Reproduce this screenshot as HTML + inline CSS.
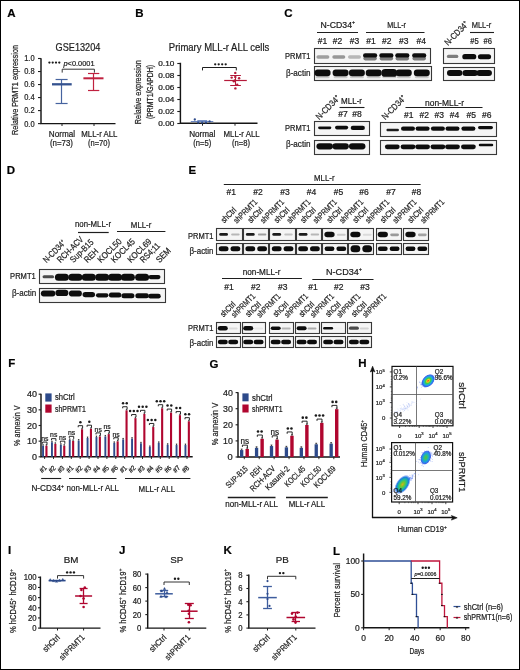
<!DOCTYPE html>
<html><head><meta charset="utf-8"><style>
html,body{margin:0;padding:0;background:#fff;width:520px;height:670px;overflow:hidden}
svg{display:block;will-change:transform}
text{font-family:"Liberation Sans", sans-serif;stroke:#1e1e1e;stroke-width:0.22px}
</style></head><body>
<svg width="520" height="670" viewBox="0 0 520 670" font-family='"Liberation Sans", sans-serif' fill="#1e1e1e">
<defs>
<filter id="b1" x="-50%" y="-80%" width="200%" height="260%"><feGaussianBlur stdDeviation="0.75"/></filter>
<filter id="b2" x="-50%" y="-80%" width="200%" height="260%"><feGaussianBlur stdDeviation="0.6"/></filter>
<filter id="b3" x="-50%" y="-50%" width="200%" height="200%"><feGaussianBlur stdDeviation="1.4"/></filter>
<radialGradient id="gq2a"><stop offset="0" stop-color="#e8201a"/><stop offset="0.18" stop-color="#f0d020"/><stop offset="0.38" stop-color="#40d040"/><stop offset="0.6" stop-color="#18b0e0"/><stop offset="0.85" stop-color="#2050e8" stop-opacity="0.85"/><stop offset="1" stop-color="#4060f0" stop-opacity="0"/></radialGradient>
<radialGradient id="gq2b"><stop offset="0" stop-color="#60c030"/><stop offset="0.3" stop-color="#30c080"/><stop offset="0.6" stop-color="#18a0e0"/><stop offset="0.85" stop-color="#2050e8" stop-opacity="0.8"/><stop offset="1" stop-color="#4060f0" stop-opacity="0"/></radialGradient>
<radialGradient id="gq4b"><stop offset="0" stop-color="#d0b020"/><stop offset="0.25" stop-color="#70c830"/><stop offset="0.5" stop-color="#20c090"/><stop offset="0.75" stop-color="#1880e0"/><stop offset="1" stop-color="#4060f0" stop-opacity="0"/></radialGradient>
</defs>
<rect x="0" y="0" width="520" height="670" fill="#fff"/>
<text x="7.30" y="16.90" font-size="11.5" fill="#000" font-weight="bold">A</text>
<text x="78.00" y="51.20" font-size="10.3" text-anchor="middle" textLength="44.80" lengthAdjust="spacingAndGlyphs">GSE13204</text>
<path d="M41.0,58.2 V123.6 H115.5" stroke="#151515" stroke-width="1.45" fill="none" />
<line x1="38.00" y1="123.60" x2="41.00" y2="123.60" stroke="#1e1e1e" stroke-width="1.1" />
<text x="34.60" y="126.50" font-size="8.2" text-anchor="end" textLength="10.40" lengthAdjust="spacingAndGlyphs">0.0</text>
<line x1="38.00" y1="110.58" x2="41.00" y2="110.58" stroke="#1e1e1e" stroke-width="1.1" />
<text x="34.60" y="113.48" font-size="8.2" text-anchor="end" textLength="10.40" lengthAdjust="spacingAndGlyphs">0.2</text>
<line x1="38.00" y1="97.56" x2="41.00" y2="97.56" stroke="#1e1e1e" stroke-width="1.1" />
<text x="34.60" y="100.46" font-size="8.2" text-anchor="end" textLength="10.40" lengthAdjust="spacingAndGlyphs">0.4</text>
<line x1="38.00" y1="84.54" x2="41.00" y2="84.54" stroke="#1e1e1e" stroke-width="1.1" />
<text x="34.60" y="87.44" font-size="8.2" text-anchor="end" textLength="10.40" lengthAdjust="spacingAndGlyphs">0.6</text>
<line x1="38.00" y1="71.52" x2="41.00" y2="71.52" stroke="#1e1e1e" stroke-width="1.1" />
<text x="34.60" y="74.42" font-size="8.2" text-anchor="end" textLength="10.40" lengthAdjust="spacingAndGlyphs">0.8</text>
<line x1="38.00" y1="58.50" x2="41.00" y2="58.50" stroke="#1e1e1e" stroke-width="1.1" />
<text x="34.60" y="61.40" font-size="8.2" text-anchor="end" textLength="10.40" lengthAdjust="spacingAndGlyphs">1.0</text>
<line x1="62.00" y1="123.60" x2="62.00" y2="126.00" stroke="#1e1e1e" stroke-width="1.0" />
<line x1="94.00" y1="123.60" x2="94.00" y2="126.00" stroke="#1e1e1e" stroke-width="1.0" />
<text x="17.80" y="90.00" font-size="8.8" text-anchor="middle" textLength="90.00" lengthAdjust="spacingAndGlyphs" transform="rotate(-90 17.80 90.00)">Relative PRMT1 expression</text>
<line x1="61.50" y1="79.30" x2="61.50" y2="103.60" stroke="#46639f" stroke-width="1.2" />
<line x1="55.60" y1="79.50" x2="67.60" y2="79.50" stroke="#46639f" stroke-width="1.2" />
<line x1="55.60" y1="103.50" x2="67.60" y2="103.50" stroke="#46639f" stroke-width="1.2" />
<line x1="52.00" y1="84.30" x2="71.70" y2="84.30" stroke="#34528f" stroke-width="2.3" />
<line x1="93.50" y1="73.30" x2="93.50" y2="90.50" stroke="#c0213f" stroke-width="1.2" />
<line x1="88.00" y1="73.50" x2="99.30" y2="73.50" stroke="#c0213f" stroke-width="1.2" />
<line x1="88.00" y1="90.50" x2="99.30" y2="90.50" stroke="#c0213f" stroke-width="1.2" />
<line x1="83.40" y1="78.30" x2="103.50" y2="78.30" stroke="#c0213f" stroke-width="2.0" />
<path d="M62.2,72.6 V69.2 H94.4 V72.6" stroke="#1e1e1e" stroke-width="0.9" fill="none" />
<circle cx="49.40" cy="62.60" r="1.15" fill="#1a1a1a" />
<circle cx="52.70" cy="62.60" r="1.15" fill="#1a1a1a" />
<circle cx="56.00" cy="62.60" r="1.15" fill="#1a1a1a" />
<circle cx="59.30" cy="62.60" r="1.15" fill="#1a1a1a" />
<text x="63.50" y="65.60" font-size="7.6" textLength="31.00" lengthAdjust="spacingAndGlyphs"><tspan font-style="italic">p</tspan>&lt;0.0001</text>
<text x="61.90" y="136.90" font-size="8.6" text-anchor="middle" textLength="26.30" lengthAdjust="spacingAndGlyphs">Normal</text>
<text x="61.50" y="145.60" font-size="8.6" text-anchor="middle" textLength="23.00" lengthAdjust="spacingAndGlyphs">(n=73)</text>
<text x="99.40" y="136.90" font-size="8.6" text-anchor="middle" textLength="36.20" lengthAdjust="spacingAndGlyphs">MLL-r ALL</text>
<text x="99.00" y="145.60" font-size="8.6" text-anchor="middle" textLength="22.00" lengthAdjust="spacingAndGlyphs">(n=70)</text>
<text x="135.30" y="16.90" font-size="11.5" fill="#000" font-weight="bold">B</text>
<text x="168.80" y="50.80" font-size="10.3" textLength="100.50" lengthAdjust="spacingAndGlyphs">Primary MLL-r ALL cells</text>
<path d="M180.4,62.8 V123.3 H257.5" stroke="#151515" stroke-width="1.45" fill="none" />
<line x1="177.30" y1="123.50" x2="180.40" y2="123.50" stroke="#1e1e1e" stroke-width="1.1" />
<text x="174.30" y="125.70" font-size="6.8" text-anchor="end" textLength="16.00" lengthAdjust="spacingAndGlyphs">0.00</text>
<line x1="177.30" y1="111.50" x2="180.40" y2="111.50" stroke="#1e1e1e" stroke-width="1.1" />
<text x="174.30" y="113.70" font-size="6.8" text-anchor="end" textLength="16.00" lengthAdjust="spacingAndGlyphs">0.02</text>
<line x1="177.30" y1="99.50" x2="180.40" y2="99.50" stroke="#1e1e1e" stroke-width="1.1" />
<text x="174.30" y="101.70" font-size="6.8" text-anchor="end" textLength="16.00" lengthAdjust="spacingAndGlyphs">0.04</text>
<line x1="177.30" y1="87.50" x2="180.40" y2="87.50" stroke="#1e1e1e" stroke-width="1.1" />
<text x="174.30" y="89.70" font-size="6.8" text-anchor="end" textLength="16.00" lengthAdjust="spacingAndGlyphs">0.06</text>
<line x1="177.30" y1="75.50" x2="180.40" y2="75.50" stroke="#1e1e1e" stroke-width="1.1" />
<text x="174.30" y="77.70" font-size="6.8" text-anchor="end" textLength="16.00" lengthAdjust="spacingAndGlyphs">0.08</text>
<line x1="177.30" y1="63.50" x2="180.40" y2="63.50" stroke="#1e1e1e" stroke-width="1.1" />
<text x="174.30" y="65.70" font-size="6.8" text-anchor="end" textLength="16.00" lengthAdjust="spacingAndGlyphs">0.10</text>
<line x1="202.50" y1="123.30" x2="202.50" y2="125.70" stroke="#1e1e1e" stroke-width="1.0" />
<line x1="235.00" y1="123.30" x2="235.00" y2="125.70" stroke="#1e1e1e" stroke-width="1.0" />
<text x="141.00" y="92.20" font-size="8.8" text-anchor="middle" textLength="64.00" lengthAdjust="spacingAndGlyphs" transform="rotate(-90 141.00 92.20)">Relative expression</text>
<text x="153.40" y="92.00" font-size="8.8" text-anchor="middle" textLength="54.00" lengthAdjust="spacingAndGlyphs" transform="rotate(-90 153.40 92.00)">(PRMT1/GAPDH)</text>
<line x1="190.80" y1="121.50" x2="213.30" y2="121.50" stroke="#6a86c0" stroke-width="1.0" />
<line x1="197.30" y1="120.50" x2="207.20" y2="120.50" stroke="#6a86c0" stroke-width="0.9" />
<circle cx="194.80" cy="119.50" r="1.15" fill="#2d4a8a" />
<circle cx="198.20" cy="122.60" r="1.15" fill="#2d4a8a" />
<circle cx="202.20" cy="122.60" r="1.15" fill="#2d4a8a" />
<circle cx="205.90" cy="122.60" r="1.15" fill="#2d4a8a" />
<circle cx="209.60" cy="121.40" r="1.15" fill="#2d4a8a" />
<line x1="224.20" y1="80.50" x2="246.80" y2="80.50" stroke="#b51a3a" stroke-width="1.2" />
<line x1="235.50" y1="75.30" x2="235.50" y2="85.00" stroke="#b51a3a" stroke-width="1.1" />
<line x1="230.20" y1="75.50" x2="240.90" y2="75.50" stroke="#b51a3a" stroke-width="1.0" />
<line x1="230.20" y1="85.50" x2="240.90" y2="85.50" stroke="#b51a3a" stroke-width="1.0" />
<circle cx="235.30" cy="72.90" r="1.2" fill="#b51a3a" />
<circle cx="231.70" cy="77.60" r="1.2" fill="#b51a3a" />
<circle cx="235.30" cy="76.90" r="1.2" fill="#b51a3a" />
<circle cx="239.10" cy="78.20" r="1.2" fill="#b51a3a" />
<circle cx="233.80" cy="81.30" r="1.2" fill="#b51a3a" />
<circle cx="237.20" cy="84.70" r="1.2" fill="#b51a3a" />
<circle cx="235.40" cy="88.40" r="1.2" fill="#b51a3a" />
<circle cx="234.80" cy="80.40" r="1.2" fill="#b51a3a" />
<path d="M202.5,70.4 V67.5 H236.3 V70.4" stroke="#1e1e1e" stroke-width="1.0" fill="none" />
<circle cx="215.20" cy="64.30" r="1.15" fill="#1a1a1a" />
<circle cx="218.70" cy="64.30" r="1.15" fill="#1a1a1a" />
<circle cx="222.20" cy="64.30" r="1.15" fill="#1a1a1a" />
<circle cx="225.70" cy="64.30" r="1.15" fill="#1a1a1a" />
<text x="202.30" y="136.70" font-size="8.6" text-anchor="middle" textLength="26.30" lengthAdjust="spacingAndGlyphs">Normal</text>
<text x="202.30" y="145.90" font-size="8.6" text-anchor="middle" textLength="18.00" lengthAdjust="spacingAndGlyphs">(n=5)</text>
<text x="241.60" y="136.70" font-size="8.6" text-anchor="middle" textLength="36.20" lengthAdjust="spacingAndGlyphs">MLL-r ALL</text>
<text x="241.00" y="145.90" font-size="8.6" text-anchor="middle" textLength="18.00" lengthAdjust="spacingAndGlyphs">(n=8)</text>
<text x="284.30" y="17.00" font-size="11.5" fill="#000" font-weight="bold">C</text>
<text x="337.80" y="27.90" font-size="8.6" text-anchor="middle" textLength="34.5" lengthAdjust="spacingAndGlyphs">N-CD34<tspan font-size="5.16" dy="-3.44">+</tspan></text>
<line x1="317.00" y1="32.50" x2="358.00" y2="32.50" stroke="#1e1e1e" stroke-width="1.1" />
<text x="396.60" y="27.90" font-size="8.6" text-anchor="middle" textLength="18.80" lengthAdjust="spacingAndGlyphs">MLL-r</text>
<line x1="366.00" y1="32.50" x2="424.50" y2="32.50" stroke="#1e1e1e" stroke-width="1.1" />
<text x="322.50" y="44.00" font-size="8.4" text-anchor="middle" textLength="9.50" lengthAdjust="spacingAndGlyphs">#1</text>
<text x="337.50" y="44.00" font-size="8.4" text-anchor="middle" textLength="9.50" lengthAdjust="spacingAndGlyphs">#2</text>
<text x="354.50" y="44.00" font-size="8.4" text-anchor="middle" textLength="9.50" lengthAdjust="spacingAndGlyphs">#3</text>
<text x="371.00" y="44.00" font-size="8.4" text-anchor="middle" textLength="9.50" lengthAdjust="spacingAndGlyphs">#1</text>
<text x="386.75" y="44.00" font-size="8.4" text-anchor="middle" textLength="9.50" lengthAdjust="spacingAndGlyphs">#2</text>
<text x="403.75" y="44.00" font-size="8.4" text-anchor="middle" textLength="9.50" lengthAdjust="spacingAndGlyphs">#3</text>
<text x="421.25" y="44.00" font-size="8.4" text-anchor="middle" textLength="9.50" lengthAdjust="spacingAndGlyphs">#4</text>
<text x="310.50" y="59.30" font-size="8.6" text-anchor="end" textLength="25.50" lengthAdjust="spacingAndGlyphs">PRMT1</text>
<text x="310.50" y="76.00" font-size="8.6" text-anchor="end" textLength="24.50" lengthAdjust="spacingAndGlyphs">β-actin</text>
<rect x="314.50" y="48.50" width="116.00" height="15.00" fill="#f5f5f5" stroke="#383838" stroke-width="1.1" />
<rect x="314.50" y="66.50" width="117.00" height="14.00" fill="#f5f5f5" stroke="#383838" stroke-width="1.1" />
<rect x="316.40" y="55.30" width="13.00" height="3.40" rx="1.70" fill="rgb(159,159,159)" filter="url(#b1)"/>
<rect x="332.30" y="55.30" width="13.00" height="3.40" rx="1.70" fill="rgb(151,151,151)" filter="url(#b1)"/>
<rect x="348.00" y="55.30" width="13.00" height="3.40" rx="1.70" fill="rgb(183,183,183)" filter="url(#b1)"/>
<rect x="363.35" y="56.80" width="13.50" height="3.60" rx="1.80" fill="rgb(123,123,123)" filter="url(#b1)"/>
<rect x="363.00" y="53.20" width="14.20" height="4.40" rx="2.20" fill="rgb(15,15,15)" filter="url(#b1)"/>
<rect x="379.65" y="56.80" width="13.50" height="3.60" rx="1.80" fill="rgb(123,123,123)" filter="url(#b1)"/>
<rect x="379.30" y="53.20" width="14.20" height="4.40" rx="2.20" fill="rgb(15,15,15)" filter="url(#b1)"/>
<rect x="395.55" y="56.80" width="13.50" height="3.60" rx="1.80" fill="rgb(123,123,123)" filter="url(#b1)"/>
<rect x="395.20" y="53.20" width="14.20" height="4.40" rx="2.20" fill="rgb(15,15,15)" filter="url(#b1)"/>
<rect x="412.45" y="56.80" width="13.50" height="3.60" rx="1.80" fill="rgb(123,123,123)" filter="url(#b1)"/>
<rect x="412.10" y="53.20" width="14.20" height="4.40" rx="2.20" fill="rgb(15,15,15)" filter="url(#b1)"/>
<rect x="315.60" y="75.70" width="14.00" height="2.60" rx="1.30" fill="rgb(202,202,202)" filter="url(#b2)"/>
<rect x="314.60" y="69.60" width="16.00" height="6.60" rx="3.30" fill="rgb(15,15,15)" filter="url(#b1)"/>
<rect x="333.60" y="75.70" width="14.00" height="2.60" rx="1.30" fill="rgb(202,202,202)" filter="url(#b2)"/>
<rect x="332.60" y="69.60" width="16.00" height="6.60" rx="3.30" fill="rgb(15,15,15)" filter="url(#b1)"/>
<rect x="349.90" y="75.70" width="14.00" height="2.60" rx="1.30" fill="rgb(202,202,202)" filter="url(#b2)"/>
<rect x="348.90" y="69.60" width="16.00" height="6.60" rx="3.30" fill="rgb(15,15,15)" filter="url(#b1)"/>
<rect x="366.70" y="75.70" width="14.00" height="2.60" rx="1.30" fill="rgb(202,202,202)" filter="url(#b2)"/>
<rect x="365.70" y="69.60" width="16.00" height="6.60" rx="3.30" fill="rgb(15,15,15)" filter="url(#b1)"/>
<rect x="382.30" y="75.70" width="14.00" height="2.60" rx="1.30" fill="rgb(202,202,202)" filter="url(#b2)"/>
<rect x="381.30" y="69.00" width="16.00" height="7.80" rx="3.90" fill="rgb(15,15,15)" filter="url(#b1)"/>
<rect x="396.80" y="75.70" width="14.00" height="2.60" rx="1.30" fill="rgb(202,202,202)" filter="url(#b2)"/>
<rect x="395.80" y="69.60" width="16.00" height="6.60" rx="3.30" fill="rgb(15,15,15)" filter="url(#b1)"/>
<rect x="414.80" y="75.70" width="14.00" height="2.60" rx="1.30" fill="rgb(202,202,202)" filter="url(#b2)"/>
<rect x="413.80" y="69.60" width="16.00" height="6.60" rx="3.30" fill="rgb(15,15,15)" filter="url(#b1)"/>
<text x="448.00" y="46.00" font-size="8.8" transform="rotate(-45 448.00 46.00)" textLength="30" lengthAdjust="spacingAndGlyphs">N-CD34<tspan font-size="5.28" dy="-3.52">+</tspan></text>
<text x="481.50" y="27.90" font-size="8.6" text-anchor="middle" textLength="19.60" lengthAdjust="spacingAndGlyphs">MLL-r</text>
<line x1="470.00" y1="32.50" x2="494.00" y2="32.50" stroke="#1e1e1e" stroke-width="1.1" />
<text x="474.40" y="44.00" font-size="8.4" text-anchor="middle" textLength="8.50" lengthAdjust="spacingAndGlyphs">#5</text>
<text x="487.80" y="44.00" font-size="8.4" text-anchor="middle" textLength="8.50" lengthAdjust="spacingAndGlyphs">#6</text>
<rect x="443.50" y="48.50" width="51.00" height="15.00" fill="#f5f5f5" stroke="#383838" stroke-width="1.1" />
<rect x="443.50" y="67.50" width="51.00" height="13.00" fill="#f5f5f5" stroke="#383838" stroke-width="1.1" />
<rect x="446.85" y="54.80" width="11.50" height="3.20" rx="1.60" fill="rgb(123,123,123)" filter="url(#b2)"/>
<rect x="462.30" y="54.10" width="14.00" height="5.20" rx="2.60" fill="rgb(15,15,15)" filter="url(#b1)"/>
<rect x="477.90" y="54.20" width="13.20" height="5.00" rx="2.50" fill="rgb(15,15,15)" filter="url(#b1)"/>
<rect x="446.95" y="70.10" width="15.50" height="6.00" rx="3.00" fill="rgb(15,15,15)" filter="url(#b1)"/>
<rect x="462.45" y="70.10" width="15.50" height="6.00" rx="3.00" fill="rgb(15,15,15)" filter="url(#b1)"/>
<rect x="476.45" y="70.10" width="15.50" height="6.00" rx="3.00" fill="rgb(15,15,15)" filter="url(#b1)"/>
<text x="319.30" y="120.20" font-size="8.8" transform="rotate(-45 319.30 120.20)" textLength="30" lengthAdjust="spacingAndGlyphs">N-CD34<tspan font-size="5.28" dy="-3.52">+</tspan></text>
<text x="351.50" y="103.50" font-size="8.6" text-anchor="middle" textLength="21.00" lengthAdjust="spacingAndGlyphs">MLL-r</text>
<line x1="339.50" y1="107.50" x2="364.50" y2="107.50" stroke="#1e1e1e" stroke-width="1.1" />
<text x="343.00" y="117.30" font-size="8.4" text-anchor="middle" textLength="9.50" lengthAdjust="spacingAndGlyphs">#7</text>
<text x="357.00" y="117.30" font-size="8.4" text-anchor="middle" textLength="9.50" lengthAdjust="spacingAndGlyphs">#8</text>
<text x="310.50" y="131.00" font-size="8.6" text-anchor="end" textLength="25.50" lengthAdjust="spacingAndGlyphs">PRMT1</text>
<text x="310.50" y="147.30" font-size="8.6" text-anchor="end" textLength="24.50" lengthAdjust="spacingAndGlyphs">β-actin</text>
<rect x="314.50" y="121.50" width="55.00" height="14.00" fill="#f5f5f5" stroke="#383838" stroke-width="1.1" />
<rect x="314.50" y="140.50" width="55.00" height="14.00" fill="#f5f5f5" stroke="#383838" stroke-width="1.1" />
<rect x="318.10" y="126.40" width="13.20" height="2.80" rx="1.40" fill="rgb(15,15,15)" filter="url(#b2)"/>
<rect x="335.00" y="125.80" width="13.20" height="3.60" rx="1.80" fill="rgb(15,15,15)" filter="url(#b1)"/>
<rect x="350.70" y="125.80" width="14.20" height="4.20" rx="2.10" fill="rgb(15,15,15)" filter="url(#b1)"/>
<rect x="316.45" y="143.15" width="16.50" height="6.30" rx="3.15" fill="rgb(15,15,15)" filter="url(#b1)"/>
<rect x="332.35" y="143.15" width="16.50" height="6.30" rx="3.15" fill="rgb(15,15,15)" filter="url(#b1)"/>
<rect x="348.95" y="143.15" width="16.50" height="6.30" rx="3.15" fill="rgb(15,15,15)" filter="url(#b1)"/>
<text x="385.30" y="120.20" font-size="8.8" transform="rotate(-45 385.30 120.20)" textLength="30" lengthAdjust="spacingAndGlyphs">N-CD34<tspan font-size="5.28" dy="-3.52">+</tspan></text>
<text x="444.50" y="105.50" font-size="8.6" text-anchor="middle" textLength="39.00" lengthAdjust="spacingAndGlyphs">non-MLL-r</text>
<line x1="405.50" y1="107.50" x2="482.50" y2="107.50" stroke="#1e1e1e" stroke-width="1.1" />
<text x="408.75" y="118.00" font-size="8.4" text-anchor="middle" textLength="9.50" lengthAdjust="spacingAndGlyphs">#1</text>
<text x="424.25" y="118.00" font-size="8.4" text-anchor="middle" textLength="9.50" lengthAdjust="spacingAndGlyphs">#2</text>
<text x="439.25" y="118.00" font-size="8.4" text-anchor="middle" textLength="9.50" lengthAdjust="spacingAndGlyphs">#3</text>
<text x="454.50" y="118.00" font-size="8.4" text-anchor="middle" textLength="9.50" lengthAdjust="spacingAndGlyphs">#4</text>
<text x="471.25" y="118.00" font-size="8.4" text-anchor="middle" textLength="9.50" lengthAdjust="spacingAndGlyphs">#5</text>
<text x="486.75" y="118.00" font-size="8.4" text-anchor="middle" textLength="9.50" lengthAdjust="spacingAndGlyphs">#6</text>
<rect x="380.50" y="122.50" width="116.00" height="14.00" fill="#f5f5f5" stroke="#383838" stroke-width="1.1" />
<rect x="380.50" y="140.50" width="116.00" height="14.00" fill="#f5f5f5" stroke="#383838" stroke-width="1.1" />
<rect x="386.45" y="128.80" width="12.50" height="2.40" rx="1.20" fill="rgb(27,27,27)" filter="url(#b2)"/>
<rect x="401.00" y="126.40" width="14.00" height="4.40" rx="2.20" fill="rgb(15,15,15)" filter="url(#b1)"/>
<rect x="415.60" y="126.40" width="14.00" height="4.40" rx="2.20" fill="rgb(15,15,15)" filter="url(#b1)"/>
<rect x="430.90" y="126.40" width="14.00" height="4.40" rx="2.20" fill="rgb(15,15,15)" filter="url(#b1)"/>
<rect x="445.50" y="126.40" width="14.00" height="4.40" rx="2.20" fill="rgb(15,15,15)" filter="url(#b1)"/>
<rect x="461.40" y="126.40" width="14.00" height="4.40" rx="2.20" fill="rgb(15,15,15)" filter="url(#b1)"/>
<rect x="478.00" y="125.90" width="15.00" height="3.40" rx="1.70" fill="rgb(15,15,15)" filter="url(#b2)"/>
<rect x="384.90" y="144.40" width="14.80" height="4.80" rx="2.40" fill="rgb(15,15,15)" filter="url(#b1)"/>
<rect x="400.60" y="144.40" width="14.80" height="4.80" rx="2.40" fill="rgb(15,15,15)" filter="url(#b1)"/>
<rect x="415.20" y="144.40" width="14.80" height="4.80" rx="2.40" fill="rgb(15,15,15)" filter="url(#b1)"/>
<rect x="430.50" y="144.40" width="14.80" height="4.80" rx="2.40" fill="rgb(15,15,15)" filter="url(#b1)"/>
<rect x="445.10" y="144.40" width="14.80" height="4.80" rx="2.40" fill="rgb(15,15,15)" filter="url(#b1)"/>
<rect x="461.00" y="144.40" width="14.80" height="4.80" rx="2.40" fill="rgb(15,15,15)" filter="url(#b1)"/>
<rect x="478.75" y="143.70" width="14.50" height="2.60" rx="1.30" fill="rgb(15,15,15)" filter="url(#b2)"/>
<text x="6.80" y="174.30" font-size="11.5" fill="#000" font-weight="bold">D</text>
<text x="93.00" y="227.40" font-size="8.6" text-anchor="middle" textLength="36.00" lengthAdjust="spacingAndGlyphs">non-MLL-r</text>
<line x1="78.00" y1="232.50" x2="108.70" y2="232.50" stroke="#1e1e1e" stroke-width="1.2" />
<text x="141.10" y="227.70" font-size="8.6" text-anchor="middle" textLength="20.50" lengthAdjust="spacingAndGlyphs">MLL-r</text>
<line x1="117.00" y1="231.50" x2="165.40" y2="231.50" stroke="#1e1e1e" stroke-width="1.1" />
<text x="46.60" y="263.30" font-size="8.8" transform="rotate(-45 46.60 263.30)" textLength="28" lengthAdjust="spacingAndGlyphs">N-CD34<tspan font-size="5.28" dy="-3.52">+</tspan></text>
<text x="60.60" y="263.30" font-size="8.8" textLength="33.00" lengthAdjust="spacingAndGlyphs" transform="rotate(-45 60.60 263.30)">RCH-ACV</text>
<text x="73.60" y="263.30" font-size="8.8" textLength="29.00" lengthAdjust="spacingAndGlyphs" transform="rotate(-45 73.60 263.30)">Sup-B15</text>
<text x="87.60" y="263.30" font-size="8.8" textLength="16.00" lengthAdjust="spacingAndGlyphs" transform="rotate(-45 87.60 263.30)">REH</text>
<text x="101.00" y="263.30" font-size="8.8" textLength="30.00" lengthAdjust="spacingAndGlyphs" transform="rotate(-45 101.00 263.30)">KOCL50</text>
<text x="114.40" y="263.30" font-size="8.8" textLength="30.00" lengthAdjust="spacingAndGlyphs" transform="rotate(-45 114.40 263.30)">KOCL45</text>
<text x="130.90" y="263.30" font-size="8.8" textLength="30.00" lengthAdjust="spacingAndGlyphs" transform="rotate(-45 130.90 263.30)">KOCL69</text>
<text x="143.60" y="263.30" font-size="8.8" textLength="24.00" lengthAdjust="spacingAndGlyphs" transform="rotate(-45 143.60 263.30)">RS4;11</text>
<text x="159.40" y="263.30" font-size="8.8" textLength="17.00" lengthAdjust="spacingAndGlyphs" transform="rotate(-45 159.40 263.30)">SEM</text>
<text x="35.80" y="278.90" font-size="8.6" text-anchor="end" textLength="25.70" lengthAdjust="spacingAndGlyphs">PRMT1</text>
<text x="36.20" y="296.30" font-size="8.6" text-anchor="end" textLength="24.20" lengthAdjust="spacingAndGlyphs">β-actin</text>
<rect x="39.50" y="269.50" width="125.00" height="14.00" fill="#f5f5f5" stroke="#383838" stroke-width="1.1" />
<rect x="39.50" y="288.50" width="126.00" height="14.00" fill="#f5f5f5" stroke="#383838" stroke-width="1.1" />
<rect x="42.55" y="275.30" width="11.50" height="3.00" rx="1.50" fill="rgb(75,75,75)" filter="url(#b2)"/>
<rect x="54.90" y="273.70" width="14.00" height="7.00" rx="3.50" fill="rgb(15,15,15)" filter="url(#b1)"/>
<rect x="68.40" y="273.70" width="14.00" height="7.00" rx="3.50" fill="rgb(15,15,15)" filter="url(#b1)"/>
<rect x="81.80" y="273.70" width="14.00" height="7.00" rx="3.50" fill="rgb(15,15,15)" filter="url(#b1)"/>
<rect x="95.20" y="273.70" width="14.00" height="7.00" rx="3.50" fill="rgb(15,15,15)" filter="url(#b1)"/>
<rect x="108.10" y="273.70" width="14.00" height="7.00" rx="3.50" fill="rgb(15,15,15)" filter="url(#b1)"/>
<rect x="120.90" y="273.70" width="14.00" height="7.00" rx="3.50" fill="rgb(15,15,15)" filter="url(#b1)"/>
<rect x="135.10" y="273.70" width="14.00" height="7.00" rx="3.50" fill="rgb(15,15,15)" filter="url(#b1)"/>
<rect x="148.50" y="275.00" width="12.00" height="4.20" rx="2.10" fill="rgb(15,15,15)" filter="url(#b1)"/>
<rect x="40.85" y="290.60" width="14.50" height="6.00" rx="3.00" fill="rgb(15,15,15)" filter="url(#b1)"/>
<rect x="55.40" y="289.80" width="13.00" height="6.20" rx="3.10" fill="rgb(15,15,15)" filter="url(#b1)"/>
<rect x="68.90" y="290.60" width="13.00" height="5.80" rx="2.90" fill="rgb(15,15,15)" filter="url(#b1)"/>
<rect x="82.55" y="291.90" width="12.50" height="5.40" rx="2.70" fill="rgb(15,15,15)" filter="url(#b1)"/>
<rect x="95.95" y="293.20" width="12.50" height="4.20" rx="2.10" fill="rgb(15,15,15)" filter="url(#b1)"/>
<rect x="108.85" y="292.50" width="12.50" height="5.00" rx="2.50" fill="rgb(15,15,15)" filter="url(#b1)"/>
<rect x="121.40" y="293.20" width="13.00" height="5.00" rx="2.50" fill="rgb(15,15,15)" filter="url(#b1)"/>
<rect x="135.35" y="293.20" width="13.50" height="5.00" rx="2.50" fill="rgb(15,15,15)" filter="url(#b1)"/>
<rect x="148.25" y="293.80" width="12.50" height="4.80" rx="2.40" fill="rgb(15,15,15)" filter="url(#b1)"/>
<text x="188.50" y="173.60" font-size="11.5" fill="#000" font-weight="bold">E</text>
<text x="324.30" y="181.00" font-size="8.6" text-anchor="middle" textLength="20.50" lengthAdjust="spacingAndGlyphs">MLL-r</text>
<line x1="223.80" y1="184.50" x2="420.60" y2="184.50" stroke="#1e1e1e" stroke-width="1.1" />
<text x="231.20" y="195.00" font-size="8.4" text-anchor="middle" textLength="9.50" lengthAdjust="spacingAndGlyphs">#1</text>
<text x="258.00" y="195.00" font-size="8.4" text-anchor="middle" textLength="9.50" lengthAdjust="spacingAndGlyphs">#2</text>
<text x="285.00" y="195.00" font-size="8.4" text-anchor="middle" textLength="9.50" lengthAdjust="spacingAndGlyphs">#3</text>
<text x="311.50" y="195.00" font-size="8.4" text-anchor="middle" textLength="9.50" lengthAdjust="spacingAndGlyphs">#4</text>
<text x="338.50" y="195.00" font-size="8.4" text-anchor="middle" textLength="9.50" lengthAdjust="spacingAndGlyphs">#5</text>
<text x="364.00" y="195.00" font-size="8.4" text-anchor="middle" textLength="9.50" lengthAdjust="spacingAndGlyphs">#6</text>
<text x="391.00" y="195.00" font-size="8.4" text-anchor="middle" textLength="9.50" lengthAdjust="spacingAndGlyphs">#7</text>
<text x="416.50" y="195.00" font-size="8.4" text-anchor="middle" textLength="9.50" lengthAdjust="spacingAndGlyphs">#8</text>
<text x="213.50" y="238.80" font-size="8.6" text-anchor="end" textLength="25.50" lengthAdjust="spacingAndGlyphs">PRMT1</text>
<text x="213.50" y="253.80" font-size="8.6" text-anchor="end" textLength="24.00" lengthAdjust="spacingAndGlyphs">β-actin</text>
<rect x="216.50" y="228.50" width="26.00" height="12.00" fill="#f5f5f5" stroke="#383838" stroke-width="1.1" />
<rect x="216.50" y="243.50" width="26.00" height="11.00" fill="#f5f5f5" stroke="#383838" stroke-width="1.1" />
<rect x="219.20" y="233.00" width="8.80" height="2.80" rx="1.40" fill="rgb(27,27,27)" filter="url(#b2)"/>
<rect x="231.15" y="233.60" width="8.50" height="2.00" rx="1.00" fill="rgb(183,183,183)" filter="url(#b2)"/>
<rect x="218.70" y="246.30" width="9.80" height="5.00" rx="2.50" fill="rgb(15,15,15)" filter="url(#b1)"/>
<rect x="230.50" y="246.30" width="9.80" height="5.00" rx="2.50" fill="rgb(15,15,15)" filter="url(#b1)"/>
<text x="224.20" y="223.40" font-size="8.4" textLength="18.00" lengthAdjust="spacingAndGlyphs" transform="rotate(-45 224.20 223.40)">shCtrl</text>
<text x="236.80" y="223.80" font-size="8.4" textLength="30.00" lengthAdjust="spacingAndGlyphs" transform="rotate(-45 236.80 223.80)">shPRMT1</text>
<rect x="243.50" y="228.50" width="25.00" height="12.00" fill="#f5f5f5" stroke="#383838" stroke-width="1.1" />
<rect x="243.50" y="243.50" width="25.00" height="11.00" fill="#f5f5f5" stroke="#383838" stroke-width="1.1" />
<rect x="245.90" y="233.00" width="8.80" height="2.80" rx="1.40" fill="rgb(27,27,27)" filter="url(#b2)"/>
<rect x="257.85" y="233.60" width="8.50" height="2.00" rx="1.00" fill="rgb(159,159,159)" filter="url(#b2)"/>
<rect x="245.40" y="246.30" width="9.80" height="5.00" rx="2.50" fill="rgb(15,15,15)" filter="url(#b1)"/>
<rect x="257.20" y="246.30" width="9.80" height="5.00" rx="2.50" fill="rgb(15,15,15)" filter="url(#b1)"/>
<text x="250.90" y="223.40" font-size="8.4" textLength="18.00" lengthAdjust="spacingAndGlyphs" transform="rotate(-45 250.90 223.40)">shCtrl</text>
<text x="263.50" y="223.80" font-size="8.4" textLength="30.00" lengthAdjust="spacingAndGlyphs" transform="rotate(-45 263.50 223.80)">shPRMT1</text>
<rect x="269.50" y="228.50" width="26.00" height="12.00" fill="#f5f5f5" stroke="#383838" stroke-width="1.1" />
<rect x="269.50" y="243.50" width="26.00" height="11.00" fill="#f5f5f5" stroke="#383838" stroke-width="1.1" />
<rect x="272.30" y="233.00" width="8.80" height="2.80" rx="1.40" fill="rgb(27,27,27)" filter="url(#b2)"/>
<rect x="284.25" y="233.60" width="8.50" height="2.00" rx="1.00" fill="rgb(195,195,195)" filter="url(#b2)"/>
<rect x="271.80" y="246.30" width="9.80" height="5.00" rx="2.50" fill="rgb(15,15,15)" filter="url(#b1)"/>
<rect x="283.60" y="246.30" width="9.80" height="5.00" rx="2.50" fill="rgb(15,15,15)" filter="url(#b1)"/>
<text x="277.30" y="223.40" font-size="8.4" textLength="18.00" lengthAdjust="spacingAndGlyphs" transform="rotate(-45 277.30 223.40)">shCtrl</text>
<text x="289.90" y="223.80" font-size="8.4" textLength="30.00" lengthAdjust="spacingAndGlyphs" transform="rotate(-45 289.90 223.80)">shPRMT1</text>
<rect x="296.50" y="228.50" width="25.00" height="12.00" fill="#f5f5f5" stroke="#383838" stroke-width="1.1" />
<rect x="296.50" y="243.50" width="25.00" height="11.00" fill="#f5f5f5" stroke="#383838" stroke-width="1.1" />
<rect x="298.70" y="233.00" width="8.80" height="2.80" rx="1.40" fill="rgb(27,27,27)" filter="url(#b2)"/>
<rect x="310.65" y="233.60" width="8.50" height="2.00" rx="1.00" fill="rgb(183,183,183)" filter="url(#b2)"/>
<rect x="298.20" y="246.30" width="9.80" height="5.00" rx="2.50" fill="rgb(15,15,15)" filter="url(#b1)"/>
<rect x="310.00" y="246.30" width="9.80" height="5.00" rx="2.50" fill="rgb(15,15,15)" filter="url(#b1)"/>
<text x="303.70" y="223.40" font-size="8.4" textLength="18.00" lengthAdjust="spacingAndGlyphs" transform="rotate(-45 303.70 223.40)">shCtrl</text>
<text x="316.30" y="223.80" font-size="8.4" textLength="30.00" lengthAdjust="spacingAndGlyphs" transform="rotate(-45 316.30 223.80)">shPRMT1</text>
<rect x="322.50" y="228.50" width="25.00" height="12.00" fill="#f5f5f5" stroke="#383838" stroke-width="1.1" />
<rect x="322.50" y="243.50" width="25.00" height="11.00" fill="#f5f5f5" stroke="#383838" stroke-width="1.1" />
<rect x="324.40" y="231.70" width="10.20" height="5.60" rx="2.80" fill="rgb(15,15,15)" filter="url(#b1)"/>
<rect x="336.90" y="233.80" width="8.80" height="2.00" rx="1.00" fill="rgb(202,202,202)" filter="url(#b2)"/>
<rect x="324.60" y="246.60" width="9.80" height="4.40" rx="2.20" fill="rgb(15,15,15)" filter="url(#b1)"/>
<rect x="336.40" y="246.60" width="9.80" height="4.40" rx="2.20" fill="rgb(15,15,15)" filter="url(#b1)"/>
<text x="330.10" y="223.40" font-size="8.4" textLength="18.00" lengthAdjust="spacingAndGlyphs" transform="rotate(-45 330.10 223.40)">shCtrl</text>
<text x="342.70" y="223.80" font-size="8.4" textLength="30.00" lengthAdjust="spacingAndGlyphs" transform="rotate(-45 342.70 223.80)">shPRMT1</text>
<rect x="348.50" y="228.50" width="25.00" height="12.00" fill="#f5f5f5" stroke="#383838" stroke-width="1.1" />
<rect x="348.50" y="243.50" width="25.00" height="11.00" fill="#f5f5f5" stroke="#383838" stroke-width="1.1" />
<rect x="350.30" y="231.70" width="10.20" height="5.60" rx="2.80" fill="rgb(15,15,15)" filter="url(#b1)"/>
<rect x="362.80" y="233.80" width="8.80" height="2.00" rx="1.00" fill="rgb(219,219,219)" filter="url(#b2)"/>
<rect x="350.50" y="245.30" width="9.80" height="7.00" rx="3.50" fill="rgb(15,15,15)" filter="url(#b1)"/>
<rect x="362.30" y="245.30" width="9.80" height="7.00" rx="3.50" fill="rgb(15,15,15)" filter="url(#b1)"/>
<text x="356.00" y="223.40" font-size="8.4" textLength="18.00" lengthAdjust="spacingAndGlyphs" transform="rotate(-45 356.00 223.40)">shCtrl</text>
<text x="368.60" y="223.80" font-size="8.4" textLength="30.00" lengthAdjust="spacingAndGlyphs" transform="rotate(-45 368.60 223.80)">shPRMT1</text>
<rect x="376.50" y="228.50" width="25.00" height="12.00" fill="#f5f5f5" stroke="#383838" stroke-width="1.1" />
<rect x="376.50" y="243.50" width="25.00" height="11.00" fill="#f5f5f5" stroke="#383838" stroke-width="1.1" />
<rect x="377.70" y="231.70" width="10.20" height="5.60" rx="2.80" fill="rgb(15,15,15)" filter="url(#b1)"/>
<rect x="390.20" y="233.40" width="8.80" height="2.80" rx="1.40" fill="rgb(154,154,154)" filter="url(#b2)"/>
<rect x="377.90" y="246.60" width="9.80" height="4.40" rx="2.20" fill="rgb(15,15,15)" filter="url(#b1)"/>
<rect x="389.70" y="246.60" width="9.80" height="4.40" rx="2.20" fill="rgb(15,15,15)" filter="url(#b1)"/>
<text x="383.40" y="223.40" font-size="8.4" textLength="18.00" lengthAdjust="spacingAndGlyphs" transform="rotate(-45 383.40 223.40)">shCtrl</text>
<text x="396.00" y="223.80" font-size="8.4" textLength="30.00" lengthAdjust="spacingAndGlyphs" transform="rotate(-45 396.00 223.80)">shPRMT1</text>
<rect x="403.50" y="228.50" width="25.00" height="12.00" fill="#f5f5f5" stroke="#383838" stroke-width="1.1" />
<rect x="403.50" y="243.50" width="25.00" height="11.00" fill="#f5f5f5" stroke="#383838" stroke-width="1.1" />
<rect x="405.40" y="231.70" width="10.20" height="5.60" rx="2.80" fill="rgb(15,15,15)" filter="url(#b1)"/>
<rect x="417.90" y="233.40" width="8.80" height="2.80" rx="1.40" fill="rgb(163,163,163)" filter="url(#b2)"/>
<rect x="405.60" y="246.60" width="9.80" height="4.40" rx="2.20" fill="rgb(15,15,15)" filter="url(#b1)"/>
<rect x="417.40" y="246.60" width="9.80" height="4.40" rx="2.20" fill="rgb(15,15,15)" filter="url(#b1)"/>
<text x="411.10" y="223.40" font-size="8.4" textLength="18.00" lengthAdjust="spacingAndGlyphs" transform="rotate(-45 411.10 223.40)">shCtrl</text>
<text x="423.70" y="223.80" font-size="8.4" textLength="30.00" lengthAdjust="spacingAndGlyphs" transform="rotate(-45 423.70 223.80)">shPRMT1</text>
<text x="261.60" y="274.50" font-size="8.6" text-anchor="middle" textLength="37.60" lengthAdjust="spacingAndGlyphs">non-MLL-r</text>
<line x1="222.00" y1="278.50" x2="301.90" y2="278.50" stroke="#1e1e1e" stroke-width="1.1" />
<text x="344.00" y="274.50" font-size="8.6" text-anchor="middle" textLength="36" lengthAdjust="spacingAndGlyphs">N-CD34<tspan font-size="5.16" dy="-3.44">+</tspan></text>
<line x1="312.30" y1="279.50" x2="373.50" y2="279.50" stroke="#1e1e1e" stroke-width="1.1" />
<text x="229.00" y="289.50" font-size="8.4" text-anchor="middle" textLength="9.50" lengthAdjust="spacingAndGlyphs">#1</text>
<text x="255.70" y="289.50" font-size="8.4" text-anchor="middle" textLength="9.50" lengthAdjust="spacingAndGlyphs">#2</text>
<text x="282.70" y="289.50" font-size="8.4" text-anchor="middle" textLength="9.50" lengthAdjust="spacingAndGlyphs">#3</text>
<text x="313.00" y="289.50" font-size="8.4" text-anchor="middle" textLength="9.50" lengthAdjust="spacingAndGlyphs">#1</text>
<text x="338.80" y="289.50" font-size="8.4" text-anchor="middle" textLength="9.50" lengthAdjust="spacingAndGlyphs">#2</text>
<text x="365.00" y="289.50" font-size="8.4" text-anchor="middle" textLength="9.50" lengthAdjust="spacingAndGlyphs">#3</text>
<text x="213.50" y="330.70" font-size="8.6" text-anchor="end" textLength="25.50" lengthAdjust="spacingAndGlyphs">PRMT1</text>
<text x="213.50" y="345.50" font-size="8.6" text-anchor="end" textLength="24.00" lengthAdjust="spacingAndGlyphs">β-actin</text>
<rect x="216.50" y="322.50" width="24.00" height="11.00" fill="#f5f5f5" stroke="#383838" stroke-width="1.1" />
<rect x="216.50" y="336.50" width="24.00" height="11.00" fill="#f5f5f5" stroke="#383838" stroke-width="1.1" />
<rect x="217.80" y="325.90" width="10.00" height="4.60" rx="2.30" fill="rgb(15,15,15)" filter="url(#b1)"/>
<rect x="228.70" y="327.40" width="9.00" height="2.00" rx="1.00" fill="rgb(219,219,219)" filter="url(#b2)"/>
<rect x="217.80" y="339.70" width="10.00" height="4.60" rx="2.30" fill="rgb(15,15,15)" filter="url(#b1)"/>
<rect x="228.20" y="339.70" width="10.00" height="4.60" rx="2.30" fill="rgb(15,15,15)" filter="url(#b1)"/>
<text x="223.40" y="317.60" font-size="8.4" textLength="18.00" lengthAdjust="spacingAndGlyphs" transform="rotate(-45 223.40 317.60)">shCtrl</text>
<text x="234.60" y="318.00" font-size="8.4" textLength="30.00" lengthAdjust="spacingAndGlyphs" transform="rotate(-45 234.60 318.00)">shPRMT1</text>
<rect x="242.50" y="322.50" width="23.00" height="11.00" fill="#f5f5f5" stroke="#383838" stroke-width="1.1" />
<rect x="242.50" y="336.50" width="23.00" height="11.00" fill="#f5f5f5" stroke="#383838" stroke-width="1.1" />
<rect x="243.20" y="325.90" width="10.00" height="4.60" rx="2.30" fill="rgb(15,15,15)" filter="url(#b1)"/>
<rect x="254.10" y="327.40" width="9.00" height="2.00" rx="1.00" fill="rgb(231,231,231)" filter="url(#b2)"/>
<rect x="243.20" y="339.70" width="10.00" height="4.60" rx="2.30" fill="rgb(15,15,15)" filter="url(#b1)"/>
<rect x="253.60" y="339.70" width="10.00" height="4.60" rx="2.30" fill="rgb(15,15,15)" filter="url(#b1)"/>
<text x="248.80" y="317.60" font-size="8.4" textLength="18.00" lengthAdjust="spacingAndGlyphs" transform="rotate(-45 248.80 317.60)">shCtrl</text>
<text x="260.00" y="318.00" font-size="8.4" textLength="30.00" lengthAdjust="spacingAndGlyphs" transform="rotate(-45 260.00 318.00)">shPRMT1</text>
<rect x="269.50" y="322.50" width="24.00" height="11.00" fill="#f5f5f5" stroke="#383838" stroke-width="1.1" />
<rect x="269.50" y="336.50" width="24.00" height="11.00" fill="#f5f5f5" stroke="#383838" stroke-width="1.1" />
<rect x="270.70" y="326.40" width="10.00" height="3.60" rx="1.80" fill="rgb(15,15,15)" filter="url(#b1)"/>
<rect x="281.60" y="327.40" width="9.00" height="2.00" rx="1.00" fill="rgb(183,183,183)" filter="url(#b2)"/>
<rect x="270.70" y="339.70" width="10.00" height="4.60" rx="2.30" fill="rgb(15,15,15)" filter="url(#b1)"/>
<rect x="281.10" y="339.70" width="10.00" height="4.60" rx="2.30" fill="rgb(15,15,15)" filter="url(#b1)"/>
<text x="276.30" y="317.60" font-size="8.4" textLength="18.00" lengthAdjust="spacingAndGlyphs" transform="rotate(-45 276.30 317.60)">shCtrl</text>
<text x="287.50" y="318.00" font-size="8.4" textLength="30.00" lengthAdjust="spacingAndGlyphs" transform="rotate(-45 287.50 318.00)">shPRMT1</text>
<rect x="295.50" y="322.50" width="24.00" height="11.00" fill="#f5f5f5" stroke="#383838" stroke-width="1.1" />
<rect x="295.50" y="336.50" width="24.00" height="11.00" fill="#f5f5f5" stroke="#383838" stroke-width="1.1" />
<rect x="296.60" y="326.20" width="10.00" height="4.00" rx="2.00" fill="rgb(15,15,15)" filter="url(#b1)"/>
<rect x="307.50" y="327.40" width="9.00" height="2.00" rx="1.00" fill="rgb(171,171,171)" filter="url(#b2)"/>
<rect x="296.60" y="339.70" width="10.00" height="4.60" rx="2.30" fill="rgb(15,15,15)" filter="url(#b1)"/>
<rect x="307.00" y="339.70" width="10.00" height="4.60" rx="2.30" fill="rgb(15,15,15)" filter="url(#b1)"/>
<text x="302.20" y="317.60" font-size="8.4" textLength="18.00" lengthAdjust="spacingAndGlyphs" transform="rotate(-45 302.20 317.60)">shCtrl</text>
<text x="313.40" y="318.00" font-size="8.4" textLength="30.00" lengthAdjust="spacingAndGlyphs" transform="rotate(-45 313.40 318.00)">shPRMT1</text>
<rect x="321.50" y="322.50" width="24.00" height="11.00" fill="#f5f5f5" stroke="#383838" stroke-width="1.1" />
<rect x="321.50" y="336.50" width="24.00" height="11.00" fill="#f5f5f5" stroke="#383838" stroke-width="1.1" />
<rect x="323.10" y="327.00" width="10.00" height="2.40" rx="1.20" fill="rgb(15,15,15)" filter="url(#b2)"/>
<rect x="334.00" y="327.40" width="9.00" height="2.00" rx="1.00" fill="rgb(240,240,240)" filter="url(#b2)"/>
<rect x="323.10" y="339.70" width="10.00" height="4.60" rx="2.30" fill="rgb(15,15,15)" filter="url(#b1)"/>
<rect x="333.50" y="339.70" width="10.00" height="4.60" rx="2.30" fill="rgb(15,15,15)" filter="url(#b1)"/>
<text x="328.70" y="317.60" font-size="8.4" textLength="18.00" lengthAdjust="spacingAndGlyphs" transform="rotate(-45 328.70 317.60)">shCtrl</text>
<text x="339.90" y="318.00" font-size="8.4" textLength="30.00" lengthAdjust="spacingAndGlyphs" transform="rotate(-45 339.90 318.00)">shPRMT1</text>
<rect x="347.50" y="322.50" width="24.00" height="11.00" fill="#f5f5f5" stroke="#383838" stroke-width="1.1" />
<rect x="347.50" y="336.50" width="24.00" height="11.00" fill="#f5f5f5" stroke="#383838" stroke-width="1.1" />
<rect x="348.90" y="326.60" width="10.00" height="3.20" rx="1.60" fill="rgb(75,75,75)" filter="url(#b2)"/>
<rect x="359.80" y="327.40" width="9.00" height="2.00" rx="1.00" fill="rgb(211,211,211)" filter="url(#b2)"/>
<rect x="348.90" y="339.70" width="10.00" height="4.60" rx="2.30" fill="rgb(15,15,15)" filter="url(#b1)"/>
<rect x="359.30" y="339.70" width="10.00" height="4.60" rx="2.30" fill="rgb(15,15,15)" filter="url(#b1)"/>
<text x="354.50" y="317.60" font-size="8.4" textLength="18.00" lengthAdjust="spacingAndGlyphs" transform="rotate(-45 354.50 317.60)">shCtrl</text>
<text x="365.70" y="318.00" font-size="8.4" textLength="30.00" lengthAdjust="spacingAndGlyphs" transform="rotate(-45 365.70 318.00)">shPRMT1</text>
<text x="8.20" y="367.40" font-size="11.5" fill="#000" font-weight="bold">F</text>
<path d="M41.0,393.8 V456.8 H192.7" stroke="#151515" stroke-width="1.45" fill="none" />
<line x1="38.60" y1="456.80" x2="41.00" y2="456.80" stroke="#1e1e1e" stroke-width="1.1" />
<text x="37.00" y="459.80" font-size="8.4" text-anchor="end" textLength="5.00" lengthAdjust="spacingAndGlyphs">0</text>
<line x1="38.60" y1="441.15" x2="41.00" y2="441.15" stroke="#1e1e1e" stroke-width="1.1" />
<text x="37.00" y="444.15" font-size="8.4" text-anchor="end" textLength="10.00" lengthAdjust="spacingAndGlyphs">10</text>
<line x1="38.60" y1="425.50" x2="41.00" y2="425.50" stroke="#1e1e1e" stroke-width="1.1" />
<text x="37.00" y="428.50" font-size="8.4" text-anchor="end" textLength="10.00" lengthAdjust="spacingAndGlyphs">20</text>
<line x1="38.60" y1="409.85" x2="41.00" y2="409.85" stroke="#1e1e1e" stroke-width="1.1" />
<text x="37.00" y="412.85" font-size="8.4" text-anchor="end" textLength="10.00" lengthAdjust="spacingAndGlyphs">30</text>
<line x1="38.60" y1="394.20" x2="41.00" y2="394.20" stroke="#1e1e1e" stroke-width="1.1" />
<text x="37.00" y="397.20" font-size="8.4" text-anchor="end" textLength="10.00" lengthAdjust="spacingAndGlyphs">40</text>
<text x="20.20" y="425.70" font-size="8.8" text-anchor="middle" textLength="40.50" lengthAdjust="spacingAndGlyphs" transform="rotate(-90 20.20 425.70)">% annexin V</text>
<rect x="45.30" y="393.40" width="6.30" height="8.20" fill="#2d4a8a" stroke="none" stroke-width="1" />
<rect x="45.30" y="404.50" width="6.30" height="8.20" fill="#b0062f" stroke="none" stroke-width="1" />
<text x="55.00" y="400.20" font-size="8.4" textLength="19.80" lengthAdjust="spacingAndGlyphs">shCtrl</text>
<text x="55.00" y="412.00" font-size="8.4" textLength="31.00" lengthAdjust="spacingAndGlyphs">shPRMT1</text>
<rect x="42.10" y="445.69" width="1.90" height="11.11" fill="#2d4a8a" stroke="none" stroke-width="1" />
<rect x="45.40" y="445.69" width="2.10" height="11.11" fill="#b0062f" stroke="none" stroke-width="1" />
<line x1="43.05" y1="445.69" x2="43.05" y2="444.69" stroke="#1e1e1e" stroke-width="0.8" />
<line x1="42.35" y1="444.69" x2="43.75" y2="444.69" stroke="#1e1e1e" stroke-width="0.8" />
<line x1="46.45" y1="445.69" x2="46.45" y2="444.69" stroke="#1e1e1e" stroke-width="0.8" />
<line x1="45.75" y1="444.69" x2="47.15" y2="444.69" stroke="#1e1e1e" stroke-width="0.8" />
<line x1="44.60" y1="456.80" x2="44.60" y2="459.00" stroke="#1e1e1e" stroke-width="0.9" />
<path d="M42.60,443.69 V442.09 H47.00 V444.69" stroke="#1e1e1e" stroke-width="0.95" fill="none" />
<text x="44.80" y="440.89" font-size="6.8" text-anchor="middle" textLength="7.20" lengthAdjust="spacingAndGlyphs">ns</text>
<text x="47.30" y="468.40" font-size="7.0" text-anchor="end" textLength="7.00" lengthAdjust="spacingAndGlyphs" transform="rotate(-45 47.30 468.40)">#1</text>
<rect x="51.00" y="442.25" width="1.90" height="14.55" fill="#2d4a8a" stroke="none" stroke-width="1" />
<rect x="54.30" y="443.81" width="2.10" height="12.99" fill="#b0062f" stroke="none" stroke-width="1" />
<line x1="51.95" y1="442.25" x2="51.95" y2="441.25" stroke="#1e1e1e" stroke-width="0.8" />
<line x1="51.25" y1="441.25" x2="52.65" y2="441.25" stroke="#1e1e1e" stroke-width="0.8" />
<line x1="55.35" y1="443.81" x2="55.35" y2="442.81" stroke="#1e1e1e" stroke-width="0.8" />
<line x1="54.65" y1="442.81" x2="56.05" y2="442.81" stroke="#1e1e1e" stroke-width="0.8" />
<line x1="53.50" y1="456.80" x2="53.50" y2="459.00" stroke="#1e1e1e" stroke-width="0.9" />
<path d="M51.50,440.25 V438.65 H55.90 V441.25" stroke="#1e1e1e" stroke-width="0.95" fill="none" />
<text x="53.70" y="437.45" font-size="6.8" text-anchor="middle" textLength="7.20" lengthAdjust="spacingAndGlyphs">ns</text>
<text x="56.20" y="468.40" font-size="7.0" text-anchor="end" textLength="7.00" lengthAdjust="spacingAndGlyphs" transform="rotate(-45 56.20 468.40)">#2</text>
<rect x="59.90" y="444.75" width="1.90" height="12.05" fill="#2d4a8a" stroke="none" stroke-width="1" />
<rect x="63.20" y="445.69" width="2.10" height="11.11" fill="#b0062f" stroke="none" stroke-width="1" />
<line x1="60.85" y1="444.75" x2="60.85" y2="443.75" stroke="#1e1e1e" stroke-width="0.8" />
<line x1="60.15" y1="443.75" x2="61.55" y2="443.75" stroke="#1e1e1e" stroke-width="0.8" />
<line x1="64.25" y1="445.69" x2="64.25" y2="444.69" stroke="#1e1e1e" stroke-width="0.8" />
<line x1="63.55" y1="444.69" x2="64.95" y2="444.69" stroke="#1e1e1e" stroke-width="0.8" />
<line x1="62.40" y1="456.80" x2="62.40" y2="459.00" stroke="#1e1e1e" stroke-width="0.9" />
<path d="M60.40,442.75 V441.15 H64.80 V443.75" stroke="#1e1e1e" stroke-width="0.95" fill="none" />
<text x="62.60" y="439.95" font-size="6.8" text-anchor="middle" textLength="7.20" lengthAdjust="spacingAndGlyphs">ns</text>
<text x="65.10" y="468.40" font-size="7.0" text-anchor="end" textLength="7.00" lengthAdjust="spacingAndGlyphs" transform="rotate(-45 65.10 468.40)">#3</text>
<rect x="68.80" y="439.90" width="1.90" height="16.90" fill="#2d4a8a" stroke="none" stroke-width="1" />
<rect x="72.10" y="440.84" width="2.10" height="15.96" fill="#b0062f" stroke="none" stroke-width="1" />
<line x1="69.75" y1="439.90" x2="69.75" y2="438.90" stroke="#1e1e1e" stroke-width="0.8" />
<line x1="69.05" y1="438.90" x2="70.45" y2="438.90" stroke="#1e1e1e" stroke-width="0.8" />
<line x1="73.15" y1="440.84" x2="73.15" y2="439.84" stroke="#1e1e1e" stroke-width="0.8" />
<line x1="72.45" y1="439.84" x2="73.85" y2="439.84" stroke="#1e1e1e" stroke-width="0.8" />
<line x1="71.30" y1="456.80" x2="71.30" y2="459.00" stroke="#1e1e1e" stroke-width="0.9" />
<path d="M69.30,437.90 V436.30 H73.70 V438.90" stroke="#1e1e1e" stroke-width="0.95" fill="none" />
<text x="71.50" y="435.10" font-size="6.8" text-anchor="middle" textLength="7.20" lengthAdjust="spacingAndGlyphs">ns</text>
<text x="74.00" y="468.40" font-size="7.0" text-anchor="end" textLength="7.00" lengthAdjust="spacingAndGlyphs" transform="rotate(-45 74.00 468.40)">#1</text>
<rect x="77.70" y="440.52" width="1.90" height="16.28" fill="#2d4a8a" stroke="none" stroke-width="1" />
<rect x="81.00" y="429.26" width="2.10" height="27.54" fill="#b0062f" stroke="none" stroke-width="1" />
<line x1="78.65" y1="440.52" x2="78.65" y2="439.52" stroke="#1e1e1e" stroke-width="0.8" />
<line x1="77.95" y1="439.52" x2="79.35" y2="439.52" stroke="#1e1e1e" stroke-width="0.8" />
<line x1="82.05" y1="429.26" x2="82.05" y2="428.26" stroke="#1e1e1e" stroke-width="0.8" />
<line x1="81.35" y1="428.26" x2="82.75" y2="428.26" stroke="#1e1e1e" stroke-width="0.8" />
<line x1="80.20" y1="456.80" x2="80.20" y2="459.00" stroke="#1e1e1e" stroke-width="0.9" />
<path d="M78.20,427.26 V425.66 H82.60 V428.26" stroke="#1e1e1e" stroke-width="0.95" fill="none" />
<circle cx="80.40" cy="422.16" r="1.25" fill="#1a1a1a" />
<text x="82.90" y="468.40" font-size="7.0" text-anchor="end" textLength="7.00" lengthAdjust="spacingAndGlyphs" transform="rotate(-45 82.90 468.40)">#2</text>
<rect x="86.60" y="438.02" width="1.90" height="18.78" fill="#2d4a8a" stroke="none" stroke-width="1" />
<rect x="89.90" y="428.79" width="2.10" height="28.01" fill="#b0062f" stroke="none" stroke-width="1" />
<line x1="87.55" y1="438.02" x2="87.55" y2="437.02" stroke="#1e1e1e" stroke-width="0.8" />
<line x1="86.85" y1="437.02" x2="88.25" y2="437.02" stroke="#1e1e1e" stroke-width="0.8" />
<line x1="90.95" y1="428.79" x2="90.95" y2="427.79" stroke="#1e1e1e" stroke-width="0.8" />
<line x1="90.25" y1="427.79" x2="91.65" y2="427.79" stroke="#1e1e1e" stroke-width="0.8" />
<line x1="89.10" y1="456.80" x2="89.10" y2="459.00" stroke="#1e1e1e" stroke-width="0.9" />
<path d="M87.10,426.79 V425.19 H91.50 V427.79" stroke="#1e1e1e" stroke-width="0.95" fill="none" />
<circle cx="89.30" cy="421.69" r="1.25" fill="#1a1a1a" />
<text x="91.80" y="468.40" font-size="7.0" text-anchor="end" textLength="7.00" lengthAdjust="spacingAndGlyphs" transform="rotate(-45 91.80 468.40)">#3</text>
<rect x="95.50" y="437.08" width="1.90" height="19.72" fill="#2d4a8a" stroke="none" stroke-width="1" />
<rect x="98.80" y="436.46" width="2.10" height="20.34" fill="#b0062f" stroke="none" stroke-width="1" />
<line x1="96.45" y1="437.08" x2="96.45" y2="436.08" stroke="#1e1e1e" stroke-width="0.8" />
<line x1="95.75" y1="436.08" x2="97.15" y2="436.08" stroke="#1e1e1e" stroke-width="0.8" />
<line x1="99.85" y1="436.46" x2="99.85" y2="435.46" stroke="#1e1e1e" stroke-width="0.8" />
<line x1="99.15" y1="435.46" x2="100.55" y2="435.46" stroke="#1e1e1e" stroke-width="0.8" />
<line x1="98.00" y1="456.80" x2="98.00" y2="459.00" stroke="#1e1e1e" stroke-width="0.9" />
<path d="M96.00,434.46 V432.86 H100.40 V435.46" stroke="#1e1e1e" stroke-width="0.95" fill="none" />
<text x="98.20" y="431.66" font-size="6.8" text-anchor="middle" textLength="7.20" lengthAdjust="spacingAndGlyphs">ns</text>
<text x="100.70" y="468.40" font-size="7.0" text-anchor="end" textLength="7.00" lengthAdjust="spacingAndGlyphs" transform="rotate(-45 100.70 468.40)">#4</text>
<rect x="104.40" y="436.46" width="1.90" height="20.34" fill="#2d4a8a" stroke="none" stroke-width="1" />
<rect x="107.70" y="434.11" width="2.10" height="22.69" fill="#b0062f" stroke="none" stroke-width="1" />
<line x1="105.35" y1="436.46" x2="105.35" y2="435.46" stroke="#1e1e1e" stroke-width="0.8" />
<line x1="104.65" y1="435.46" x2="106.05" y2="435.46" stroke="#1e1e1e" stroke-width="0.8" />
<line x1="108.75" y1="434.11" x2="108.75" y2="433.11" stroke="#1e1e1e" stroke-width="0.8" />
<line x1="108.05" y1="433.11" x2="109.45" y2="433.11" stroke="#1e1e1e" stroke-width="0.8" />
<line x1="106.90" y1="456.80" x2="106.90" y2="459.00" stroke="#1e1e1e" stroke-width="0.9" />
<path d="M104.90,432.11 V430.51 H109.30 V433.11" stroke="#1e1e1e" stroke-width="0.95" fill="none" />
<text x="107.10" y="429.31" font-size="6.8" text-anchor="middle" textLength="7.20" lengthAdjust="spacingAndGlyphs">ns</text>
<text x="109.60" y="468.40" font-size="7.0" text-anchor="end" textLength="7.00" lengthAdjust="spacingAndGlyphs" transform="rotate(-45 109.60 468.40)">#5</text>
<rect x="113.30" y="442.87" width="1.90" height="13.93" fill="#2d4a8a" stroke="none" stroke-width="1" />
<rect x="116.60" y="441.31" width="2.10" height="15.49" fill="#b0062f" stroke="none" stroke-width="1" />
<line x1="114.25" y1="442.87" x2="114.25" y2="441.87" stroke="#1e1e1e" stroke-width="0.8" />
<line x1="113.55" y1="441.87" x2="114.95" y2="441.87" stroke="#1e1e1e" stroke-width="0.8" />
<line x1="117.65" y1="441.31" x2="117.65" y2="440.31" stroke="#1e1e1e" stroke-width="0.8" />
<line x1="116.95" y1="440.31" x2="118.35" y2="440.31" stroke="#1e1e1e" stroke-width="0.8" />
<line x1="115.80" y1="456.80" x2="115.80" y2="459.00" stroke="#1e1e1e" stroke-width="0.9" />
<path d="M113.80,439.31 V437.71 H118.20 V440.31" stroke="#1e1e1e" stroke-width="0.95" fill="none" />
<text x="116.00" y="436.51" font-size="6.8" text-anchor="middle" textLength="7.20" lengthAdjust="spacingAndGlyphs">ns</text>
<text x="118.50" y="468.40" font-size="7.0" text-anchor="end" textLength="7.00" lengthAdjust="spacingAndGlyphs" transform="rotate(-45 118.50 468.40)">#6</text>
<rect x="122.20" y="439.43" width="1.90" height="17.37" fill="#2d4a8a" stroke="none" stroke-width="1" />
<rect x="125.50" y="410.32" width="2.10" height="46.48" fill="#b0062f" stroke="none" stroke-width="1" />
<line x1="123.15" y1="439.43" x2="123.15" y2="438.43" stroke="#1e1e1e" stroke-width="0.8" />
<line x1="122.45" y1="438.43" x2="123.85" y2="438.43" stroke="#1e1e1e" stroke-width="0.8" />
<line x1="126.55" y1="410.32" x2="126.55" y2="409.32" stroke="#1e1e1e" stroke-width="0.8" />
<line x1="125.85" y1="409.32" x2="127.25" y2="409.32" stroke="#1e1e1e" stroke-width="0.8" />
<line x1="124.70" y1="456.80" x2="124.70" y2="459.00" stroke="#1e1e1e" stroke-width="0.9" />
<path d="M122.70,408.32 V406.72 H127.10 V409.32" stroke="#1e1e1e" stroke-width="0.95" fill="none" />
<circle cx="123.05" cy="403.22" r="1.25" fill="#1a1a1a" />
<circle cx="126.75" cy="403.22" r="1.25" fill="#1a1a1a" />
<text x="127.40" y="468.40" font-size="7.0" text-anchor="end" textLength="7.00" lengthAdjust="spacingAndGlyphs" transform="rotate(-45 127.40 468.40)">#1</text>
<rect x="131.10" y="438.65" width="1.90" height="18.15" fill="#2d4a8a" stroke="none" stroke-width="1" />
<rect x="134.40" y="418.14" width="2.10" height="38.66" fill="#b0062f" stroke="none" stroke-width="1" />
<line x1="132.05" y1="438.65" x2="132.05" y2="437.65" stroke="#1e1e1e" stroke-width="0.8" />
<line x1="131.35" y1="437.65" x2="132.75" y2="437.65" stroke="#1e1e1e" stroke-width="0.8" />
<line x1="135.45" y1="418.14" x2="135.45" y2="417.14" stroke="#1e1e1e" stroke-width="0.8" />
<line x1="134.75" y1="417.14" x2="136.15" y2="417.14" stroke="#1e1e1e" stroke-width="0.8" />
<line x1="133.60" y1="456.80" x2="133.60" y2="459.00" stroke="#1e1e1e" stroke-width="0.9" />
<path d="M131.60,416.14 V414.54 H136.00 V417.14" stroke="#1e1e1e" stroke-width="0.95" fill="none" />
<circle cx="130.10" cy="411.04" r="1.25" fill="#1a1a1a" />
<circle cx="133.80" cy="411.04" r="1.25" fill="#1a1a1a" />
<circle cx="137.50" cy="411.04" r="1.25" fill="#1a1a1a" />
<text x="136.30" y="468.40" font-size="7.0" text-anchor="end" textLength="7.00" lengthAdjust="spacingAndGlyphs" transform="rotate(-45 136.30 468.40)">#2</text>
<rect x="140.00" y="443.34" width="1.90" height="13.46" fill="#2d4a8a" stroke="none" stroke-width="1" />
<rect x="143.30" y="413.92" width="2.10" height="42.88" fill="#b0062f" stroke="none" stroke-width="1" />
<line x1="140.95" y1="443.34" x2="140.95" y2="442.34" stroke="#1e1e1e" stroke-width="0.8" />
<line x1="140.25" y1="442.34" x2="141.65" y2="442.34" stroke="#1e1e1e" stroke-width="0.8" />
<line x1="144.35" y1="413.92" x2="144.35" y2="412.92" stroke="#1e1e1e" stroke-width="0.8" />
<line x1="143.65" y1="412.92" x2="145.05" y2="412.92" stroke="#1e1e1e" stroke-width="0.8" />
<line x1="142.50" y1="456.80" x2="142.50" y2="459.00" stroke="#1e1e1e" stroke-width="0.9" />
<path d="M140.50,411.92 V410.32 H144.90 V412.92" stroke="#1e1e1e" stroke-width="0.95" fill="none" />
<circle cx="139.00" cy="406.82" r="1.25" fill="#1a1a1a" />
<circle cx="142.70" cy="406.82" r="1.25" fill="#1a1a1a" />
<circle cx="146.40" cy="406.82" r="1.25" fill="#1a1a1a" />
<text x="145.20" y="468.40" font-size="7.0" text-anchor="end" textLength="7.00" lengthAdjust="spacingAndGlyphs" transform="rotate(-45 145.20 468.40)">#3</text>
<rect x="148.90" y="446.94" width="1.90" height="9.86" fill="#2d4a8a" stroke="none" stroke-width="1" />
<rect x="152.20" y="427.06" width="2.10" height="29.73" fill="#b0062f" stroke="none" stroke-width="1" />
<line x1="149.85" y1="446.94" x2="149.85" y2="445.94" stroke="#1e1e1e" stroke-width="0.8" />
<line x1="149.15" y1="445.94" x2="150.55" y2="445.94" stroke="#1e1e1e" stroke-width="0.8" />
<line x1="153.25" y1="427.06" x2="153.25" y2="426.06" stroke="#1e1e1e" stroke-width="0.8" />
<line x1="152.55" y1="426.06" x2="153.95" y2="426.06" stroke="#1e1e1e" stroke-width="0.8" />
<line x1="151.40" y1="456.80" x2="151.40" y2="459.00" stroke="#1e1e1e" stroke-width="0.9" />
<path d="M149.40,425.06 V423.46 H153.80 V426.06" stroke="#1e1e1e" stroke-width="0.95" fill="none" />
<circle cx="147.90" cy="419.96" r="1.25" fill="#1a1a1a" />
<circle cx="151.60" cy="419.96" r="1.25" fill="#1a1a1a" />
<circle cx="155.30" cy="419.96" r="1.25" fill="#1a1a1a" />
<text x="154.10" y="468.40" font-size="7.0" text-anchor="end" textLength="7.00" lengthAdjust="spacingAndGlyphs" transform="rotate(-45 154.10 468.40)">#4</text>
<rect x="157.80" y="442.87" width="1.90" height="13.93" fill="#2d4a8a" stroke="none" stroke-width="1" />
<rect x="161.10" y="408.29" width="2.10" height="48.52" fill="#b0062f" stroke="none" stroke-width="1" />
<line x1="158.75" y1="442.87" x2="158.75" y2="441.87" stroke="#1e1e1e" stroke-width="0.8" />
<line x1="158.05" y1="441.87" x2="159.45" y2="441.87" stroke="#1e1e1e" stroke-width="0.8" />
<line x1="162.15" y1="408.29" x2="162.15" y2="407.29" stroke="#1e1e1e" stroke-width="0.8" />
<line x1="161.45" y1="407.29" x2="162.85" y2="407.29" stroke="#1e1e1e" stroke-width="0.8" />
<line x1="160.30" y1="456.80" x2="160.30" y2="459.00" stroke="#1e1e1e" stroke-width="0.9" />
<path d="M158.30,406.29 V404.69 H162.70 V407.29" stroke="#1e1e1e" stroke-width="0.95" fill="none" />
<circle cx="156.80" cy="401.19" r="1.25" fill="#1a1a1a" />
<circle cx="160.50" cy="401.19" r="1.25" fill="#1a1a1a" />
<circle cx="164.20" cy="401.19" r="1.25" fill="#1a1a1a" />
<text x="163.00" y="468.40" font-size="7.0" text-anchor="end" textLength="7.00" lengthAdjust="spacingAndGlyphs" transform="rotate(-45 163.00 468.40)">#5</text>
<rect x="166.70" y="444.75" width="1.90" height="12.05" fill="#2d4a8a" stroke="none" stroke-width="1" />
<rect x="170.00" y="412.67" width="2.10" height="44.13" fill="#b0062f" stroke="none" stroke-width="1" />
<line x1="167.65" y1="444.75" x2="167.65" y2="443.75" stroke="#1e1e1e" stroke-width="0.8" />
<line x1="166.95" y1="443.75" x2="168.35" y2="443.75" stroke="#1e1e1e" stroke-width="0.8" />
<line x1="171.05" y1="412.67" x2="171.05" y2="411.67" stroke="#1e1e1e" stroke-width="0.8" />
<line x1="170.35" y1="411.67" x2="171.75" y2="411.67" stroke="#1e1e1e" stroke-width="0.8" />
<line x1="169.20" y1="456.80" x2="169.20" y2="459.00" stroke="#1e1e1e" stroke-width="0.9" />
<path d="M167.20,410.67 V409.07 H171.60 V411.67" stroke="#1e1e1e" stroke-width="0.95" fill="none" />
<circle cx="167.55" cy="405.57" r="1.25" fill="#1a1a1a" />
<circle cx="171.25" cy="405.57" r="1.25" fill="#1a1a1a" />
<text x="171.90" y="468.40" font-size="7.0" text-anchor="end" textLength="7.00" lengthAdjust="spacingAndGlyphs" transform="rotate(-45 171.90 468.40)">#6</text>
<rect x="175.60" y="445.06" width="1.90" height="11.74" fill="#2d4a8a" stroke="none" stroke-width="1" />
<rect x="178.90" y="415.17" width="2.10" height="41.63" fill="#b0062f" stroke="none" stroke-width="1" />
<line x1="176.55" y1="445.06" x2="176.55" y2="444.06" stroke="#1e1e1e" stroke-width="0.8" />
<line x1="175.85" y1="444.06" x2="177.25" y2="444.06" stroke="#1e1e1e" stroke-width="0.8" />
<line x1="179.95" y1="415.17" x2="179.95" y2="414.17" stroke="#1e1e1e" stroke-width="0.8" />
<line x1="179.25" y1="414.17" x2="180.65" y2="414.17" stroke="#1e1e1e" stroke-width="0.8" />
<line x1="178.10" y1="456.80" x2="178.10" y2="459.00" stroke="#1e1e1e" stroke-width="0.9" />
<path d="M176.10,413.17 V411.57 H180.50 V414.17" stroke="#1e1e1e" stroke-width="0.95" fill="none" />
<circle cx="176.45" cy="408.07" r="1.25" fill="#1a1a1a" />
<circle cx="180.15" cy="408.07" r="1.25" fill="#1a1a1a" />
<text x="180.80" y="468.40" font-size="7.0" text-anchor="end" textLength="7.00" lengthAdjust="spacingAndGlyphs" transform="rotate(-45 180.80 468.40)">#7</text>
<rect x="184.50" y="445.06" width="1.90" height="11.74" fill="#2d4a8a" stroke="none" stroke-width="1" />
<rect x="187.80" y="421.27" width="2.10" height="35.53" fill="#b0062f" stroke="none" stroke-width="1" />
<line x1="185.45" y1="445.06" x2="185.45" y2="444.06" stroke="#1e1e1e" stroke-width="0.8" />
<line x1="184.75" y1="444.06" x2="186.15" y2="444.06" stroke="#1e1e1e" stroke-width="0.8" />
<line x1="188.85" y1="421.27" x2="188.85" y2="420.27" stroke="#1e1e1e" stroke-width="0.8" />
<line x1="188.15" y1="420.27" x2="189.55" y2="420.27" stroke="#1e1e1e" stroke-width="0.8" />
<line x1="187.00" y1="456.80" x2="187.00" y2="459.00" stroke="#1e1e1e" stroke-width="0.9" />
<path d="M185.00,419.27 V417.67 H189.40 V420.27" stroke="#1e1e1e" stroke-width="0.95" fill="none" />
<circle cx="185.35" cy="414.17" r="1.25" fill="#1a1a1a" />
<circle cx="189.05" cy="414.17" r="1.25" fill="#1a1a1a" />
<text x="189.70" y="468.40" font-size="7.0" text-anchor="end" textLength="7.00" lengthAdjust="spacingAndGlyphs" transform="rotate(-45 189.70 468.40)">#8</text>
<line x1="41.20" y1="478.50" x2="61.20" y2="478.50" stroke="#1e1e1e" stroke-width="1.1" />
<line x1="69.00" y1="478.50" x2="116.50" y2="478.50" stroke="#1e1e1e" stroke-width="1.1" />
<line x1="125.00" y1="478.50" x2="190.40" y2="478.50" stroke="#1e1e1e" stroke-width="1.1" />
<text x="31.40" y="491.00" font-size="8.6" text-anchor="start" textLength="32.5" lengthAdjust="spacingAndGlyphs">N-CD34<tspan font-size="5.16" dy="-3.44">+</tspan></text>
<text x="66.60" y="491.00" font-size="8.6" textLength="52.40" lengthAdjust="spacingAndGlyphs">non-MLL-r ALL</text>
<text x="156.80" y="491.50" font-size="8.6" text-anchor="middle" textLength="36.50" lengthAdjust="spacingAndGlyphs">MLL-r ALL</text>
<text x="209.60" y="367.60" font-size="11.5" fill="#000" font-weight="bold">G</text>
<path d="M238.0,392.2 V457.0 H340" stroke="#151515" stroke-width="1.45" fill="none" />
<line x1="235.60" y1="457.00" x2="238.00" y2="457.00" stroke="#1e1e1e" stroke-width="1.1" />
<text x="232.80" y="460.10" font-size="8.6" text-anchor="end" textLength="5.20" lengthAdjust="spacingAndGlyphs">0</text>
<line x1="235.60" y1="440.90" x2="238.00" y2="440.90" stroke="#1e1e1e" stroke-width="1.1" />
<text x="232.80" y="444.00" font-size="8.6" text-anchor="end" textLength="9.80" lengthAdjust="spacingAndGlyphs">10</text>
<line x1="235.60" y1="424.80" x2="238.00" y2="424.80" stroke="#1e1e1e" stroke-width="1.1" />
<text x="232.80" y="427.90" font-size="8.6" text-anchor="end" textLength="9.80" lengthAdjust="spacingAndGlyphs">20</text>
<line x1="235.60" y1="408.70" x2="238.00" y2="408.70" stroke="#1e1e1e" stroke-width="1.1" />
<text x="232.80" y="411.80" font-size="8.6" text-anchor="end" textLength="9.80" lengthAdjust="spacingAndGlyphs">30</text>
<line x1="235.60" y1="392.60" x2="238.00" y2="392.60" stroke="#1e1e1e" stroke-width="1.1" />
<text x="232.80" y="395.70" font-size="8.6" text-anchor="end" textLength="9.80" lengthAdjust="spacingAndGlyphs">40</text>
<text x="217.70" y="424.00" font-size="8.8" text-anchor="middle" textLength="42.50" lengthAdjust="spacingAndGlyphs" transform="rotate(-90 217.70 424.00)">% annexin V</text>
<rect x="242.40" y="393.40" width="6.20" height="7.90" fill="#2d4a8a" stroke="none" stroke-width="1" />
<rect x="242.40" y="404.50" width="6.20" height="8.00" fill="#b0062f" stroke="none" stroke-width="1" />
<text x="252.00" y="400.60" font-size="8.4" textLength="20.50" lengthAdjust="spacingAndGlyphs">shCtrl</text>
<text x="252.00" y="411.80" font-size="8.4" textLength="30.50" lengthAdjust="spacingAndGlyphs">shPRMT1</text>
<rect x="240.00" y="450.08" width="3.30" height="6.92" fill="#2d4a8a" stroke="none" stroke-width="1" />
<rect x="245.50" y="448.95" width="3.40" height="8.05" fill="#b0062f" stroke="none" stroke-width="1" />
<line x1="241.65" y1="450.08" x2="241.65" y2="449.08" stroke="#1e1e1e" stroke-width="0.8" />
<line x1="240.75" y1="449.08" x2="242.55" y2="449.08" stroke="#1e1e1e" stroke-width="0.8" />
<line x1="247.20" y1="448.95" x2="247.20" y2="447.95" stroke="#1e1e1e" stroke-width="0.8" />
<line x1="246.30" y1="447.95" x2="248.10" y2="447.95" stroke="#1e1e1e" stroke-width="0.8" />
<line x1="244.30" y1="457.00" x2="244.30" y2="459.20" stroke="#1e1e1e" stroke-width="0.9" />
<path d="M242.40,446.95 V445.15 H247.40 V447.95" stroke="#1e1e1e" stroke-width="0.95" fill="none" />
<text x="244.90" y="443.95" font-size="8.2" text-anchor="middle" textLength="8.60" lengthAdjust="spacingAndGlyphs">ns</text>
<text x="248.30" y="469.30" font-size="8.3" text-anchor="end" textLength="27.30" lengthAdjust="spacingAndGlyphs" transform="rotate(-45 248.30 469.30)">SUP-B15</text>
<rect x="254.92" y="447.82" width="3.30" height="9.18" fill="#2d4a8a" stroke="none" stroke-width="1" />
<rect x="260.42" y="438.81" width="3.40" height="18.19" fill="#b0062f" stroke="none" stroke-width="1" />
<line x1="256.57" y1="447.82" x2="256.57" y2="446.82" stroke="#1e1e1e" stroke-width="0.8" />
<line x1="255.67" y1="446.82" x2="257.47" y2="446.82" stroke="#1e1e1e" stroke-width="0.8" />
<line x1="262.12" y1="438.81" x2="262.12" y2="437.81" stroke="#1e1e1e" stroke-width="0.8" />
<line x1="261.22" y1="437.81" x2="263.02" y2="437.81" stroke="#1e1e1e" stroke-width="0.8" />
<line x1="259.22" y1="457.00" x2="259.22" y2="459.20" stroke="#1e1e1e" stroke-width="0.9" />
<path d="M257.32,436.81 V435.01 H262.32 V437.81" stroke="#1e1e1e" stroke-width="0.95" fill="none" />
<circle cx="258.02" cy="431.51" r="1.3" fill="#1a1a1a" />
<circle cx="261.62" cy="431.51" r="1.3" fill="#1a1a1a" />
<text x="262.40" y="469.30" font-size="8.3" text-anchor="end" textLength="12.50" lengthAdjust="spacingAndGlyphs" transform="rotate(-45 262.40 469.30)">REH</text>
<rect x="269.84" y="446.05" width="3.30" height="10.95" fill="#2d4a8a" stroke="none" stroke-width="1" />
<rect x="275.34" y="439.61" width="3.40" height="17.39" fill="#b0062f" stroke="none" stroke-width="1" />
<line x1="271.49" y1="446.05" x2="271.49" y2="445.05" stroke="#1e1e1e" stroke-width="0.8" />
<line x1="270.59" y1="445.05" x2="272.39" y2="445.05" stroke="#1e1e1e" stroke-width="0.8" />
<line x1="277.04" y1="439.61" x2="277.04" y2="438.61" stroke="#1e1e1e" stroke-width="0.8" />
<line x1="276.14" y1="438.61" x2="277.94" y2="438.61" stroke="#1e1e1e" stroke-width="0.8" />
<line x1="274.14" y1="457.00" x2="274.14" y2="459.20" stroke="#1e1e1e" stroke-width="0.9" />
<path d="M272.24,437.61 V435.81 H277.24 V438.61" stroke="#1e1e1e" stroke-width="0.95" fill="none" />
<text x="274.74" y="434.61" font-size="8.2" text-anchor="middle" textLength="8.60" lengthAdjust="spacingAndGlyphs">ns</text>
<text x="275.90" y="469.30" font-size="8.3" text-anchor="end" textLength="32.00" lengthAdjust="spacingAndGlyphs" transform="rotate(-45 275.90 469.30)">RCH-ACV</text>
<rect x="284.76" y="447.34" width="3.30" height="9.66" fill="#2d4a8a" stroke="none" stroke-width="1" />
<rect x="290.26" y="435.75" width="3.40" height="21.25" fill="#b0062f" stroke="none" stroke-width="1" />
<line x1="286.41" y1="447.34" x2="286.41" y2="446.34" stroke="#1e1e1e" stroke-width="0.8" />
<line x1="285.51" y1="446.34" x2="287.31" y2="446.34" stroke="#1e1e1e" stroke-width="0.8" />
<line x1="291.96" y1="435.75" x2="291.96" y2="434.75" stroke="#1e1e1e" stroke-width="0.8" />
<line x1="291.06" y1="434.75" x2="292.86" y2="434.75" stroke="#1e1e1e" stroke-width="0.8" />
<line x1="289.06" y1="457.00" x2="289.06" y2="459.20" stroke="#1e1e1e" stroke-width="0.9" />
<path d="M287.16,433.75 V431.95 H292.16 V434.75" stroke="#1e1e1e" stroke-width="0.95" fill="none" />
<circle cx="287.86" cy="428.45" r="1.3" fill="#1a1a1a" />
<circle cx="291.46" cy="428.45" r="1.3" fill="#1a1a1a" />
<text x="290.00" y="469.30" font-size="8.3" text-anchor="end" textLength="30.30" lengthAdjust="spacingAndGlyphs" transform="rotate(-45 290.00 469.30)">Kasumi-2</text>
<rect x="299.68" y="447.82" width="3.30" height="9.18" fill="#2d4a8a" stroke="none" stroke-width="1" />
<rect x="305.18" y="424.96" width="3.40" height="32.04" fill="#b0062f" stroke="none" stroke-width="1" />
<line x1="301.33" y1="447.82" x2="301.33" y2="446.82" stroke="#1e1e1e" stroke-width="0.8" />
<line x1="300.43" y1="446.82" x2="302.23" y2="446.82" stroke="#1e1e1e" stroke-width="0.8" />
<line x1="306.88" y1="424.96" x2="306.88" y2="423.96" stroke="#1e1e1e" stroke-width="0.8" />
<line x1="305.98" y1="423.96" x2="307.78" y2="423.96" stroke="#1e1e1e" stroke-width="0.8" />
<line x1="303.98" y1="457.00" x2="303.98" y2="459.20" stroke="#1e1e1e" stroke-width="0.9" />
<path d="M302.08,422.96 V421.16 H307.08 V423.96" stroke="#1e1e1e" stroke-width="0.95" fill="none" />
<circle cx="302.78" cy="417.66" r="1.3" fill="#1a1a1a" />
<circle cx="306.38" cy="417.66" r="1.3" fill="#1a1a1a" />
<text x="306.00" y="469.30" font-size="8.3" text-anchor="end" textLength="25.70" lengthAdjust="spacingAndGlyphs" transform="rotate(-45 306.00 469.30)">KOCL45</text>
<rect x="314.60" y="444.28" width="3.30" height="12.72" fill="#2d4a8a" stroke="none" stroke-width="1" />
<rect x="320.10" y="422.87" width="3.40" height="34.13" fill="#b0062f" stroke="none" stroke-width="1" />
<line x1="316.25" y1="444.28" x2="316.25" y2="443.28" stroke="#1e1e1e" stroke-width="0.8" />
<line x1="315.35" y1="443.28" x2="317.15" y2="443.28" stroke="#1e1e1e" stroke-width="0.8" />
<line x1="321.80" y1="422.87" x2="321.80" y2="421.87" stroke="#1e1e1e" stroke-width="0.8" />
<line x1="320.90" y1="421.87" x2="322.70" y2="421.87" stroke="#1e1e1e" stroke-width="0.8" />
<line x1="318.90" y1="457.00" x2="318.90" y2="459.20" stroke="#1e1e1e" stroke-width="0.9" />
<path d="M317.00,420.87 V419.07 H322.00 V421.87" stroke="#1e1e1e" stroke-width="0.95" fill="none" />
<circle cx="315.90" cy="415.57" r="1.3" fill="#1a1a1a" />
<circle cx="319.50" cy="415.57" r="1.3" fill="#1a1a1a" />
<circle cx="323.10" cy="415.57" r="1.3" fill="#1a1a1a" />
<text x="322.00" y="469.30" font-size="8.3" text-anchor="end" textLength="25.70" lengthAdjust="spacingAndGlyphs" transform="rotate(-45 322.00 469.30)">KOCL50</text>
<rect x="329.52" y="443.64" width="3.30" height="13.36" fill="#2d4a8a" stroke="none" stroke-width="1" />
<rect x="335.02" y="409.18" width="3.40" height="47.82" fill="#b0062f" stroke="none" stroke-width="1" />
<line x1="331.17" y1="443.64" x2="331.17" y2="442.64" stroke="#1e1e1e" stroke-width="0.8" />
<line x1="330.27" y1="442.64" x2="332.07" y2="442.64" stroke="#1e1e1e" stroke-width="0.8" />
<line x1="336.72" y1="409.18" x2="336.72" y2="408.18" stroke="#1e1e1e" stroke-width="0.8" />
<line x1="335.82" y1="408.18" x2="337.62" y2="408.18" stroke="#1e1e1e" stroke-width="0.8" />
<line x1="333.82" y1="457.00" x2="333.82" y2="459.20" stroke="#1e1e1e" stroke-width="0.9" />
<path d="M331.92,407.18 V405.38 H336.92 V408.18" stroke="#1e1e1e" stroke-width="0.95" fill="none" />
<circle cx="332.62" cy="401.88" r="1.3" fill="#1a1a1a" />
<circle cx="336.22" cy="401.88" r="1.3" fill="#1a1a1a" />
<text x="336.20" y="469.30" font-size="8.3" text-anchor="end" textLength="27.00" lengthAdjust="spacingAndGlyphs" transform="rotate(-45 336.20 469.30)">KOCL69</text>
<line x1="227.80" y1="497.50" x2="275.50" y2="497.50" stroke="#1e1e1e" stroke-width="1.3" />
<line x1="286.00" y1="497.50" x2="327.80" y2="497.50" stroke="#1e1e1e" stroke-width="1.3" />
<text x="251.70" y="506.80" font-size="8.4" text-anchor="middle" textLength="52.70" lengthAdjust="spacingAndGlyphs">non-MLL-r ALL</text>
<text x="306.90" y="506.90" font-size="8.4" text-anchor="middle" textLength="36.20" lengthAdjust="spacingAndGlyphs">MLL-r ALL</text>
<text x="358.30" y="367.40" font-size="11.5" fill="#000" font-weight="bold">H</text>
<line x1="372.50" y1="370.00" x2="372.50" y2="518.00" stroke="#111" stroke-width="1.3" />
<path d="M372.6,366.2 L370.3,372.0 L372.6,370.8 L374.9,372.0 Z" stroke="#111" stroke-width="0.6" fill="#111" />
<line x1="372.00" y1="517.50" x2="453.00" y2="517.50" stroke="#111" stroke-width="1.3" />
<path d="M457.2,517.8 L451.4,515.5 L452.6,517.8 L451.4,520.1 Z" stroke="#111" stroke-width="0.6" fill="#111" />
<text x="366.80" y="443.50" font-size="8.6" text-anchor="middle" textLength="47.00" lengthAdjust="spacingAndGlyphs" transform="rotate(-90 366.80 443.50)">Human CD45<tspan font-size="5.5" dy="-3">+</tspan></text>
<text x="422.20" y="532.20" font-size="8.6" text-anchor="middle" textLength="49.50" lengthAdjust="spacingAndGlyphs">Human CD19<tspan font-size="5.5" dy="-3">+</tspan></text>
<rect x="392.00" y="366.40" width="61.00" height="59.40" fill="#fff" stroke="#111" stroke-width="1.2" />
<line x1="416.50" y1="366.40" x2="416.50" y2="425.80" stroke="#555" stroke-width="0.8" />
<line x1="392.00" y1="394.50" x2="453.00" y2="394.50" stroke="#555" stroke-width="0.8" />
<line x1="389.80" y1="371.90" x2="392.00" y2="371.90" stroke="#1e1e1e" stroke-width="0.8" />
<line x1="389.80" y1="386.90" x2="392.00" y2="386.90" stroke="#1e1e1e" stroke-width="0.8" />
<line x1="389.80" y1="402.60" x2="392.00" y2="402.60" stroke="#1e1e1e" stroke-width="0.8" />
<line x1="389.80" y1="418.00" x2="392.00" y2="418.00" stroke="#1e1e1e" stroke-width="0.8" />
<line x1="390.80" y1="376.40" x2="392.00" y2="376.40" stroke="#1e1e1e" stroke-width="0.5" />
<line x1="390.80" y1="379.40" x2="392.00" y2="379.40" stroke="#1e1e1e" stroke-width="0.5" />
<line x1="390.80" y1="381.65" x2="392.00" y2="381.65" stroke="#1e1e1e" stroke-width="0.5" />
<line x1="390.80" y1="383.15" x2="392.00" y2="383.15" stroke="#1e1e1e" stroke-width="0.5" />
<line x1="390.80" y1="384.65" x2="392.00" y2="384.65" stroke="#1e1e1e" stroke-width="0.5" />
<line x1="390.80" y1="391.61" x2="392.00" y2="391.61" stroke="#1e1e1e" stroke-width="0.5" />
<line x1="390.80" y1="394.75" x2="392.00" y2="394.75" stroke="#1e1e1e" stroke-width="0.5" />
<line x1="390.80" y1="397.11" x2="392.00" y2="397.11" stroke="#1e1e1e" stroke-width="0.5" />
<line x1="390.80" y1="398.68" x2="392.00" y2="398.68" stroke="#1e1e1e" stroke-width="0.5" />
<line x1="390.80" y1="400.25" x2="392.00" y2="400.25" stroke="#1e1e1e" stroke-width="0.5" />
<line x1="390.80" y1="407.22" x2="392.00" y2="407.22" stroke="#1e1e1e" stroke-width="0.5" />
<line x1="390.80" y1="410.30" x2="392.00" y2="410.30" stroke="#1e1e1e" stroke-width="0.5" />
<line x1="390.80" y1="412.61" x2="392.00" y2="412.61" stroke="#1e1e1e" stroke-width="0.5" />
<line x1="390.80" y1="414.15" x2="392.00" y2="414.15" stroke="#1e1e1e" stroke-width="0.5" />
<line x1="390.80" y1="415.69" x2="392.00" y2="415.69" stroke="#1e1e1e" stroke-width="0.5" />
<line x1="399.60" y1="425.80" x2="399.60" y2="428.00" stroke="#1e1e1e" stroke-width="0.8" />
<line x1="419.20" y1="425.80" x2="419.20" y2="428.00" stroke="#1e1e1e" stroke-width="0.8" />
<line x1="433.00" y1="425.80" x2="433.00" y2="428.00" stroke="#1e1e1e" stroke-width="0.8" />
<line x1="447.00" y1="425.80" x2="447.00" y2="428.00" stroke="#1e1e1e" stroke-width="0.8" />
<line x1="416.26" y1="425.80" x2="416.26" y2="427.00" stroke="#1e1e1e" stroke-width="0.5" />
<line x1="414.30" y1="425.80" x2="414.30" y2="427.00" stroke="#1e1e1e" stroke-width="0.5" />
<line x1="412.34" y1="425.80" x2="412.34" y2="427.00" stroke="#1e1e1e" stroke-width="0.5" />
<line x1="409.40" y1="425.80" x2="409.40" y2="427.00" stroke="#1e1e1e" stroke-width="0.5" />
<line x1="405.48" y1="425.80" x2="405.48" y2="427.00" stroke="#1e1e1e" stroke-width="0.5" />
<line x1="430.93" y1="425.80" x2="430.93" y2="427.00" stroke="#1e1e1e" stroke-width="0.5" />
<line x1="429.55" y1="425.80" x2="429.55" y2="427.00" stroke="#1e1e1e" stroke-width="0.5" />
<line x1="428.17" y1="425.80" x2="428.17" y2="427.00" stroke="#1e1e1e" stroke-width="0.5" />
<line x1="426.10" y1="425.80" x2="426.10" y2="427.00" stroke="#1e1e1e" stroke-width="0.5" />
<line x1="423.34" y1="425.80" x2="423.34" y2="427.00" stroke="#1e1e1e" stroke-width="0.5" />
<line x1="444.90" y1="425.80" x2="444.90" y2="427.00" stroke="#1e1e1e" stroke-width="0.5" />
<line x1="443.50" y1="425.80" x2="443.50" y2="427.00" stroke="#1e1e1e" stroke-width="0.5" />
<line x1="442.10" y1="425.80" x2="442.10" y2="427.00" stroke="#1e1e1e" stroke-width="0.5" />
<line x1="440.00" y1="425.80" x2="440.00" y2="427.00" stroke="#1e1e1e" stroke-width="0.5" />
<line x1="437.20" y1="425.80" x2="437.20" y2="427.00" stroke="#1e1e1e" stroke-width="0.5" />
<text x="384.80" y="374.10" font-size="6.0" text-anchor="end">10<tspan font-size="4.20" dy="-2.52">5</tspan></text>
<text x="384.80" y="389.10" font-size="6.0" text-anchor="end">10<tspan font-size="4.20" dy="-2.52">4</tspan></text>
<text x="384.80" y="404.80" font-size="6.0" text-anchor="end">10<tspan font-size="4.20" dy="-2.52">3</tspan></text>
<text x="385.40" y="420.20" font-size="6.0" text-anchor="end">0</text>
<text x="399.60" y="437.80" font-size="6.0" text-anchor="middle">0</text>
<text x="419.20" y="437.80" font-size="6.0" text-anchor="middle">10<tspan font-size="4.20" dy="-2.52">3</tspan></text>
<text x="433.00" y="437.80" font-size="6.0" text-anchor="middle">10<tspan font-size="4.20" dy="-2.52">4</tspan></text>
<text x="447.00" y="437.80" font-size="6.0" text-anchor="middle">10<tspan font-size="4.20" dy="-2.52">5</tspan></text>
<rect x="391.60" y="442.60" width="61.00" height="59.40" fill="#fff" stroke="#111" stroke-width="1.2" />
<line x1="415.50" y1="442.60" x2="415.50" y2="502.00" stroke="#555" stroke-width="0.8" />
<line x1="391.60" y1="470.50" x2="452.60" y2="470.50" stroke="#555" stroke-width="0.8" />
<line x1="389.40" y1="449.00" x2="391.60" y2="449.00" stroke="#1e1e1e" stroke-width="0.8" />
<line x1="389.40" y1="462.30" x2="391.60" y2="462.30" stroke="#1e1e1e" stroke-width="0.8" />
<line x1="389.40" y1="477.30" x2="391.60" y2="477.30" stroke="#1e1e1e" stroke-width="0.8" />
<line x1="389.40" y1="492.30" x2="391.60" y2="492.30" stroke="#1e1e1e" stroke-width="0.8" />
<line x1="390.40" y1="452.99" x2="391.60" y2="452.99" stroke="#1e1e1e" stroke-width="0.5" />
<line x1="390.40" y1="455.65" x2="391.60" y2="455.65" stroke="#1e1e1e" stroke-width="0.5" />
<line x1="390.40" y1="457.64" x2="391.60" y2="457.64" stroke="#1e1e1e" stroke-width="0.5" />
<line x1="390.40" y1="458.98" x2="391.60" y2="458.98" stroke="#1e1e1e" stroke-width="0.5" />
<line x1="390.40" y1="460.31" x2="391.60" y2="460.31" stroke="#1e1e1e" stroke-width="0.5" />
<line x1="390.40" y1="466.80" x2="391.60" y2="466.80" stroke="#1e1e1e" stroke-width="0.5" />
<line x1="390.40" y1="469.80" x2="391.60" y2="469.80" stroke="#1e1e1e" stroke-width="0.5" />
<line x1="390.40" y1="472.05" x2="391.60" y2="472.05" stroke="#1e1e1e" stroke-width="0.5" />
<line x1="390.40" y1="473.55" x2="391.60" y2="473.55" stroke="#1e1e1e" stroke-width="0.5" />
<line x1="390.40" y1="475.05" x2="391.60" y2="475.05" stroke="#1e1e1e" stroke-width="0.5" />
<line x1="390.40" y1="481.80" x2="391.60" y2="481.80" stroke="#1e1e1e" stroke-width="0.5" />
<line x1="390.40" y1="484.80" x2="391.60" y2="484.80" stroke="#1e1e1e" stroke-width="0.5" />
<line x1="390.40" y1="487.05" x2="391.60" y2="487.05" stroke="#1e1e1e" stroke-width="0.5" />
<line x1="390.40" y1="488.55" x2="391.60" y2="488.55" stroke="#1e1e1e" stroke-width="0.5" />
<line x1="390.40" y1="490.05" x2="391.60" y2="490.05" stroke="#1e1e1e" stroke-width="0.5" />
<line x1="399.20" y1="502.00" x2="399.20" y2="504.20" stroke="#1e1e1e" stroke-width="0.8" />
<line x1="418.00" y1="502.00" x2="418.00" y2="504.20" stroke="#1e1e1e" stroke-width="0.8" />
<line x1="432.00" y1="502.00" x2="432.00" y2="504.20" stroke="#1e1e1e" stroke-width="0.8" />
<line x1="445.80" y1="502.00" x2="445.80" y2="504.20" stroke="#1e1e1e" stroke-width="0.8" />
<line x1="415.18" y1="502.00" x2="415.18" y2="503.20" stroke="#1e1e1e" stroke-width="0.5" />
<line x1="413.30" y1="502.00" x2="413.30" y2="503.20" stroke="#1e1e1e" stroke-width="0.5" />
<line x1="411.42" y1="502.00" x2="411.42" y2="503.20" stroke="#1e1e1e" stroke-width="0.5" />
<line x1="408.60" y1="502.00" x2="408.60" y2="503.20" stroke="#1e1e1e" stroke-width="0.5" />
<line x1="404.84" y1="502.00" x2="404.84" y2="503.20" stroke="#1e1e1e" stroke-width="0.5" />
<line x1="429.90" y1="502.00" x2="429.90" y2="503.20" stroke="#1e1e1e" stroke-width="0.5" />
<line x1="428.50" y1="502.00" x2="428.50" y2="503.20" stroke="#1e1e1e" stroke-width="0.5" />
<line x1="427.10" y1="502.00" x2="427.10" y2="503.20" stroke="#1e1e1e" stroke-width="0.5" />
<line x1="425.00" y1="502.00" x2="425.00" y2="503.20" stroke="#1e1e1e" stroke-width="0.5" />
<line x1="422.20" y1="502.00" x2="422.20" y2="503.20" stroke="#1e1e1e" stroke-width="0.5" />
<line x1="443.73" y1="502.00" x2="443.73" y2="503.20" stroke="#1e1e1e" stroke-width="0.5" />
<line x1="442.35" y1="502.00" x2="442.35" y2="503.20" stroke="#1e1e1e" stroke-width="0.5" />
<line x1="440.97" y1="502.00" x2="440.97" y2="503.20" stroke="#1e1e1e" stroke-width="0.5" />
<line x1="438.90" y1="502.00" x2="438.90" y2="503.20" stroke="#1e1e1e" stroke-width="0.5" />
<line x1="436.14" y1="502.00" x2="436.14" y2="503.20" stroke="#1e1e1e" stroke-width="0.5" />
<text x="384.80" y="451.20" font-size="6.0" text-anchor="end">10<tspan font-size="4.20" dy="-2.52">5</tspan></text>
<text x="384.80" y="464.50" font-size="6.0" text-anchor="end">10<tspan font-size="4.20" dy="-2.52">4</tspan></text>
<text x="384.80" y="479.50" font-size="6.0" text-anchor="end">10<tspan font-size="4.20" dy="-2.52">3</tspan></text>
<text x="385.40" y="494.50" font-size="6.0" text-anchor="end">0</text>
<text x="399.20" y="514.00" font-size="6.0" text-anchor="middle">0</text>
<text x="418.00" y="514.00" font-size="6.0" text-anchor="middle">10<tspan font-size="4.20" dy="-2.52">3</tspan></text>
<text x="432.00" y="514.00" font-size="6.0" text-anchor="middle">10<tspan font-size="4.20" dy="-2.52">4</tspan></text>
<text x="445.80" y="514.00" font-size="6.0" text-anchor="middle">10<tspan font-size="4.20" dy="-2.52">5</tspan></text>
<circle cx="397.88" cy="411.98" r="0.4" fill="#8fa8f0" opacity="0.55"/>
<circle cx="408.97" cy="404.39" r="0.4" fill="#8fa8f0" opacity="0.55"/>
<circle cx="397.36" cy="411.47" r="0.4" fill="#8fa8f0" opacity="0.55"/>
<circle cx="406.39" cy="408.69" r="0.4" fill="#8fa8f0" opacity="0.55"/>
<circle cx="397.92" cy="408.96" r="0.4" fill="#8fa8f0" opacity="0.55"/>
<circle cx="407.53" cy="406.95" r="0.4" fill="#8fa8f0" opacity="0.55"/>
<circle cx="411.67" cy="405.63" r="0.4" fill="#8fa8f0" opacity="0.55"/>
<circle cx="403.49" cy="407.78" r="0.4" fill="#8fa8f0" opacity="0.55"/>
<circle cx="416.85" cy="400.54" r="0.4" fill="#8fa8f0" opacity="0.55"/>
<circle cx="400.08" cy="408.07" r="0.4" fill="#8fa8f0" opacity="0.55"/>
<circle cx="404.48" cy="408.00" r="0.4" fill="#8fa8f0" opacity="0.55"/>
<circle cx="402.28" cy="408.82" r="0.4" fill="#8fa8f0" opacity="0.55"/>
<circle cx="405.37" cy="408.51" r="0.4" fill="#8fa8f0" opacity="0.55"/>
<circle cx="409.48" cy="405.42" r="0.4" fill="#8fa8f0" opacity="0.55"/>
<circle cx="395.05" cy="414.10" r="0.4" fill="#8fa8f0" opacity="0.55"/>
<circle cx="396.90" cy="411.52" r="0.4" fill="#8fa8f0" opacity="0.55"/>
<circle cx="396.63" cy="411.98" r="0.4" fill="#8fa8f0" opacity="0.55"/>
<circle cx="400.11" cy="410.49" r="0.4" fill="#8fa8f0" opacity="0.55"/>
<circle cx="420.50" cy="399.00" r="0.4" fill="#8fa8f0" opacity="0.55"/>
<circle cx="408.21" cy="403.34" r="0.4" fill="#8fa8f0" opacity="0.55"/>
<circle cx="402.56" cy="409.97" r="0.4" fill="#8fa8f0" opacity="0.55"/>
<circle cx="403.54" cy="408.92" r="0.4" fill="#8fa8f0" opacity="0.55"/>
<circle cx="404.52" cy="405.91" r="0.4" fill="#8fa8f0" opacity="0.55"/>
<circle cx="406.82" cy="405.02" r="0.4" fill="#8fa8f0" opacity="0.55"/>
<circle cx="413.36" cy="402.04" r="0.4" fill="#8fa8f0" opacity="0.55"/>
<circle cx="407.43" cy="406.15" r="0.4" fill="#8fa8f0" opacity="0.55"/>
<circle cx="408.76" cy="404.34" r="0.4" fill="#8fa8f0" opacity="0.55"/>
<circle cx="408.99" cy="405.08" r="0.4" fill="#8fa8f0" opacity="0.55"/>
<circle cx="410.32" cy="405.71" r="0.4" fill="#8fa8f0" opacity="0.55"/>
<circle cx="404.71" cy="406.21" r="0.4" fill="#8fa8f0" opacity="0.55"/>
<circle cx="407.84" cy="406.77" r="0.4" fill="#8fa8f0" opacity="0.55"/>
<circle cx="412.21" cy="402.89" r="0.4" fill="#8fa8f0" opacity="0.55"/>
<circle cx="406.77" cy="407.42" r="0.4" fill="#8fa8f0" opacity="0.55"/>
<circle cx="405.41" cy="407.61" r="0.4" fill="#8fa8f0" opacity="0.55"/>
<circle cx="404.91" cy="406.43" r="0.4" fill="#8fa8f0" opacity="0.55"/>
<circle cx="398.93" cy="410.03" r="0.4" fill="#8fa8f0" opacity="0.55"/>
<circle cx="406.95" cy="409.12" r="0.4" fill="#8fa8f0" opacity="0.55"/>
<circle cx="408.89" cy="407.26" r="0.4" fill="#8fa8f0" opacity="0.55"/>
<circle cx="407.89" cy="407.16" r="0.4" fill="#8fa8f0" opacity="0.55"/>
<circle cx="404.92" cy="408.89" r="0.4" fill="#8fa8f0" opacity="0.55"/>
<circle cx="412.87" cy="402.62" r="0.4" fill="#8fa8f0" opacity="0.55"/>
<circle cx="400.53" cy="413.40" r="0.4" fill="#8fa8f0" opacity="0.55"/>
<circle cx="405.22" cy="409.09" r="0.4" fill="#8fa8f0" opacity="0.55"/>
<circle cx="408.37" cy="403.60" r="0.4" fill="#8fa8f0" opacity="0.55"/>
<circle cx="416.17" cy="404.63" r="0.4" fill="#8fa8f0" opacity="0.55"/>
<circle cx="404.88" cy="408.88" r="0.4" fill="#8fa8f0" opacity="0.55"/>
<circle cx="404.63" cy="406.07" r="0.4" fill="#8fa8f0" opacity="0.55"/>
<circle cx="403.44" cy="408.98" r="0.4" fill="#8fa8f0" opacity="0.55"/>
<circle cx="409.58" cy="406.26" r="0.4" fill="#8fa8f0" opacity="0.55"/>
<circle cx="404.30" cy="410.28" r="0.4" fill="#8fa8f0" opacity="0.55"/>
<circle cx="400.20" cy="411.48" r="0.4" fill="#8fa8f0" opacity="0.55"/>
<circle cx="409.56" cy="404.47" r="0.4" fill="#8fa8f0" opacity="0.55"/>
<circle cx="395.05" cy="411.20" r="0.4" fill="#8fa8f0" opacity="0.55"/>
<circle cx="405.19" cy="408.31" r="0.4" fill="#8fa8f0" opacity="0.55"/>
<circle cx="411.74" cy="402.01" r="0.4" fill="#8fa8f0" opacity="0.55"/>
<circle cx="404.01" cy="409.16" r="0.4" fill="#8fa8f0" opacity="0.55"/>
<circle cx="403.21" cy="404.16" r="0.4" fill="#8fa8f0" opacity="0.55"/>
<circle cx="408.03" cy="409.98" r="0.4" fill="#8fa8f0" opacity="0.55"/>
<circle cx="409.02" cy="403.64" r="0.4" fill="#8fa8f0" opacity="0.55"/>
<circle cx="401.94" cy="409.51" r="0.4" fill="#8fa8f0" opacity="0.55"/>
<circle cx="416.45" cy="402.39" r="0.4" fill="#8fa8f0" opacity="0.55"/>
<circle cx="404.57" cy="410.50" r="0.4" fill="#8fa8f0" opacity="0.55"/>
<circle cx="403.59" cy="411.57" r="0.4" fill="#8fa8f0" opacity="0.55"/>
<circle cx="400.57" cy="408.99" r="0.4" fill="#8fa8f0" opacity="0.55"/>
<circle cx="407.60" cy="408.62" r="0.4" fill="#8fa8f0" opacity="0.55"/>
<circle cx="407.27" cy="406.78" r="0.4" fill="#8fa8f0" opacity="0.55"/>
<circle cx="394.89" cy="411.64" r="0.4" fill="#8fa8f0" opacity="0.55"/>
<circle cx="400.95" cy="408.69" r="0.4" fill="#8fa8f0" opacity="0.55"/>
<circle cx="406.93" cy="405.81" r="0.4" fill="#8fa8f0" opacity="0.55"/>
<circle cx="407.94" cy="406.02" r="0.4" fill="#8fa8f0" opacity="0.55"/>
<circle cx="402.34" cy="409.11" r="0.4" fill="#8fa8f0" opacity="0.55"/>
<circle cx="406.14" cy="408.39" r="0.4" fill="#8fa8f0" opacity="0.55"/>
<circle cx="401.61" cy="408.87" r="0.4" fill="#8fa8f0" opacity="0.55"/>
<circle cx="397.18" cy="414.57" r="0.4" fill="#8fa8f0" opacity="0.55"/>
<circle cx="411.26" cy="403.76" r="0.4" fill="#8fa8f0" opacity="0.55"/>
<circle cx="401.61" cy="407.07" r="0.4" fill="#8fa8f0" opacity="0.55"/>
<circle cx="404.85" cy="407.91" r="0.4" fill="#8fa8f0" opacity="0.55"/>
<circle cx="414.91" cy="402.55" r="0.4" fill="#8fa8f0" opacity="0.55"/>
<circle cx="400.11" cy="405.70" r="0.4" fill="#8fa8f0" opacity="0.55"/>
<circle cx="411.05" cy="404.54" r="0.4" fill="#8fa8f0" opacity="0.55"/>
<circle cx="395.95" cy="412.67" r="0.4" fill="#8fa8f0" opacity="0.55"/>
<circle cx="395.96" cy="418.61" r="0.4" fill="#8fa8f0" opacity="0.55"/>
<circle cx="409.59" cy="406.01" r="0.4" fill="#8fa8f0" opacity="0.55"/>
<circle cx="403.12" cy="404.62" r="0.4" fill="#8fa8f0" opacity="0.55"/>
<circle cx="403.37" cy="405.54" r="0.4" fill="#8fa8f0" opacity="0.55"/>
<circle cx="406.98" cy="402.54" r="0.4" fill="#8fa8f0" opacity="0.55"/>
<circle cx="399.46" cy="412.65" r="0.4" fill="#8fa8f0" opacity="0.55"/>
<circle cx="412.22" cy="401.44" r="0.4" fill="#8fa8f0" opacity="0.55"/>
<circle cx="396.33" cy="413.72" r="0.4" fill="#8fa8f0" opacity="0.55"/>
<circle cx="408.27" cy="403.92" r="0.4" fill="#8fa8f0" opacity="0.55"/>
<circle cx="421.72" cy="384.86" r="0.45" fill="#4a6ff0" opacity="0.6"/>
<circle cx="426.39" cy="381.10" r="0.45" fill="#4a6ff0" opacity="0.6"/>
<circle cx="431.37" cy="379.70" r="0.45" fill="#4a6ff0" opacity="0.6"/>
<circle cx="426.40" cy="385.65" r="0.45" fill="#4a6ff0" opacity="0.6"/>
<circle cx="425.52" cy="379.96" r="0.45" fill="#4a6ff0" opacity="0.6"/>
<circle cx="422.00" cy="383.20" r="0.45" fill="#4a6ff0" opacity="0.6"/>
<circle cx="430.13" cy="381.89" r="0.45" fill="#4a6ff0" opacity="0.6"/>
<circle cx="432.06" cy="382.93" r="0.45" fill="#4a6ff0" opacity="0.6"/>
<circle cx="434.39" cy="379.39" r="0.45" fill="#4a6ff0" opacity="0.6"/>
<circle cx="432.94" cy="380.16" r="0.45" fill="#4a6ff0" opacity="0.6"/>
<circle cx="425.38" cy="384.30" r="0.45" fill="#4a6ff0" opacity="0.6"/>
<circle cx="427.93" cy="380.96" r="0.45" fill="#4a6ff0" opacity="0.6"/>
<circle cx="435.74" cy="379.03" r="0.45" fill="#4a6ff0" opacity="0.6"/>
<circle cx="425.76" cy="382.32" r="0.45" fill="#4a6ff0" opacity="0.6"/>
<circle cx="437.15" cy="376.28" r="0.45" fill="#4a6ff0" opacity="0.6"/>
<circle cx="430.69" cy="381.27" r="0.45" fill="#4a6ff0" opacity="0.6"/>
<circle cx="429.79" cy="381.65" r="0.45" fill="#4a6ff0" opacity="0.6"/>
<circle cx="425.77" cy="381.54" r="0.45" fill="#4a6ff0" opacity="0.6"/>
<circle cx="427.07" cy="381.10" r="0.45" fill="#4a6ff0" opacity="0.6"/>
<circle cx="430.99" cy="382.99" r="0.45" fill="#4a6ff0" opacity="0.6"/>
<circle cx="424.12" cy="384.41" r="0.45" fill="#4a6ff0" opacity="0.6"/>
<circle cx="423.75" cy="382.08" r="0.45" fill="#4a6ff0" opacity="0.6"/>
<circle cx="426.76" cy="382.20" r="0.45" fill="#4a6ff0" opacity="0.6"/>
<circle cx="425.95" cy="377.10" r="0.45" fill="#4a6ff0" opacity="0.6"/>
<circle cx="433.34" cy="378.14" r="0.45" fill="#4a6ff0" opacity="0.6"/>
<circle cx="425.15" cy="384.17" r="0.45" fill="#4a6ff0" opacity="0.6"/>
<circle cx="425.30" cy="379.82" r="0.45" fill="#4a6ff0" opacity="0.6"/>
<circle cx="429.71" cy="381.35" r="0.45" fill="#4a6ff0" opacity="0.6"/>
<circle cx="424.37" cy="384.88" r="0.45" fill="#4a6ff0" opacity="0.6"/>
<circle cx="429.24" cy="378.44" r="0.45" fill="#4a6ff0" opacity="0.6"/>
<circle cx="434.82" cy="378.49" r="0.45" fill="#4a6ff0" opacity="0.6"/>
<circle cx="423.12" cy="384.72" r="0.45" fill="#4a6ff0" opacity="0.6"/>
<circle cx="428.23" cy="383.21" r="0.45" fill="#4a6ff0" opacity="0.6"/>
<circle cx="422.25" cy="386.35" r="0.45" fill="#4a6ff0" opacity="0.6"/>
<circle cx="431.54" cy="381.00" r="0.45" fill="#4a6ff0" opacity="0.6"/>
<circle cx="430.20" cy="382.93" r="0.45" fill="#4a6ff0" opacity="0.6"/>
<circle cx="430.63" cy="380.30" r="0.45" fill="#4a6ff0" opacity="0.6"/>
<circle cx="424.32" cy="385.45" r="0.45" fill="#4a6ff0" opacity="0.6"/>
<circle cx="431.70" cy="380.11" r="0.45" fill="#4a6ff0" opacity="0.6"/>
<circle cx="428.33" cy="382.66" r="0.45" fill="#4a6ff0" opacity="0.6"/>
<circle cx="417.51" cy="387.24" r="0.45" fill="#4a6ff0" opacity="0.6"/>
<circle cx="417.58" cy="387.06" r="0.45" fill="#4a6ff0" opacity="0.6"/>
<circle cx="432.00" cy="383.20" r="0.45" fill="#4a6ff0" opacity="0.6"/>
<circle cx="425.80" cy="383.33" r="0.45" fill="#4a6ff0" opacity="0.6"/>
<circle cx="427.42" cy="377.13" r="0.45" fill="#4a6ff0" opacity="0.6"/>
<circle cx="430.66" cy="379.99" r="0.45" fill="#4a6ff0" opacity="0.6"/>
<circle cx="427.97" cy="379.45" r="0.45" fill="#4a6ff0" opacity="0.6"/>
<circle cx="427.53" cy="381.75" r="0.45" fill="#4a6ff0" opacity="0.6"/>
<circle cx="432.88" cy="379.50" r="0.45" fill="#4a6ff0" opacity="0.6"/>
<circle cx="441.85" cy="373.59" r="0.45" fill="#4a6ff0" opacity="0.6"/>
<circle cx="426.62" cy="381.93" r="0.45" fill="#4a6ff0" opacity="0.6"/>
<circle cx="424.41" cy="386.21" r="0.45" fill="#4a6ff0" opacity="0.6"/>
<circle cx="430.31" cy="377.61" r="0.45" fill="#4a6ff0" opacity="0.6"/>
<circle cx="428.13" cy="383.61" r="0.45" fill="#4a6ff0" opacity="0.6"/>
<circle cx="421.94" cy="384.68" r="0.45" fill="#4a6ff0" opacity="0.6"/>
<circle cx="426.73" cy="386.71" r="0.45" fill="#4a6ff0" opacity="0.6"/>
<circle cx="429.37" cy="379.83" r="0.45" fill="#4a6ff0" opacity="0.6"/>
<circle cx="425.41" cy="386.47" r="0.45" fill="#4a6ff0" opacity="0.6"/>
<circle cx="425.80" cy="387.07" r="0.45" fill="#4a6ff0" opacity="0.6"/>
<circle cx="421.36" cy="384.28" r="0.45" fill="#4a6ff0" opacity="0.6"/>
<circle cx="426.72" cy="380.56" r="0.45" fill="#4a6ff0" opacity="0.6"/>
<circle cx="426.83" cy="383.33" r="0.45" fill="#4a6ff0" opacity="0.6"/>
<circle cx="424.99" cy="379.94" r="0.45" fill="#4a6ff0" opacity="0.6"/>
<circle cx="433.14" cy="381.75" r="0.45" fill="#4a6ff0" opacity="0.6"/>
<circle cx="424.89" cy="383.52" r="0.45" fill="#4a6ff0" opacity="0.6"/>
<circle cx="417.26" cy="388.83" r="0.45" fill="#4a6ff0" opacity="0.6"/>
<circle cx="422.29" cy="383.07" r="0.45" fill="#4a6ff0" opacity="0.6"/>
<circle cx="436.46" cy="374.55" r="0.45" fill="#4a6ff0" opacity="0.6"/>
<circle cx="427.77" cy="379.29" r="0.45" fill="#4a6ff0" opacity="0.6"/>
<circle cx="420.19" cy="382.89" r="0.45" fill="#4a6ff0" opacity="0.6"/>
<circle cx="428.79" cy="378.30" r="0.45" fill="#4a6ff0" opacity="0.6"/>
<circle cx="425.30" cy="384.17" r="0.45" fill="#4a6ff0" opacity="0.6"/>
<circle cx="427.04" cy="379.16" r="0.45" fill="#4a6ff0" opacity="0.6"/>
<circle cx="433.76" cy="378.71" r="0.45" fill="#4a6ff0" opacity="0.6"/>
<circle cx="433.38" cy="376.53" r="0.45" fill="#4a6ff0" opacity="0.6"/>
<circle cx="434.53" cy="375.35" r="0.45" fill="#4a6ff0" opacity="0.6"/>
<circle cx="420.61" cy="384.18" r="0.45" fill="#4a6ff0" opacity="0.6"/>
<circle cx="426.18" cy="382.79" r="0.45" fill="#4a6ff0" opacity="0.6"/>
<circle cx="425.41" cy="383.92" r="0.45" fill="#4a6ff0" opacity="0.6"/>
<circle cx="433.10" cy="377.47" r="0.45" fill="#4a6ff0" opacity="0.6"/>
<circle cx="422.11" cy="383.47" r="0.45" fill="#4a6ff0" opacity="0.6"/>
<circle cx="431.00" cy="381.49" r="0.45" fill="#4a6ff0" opacity="0.6"/>
<circle cx="426.28" cy="380.20" r="0.45" fill="#4a6ff0" opacity="0.6"/>
<circle cx="427.61" cy="383.49" r="0.45" fill="#4a6ff0" opacity="0.6"/>
<circle cx="424.79" cy="385.58" r="0.45" fill="#4a6ff0" opacity="0.6"/>
<circle cx="428.60" cy="381.63" r="0.45" fill="#4a6ff0" opacity="0.6"/>
<circle cx="425.14" cy="385.53" r="0.45" fill="#4a6ff0" opacity="0.6"/>
<circle cx="427.85" cy="378.39" r="0.45" fill="#4a6ff0" opacity="0.6"/>
<circle cx="431.00" cy="378.99" r="0.45" fill="#4a6ff0" opacity="0.6"/>
<circle cx="432.05" cy="379.66" r="0.45" fill="#4a6ff0" opacity="0.6"/>
<circle cx="425.14" cy="383.12" r="0.45" fill="#4a6ff0" opacity="0.6"/>
<circle cx="425.69" cy="380.82" r="0.45" fill="#4a6ff0" opacity="0.6"/>
<circle cx="427.76" cy="383.15" r="0.45" fill="#4a6ff0" opacity="0.6"/>
<circle cx="427.97" cy="381.18" r="0.45" fill="#4a6ff0" opacity="0.6"/>
<circle cx="425.43" cy="383.78" r="0.45" fill="#4a6ff0" opacity="0.6"/>
<circle cx="428.78" cy="382.89" r="0.45" fill="#4a6ff0" opacity="0.6"/>
<circle cx="429.16" cy="385.08" r="0.45" fill="#4a6ff0" opacity="0.6"/>
<circle cx="421.31" cy="384.58" r="0.45" fill="#4a6ff0" opacity="0.6"/>
<circle cx="429.84" cy="382.24" r="0.45" fill="#4a6ff0" opacity="0.6"/>
<circle cx="421.46" cy="382.13" r="0.45" fill="#4a6ff0" opacity="0.6"/>
<circle cx="427.50" cy="383.72" r="0.45" fill="#4a6ff0" opacity="0.6"/>
<circle cx="432.12" cy="376.20" r="0.45" fill="#4a6ff0" opacity="0.6"/>
<circle cx="428.20" cy="383.61" r="0.45" fill="#4a6ff0" opacity="0.6"/>
<circle cx="427.78" cy="379.36" r="0.45" fill="#4a6ff0" opacity="0.6"/>
<circle cx="424.77" cy="380.25" r="0.45" fill="#4a6ff0" opacity="0.6"/>
<circle cx="432.51" cy="378.56" r="0.45" fill="#4a6ff0" opacity="0.6"/>
<circle cx="425.94" cy="380.60" r="0.45" fill="#4a6ff0" opacity="0.6"/>
<circle cx="427.11" cy="379.94" r="0.45" fill="#4a6ff0" opacity="0.6"/>
<circle cx="423.72" cy="383.39" r="0.45" fill="#4a6ff0" opacity="0.6"/>
<circle cx="426.74" cy="382.89" r="0.45" fill="#4a6ff0" opacity="0.6"/>
<circle cx="428.26" cy="383.60" r="0.45" fill="#4a6ff0" opacity="0.6"/>
<circle cx="427.49" cy="382.12" r="0.45" fill="#4a6ff0" opacity="0.6"/>
<circle cx="428.58" cy="379.41" r="0.45" fill="#4a6ff0" opacity="0.6"/>
<circle cx="432.48" cy="377.96" r="0.45" fill="#4a6ff0" opacity="0.6"/>
<circle cx="421.27" cy="387.22" r="0.45" fill="#4a6ff0" opacity="0.6"/>
<circle cx="430.31" cy="379.04" r="0.45" fill="#4a6ff0" opacity="0.6"/>
<circle cx="431.53" cy="381.52" r="0.45" fill="#4a6ff0" opacity="0.6"/>
<circle cx="430.51" cy="377.71" r="0.45" fill="#4a6ff0" opacity="0.6"/>
<circle cx="428.38" cy="379.04" r="0.45" fill="#4a6ff0" opacity="0.6"/>
<circle cx="425.19" cy="381.60" r="0.45" fill="#4a6ff0" opacity="0.6"/>
<circle cx="424.24" cy="384.21" r="0.45" fill="#4a6ff0" opacity="0.6"/>
<circle cx="424.48" cy="384.35" r="0.45" fill="#4a6ff0" opacity="0.6"/>
<circle cx="428.36" cy="379.93" r="0.45" fill="#4a6ff0" opacity="0.6"/>
<circle cx="428.35" cy="382.55" r="0.45" fill="#4a6ff0" opacity="0.6"/>
<circle cx="432.28" cy="378.67" r="0.45" fill="#4a6ff0" opacity="0.6"/>
<circle cx="434.68" cy="379.15" r="0.45" fill="#4a6ff0" opacity="0.6"/>
<circle cx="432.70" cy="376.25" r="0.45" fill="#4a6ff0" opacity="0.6"/>
<circle cx="423.38" cy="386.08" r="0.45" fill="#4a6ff0" opacity="0.6"/>
<circle cx="426.76" cy="382.89" r="0.45" fill="#4a6ff0" opacity="0.6"/>
<circle cx="432.52" cy="376.16" r="0.45" fill="#4a6ff0" opacity="0.6"/>
<circle cx="429.49" cy="384.50" r="0.45" fill="#4a6ff0" opacity="0.6"/>
<circle cx="430.89" cy="380.07" r="0.45" fill="#4a6ff0" opacity="0.6"/>
<circle cx="429.94" cy="380.38" r="0.45" fill="#4a6ff0" opacity="0.6"/>
<circle cx="430.79" cy="382.57" r="0.45" fill="#4a6ff0" opacity="0.6"/>
<circle cx="426.75" cy="383.12" r="0.45" fill="#4a6ff0" opacity="0.6"/>
<circle cx="428.89" cy="382.39" r="0.45" fill="#4a6ff0" opacity="0.6"/>
<circle cx="431.04" cy="377.65" r="0.45" fill="#4a6ff0" opacity="0.6"/>
<circle cx="432.37" cy="380.89" r="0.45" fill="#4a6ff0" opacity="0.6"/>
<circle cx="423.25" cy="383.13" r="0.45" fill="#4a6ff0" opacity="0.6"/>
<circle cx="421.78" cy="383.86" r="0.45" fill="#4a6ff0" opacity="0.6"/>
<circle cx="428.99" cy="378.50" r="0.45" fill="#4a6ff0" opacity="0.6"/>
<circle cx="424.54" cy="381.29" r="0.45" fill="#4a6ff0" opacity="0.6"/>
<circle cx="424.86" cy="381.34" r="0.45" fill="#4a6ff0" opacity="0.6"/>
<circle cx="423.35" cy="384.80" r="0.45" fill="#4a6ff0" opacity="0.6"/>
<circle cx="426.80" cy="380.28" r="0.45" fill="#4a6ff0" opacity="0.6"/>
<circle cx="431.64" cy="378.37" r="0.45" fill="#4a6ff0" opacity="0.6"/>
<circle cx="431.27" cy="377.20" r="0.45" fill="#4a6ff0" opacity="0.6"/>
<circle cx="433.33" cy="377.76" r="0.45" fill="#4a6ff0" opacity="0.6"/>
<circle cx="423.84" cy="384.23" r="0.45" fill="#4a6ff0" opacity="0.6"/>
<circle cx="422.28" cy="382.01" r="0.45" fill="#4a6ff0" opacity="0.6"/>
<circle cx="428.62" cy="380.05" r="0.45" fill="#4a6ff0" opacity="0.6"/>
<circle cx="429.27" cy="380.98" r="0.45" fill="#4a6ff0" opacity="0.6"/>
<circle cx="428.68" cy="381.26" r="0.45" fill="#4a6ff0" opacity="0.6"/>
<circle cx="430.53" cy="380.07" r="0.45" fill="#4a6ff0" opacity="0.6"/>
<circle cx="432.11" cy="381.18" r="0.45" fill="#4a6ff0" opacity="0.6"/>
<circle cx="419.74" cy="381.92" r="0.45" fill="#4a6ff0" opacity="0.6"/>
<circle cx="433.93" cy="377.47" r="0.45" fill="#4a6ff0" opacity="0.6"/>
<circle cx="428.41" cy="380.90" r="0.45" fill="#4a6ff0" opacity="0.6"/>
<circle cx="428.76" cy="385.39" r="0.45" fill="#4a6ff0" opacity="0.6"/>
<circle cx="424.81" cy="383.05" r="0.45" fill="#4a6ff0" opacity="0.6"/>
<circle cx="427.68" cy="379.31" r="0.45" fill="#4a6ff0" opacity="0.6"/>
<circle cx="424.14" cy="382.71" r="0.45" fill="#4a6ff0" opacity="0.6"/>
<circle cx="427.59" cy="382.31" r="0.45" fill="#4a6ff0" opacity="0.6"/>
<circle cx="419.76" cy="382.30" r="0.45" fill="#4a6ff0" opacity="0.6"/>
<circle cx="434.29" cy="377.82" r="0.45" fill="#4a6ff0" opacity="0.6"/>
<circle cx="430.97" cy="379.00" r="0.45" fill="#4a6ff0" opacity="0.6"/>
<circle cx="424.80" cy="387.18" r="0.45" fill="#4a6ff0" opacity="0.6"/>
<circle cx="422.69" cy="382.15" r="0.45" fill="#4a6ff0" opacity="0.6"/>
<circle cx="430.37" cy="380.18" r="0.45" fill="#4a6ff0" opacity="0.6"/>
<circle cx="421.06" cy="385.08" r="0.45" fill="#4a6ff0" opacity="0.6"/>
<g transform="translate(428.10 380.80) rotate(-45)">
<ellipse cx="0" cy="0" rx="8.00" ry="5.60" fill="url(#gq2a)"/>
</g>
<circle cx="425.70" cy="462.40" r="0.45" fill="#4a6ff0" opacity="0.6"/>
<circle cx="423.26" cy="452.95" r="0.45" fill="#4a6ff0" opacity="0.6"/>
<circle cx="427.00" cy="459.21" r="0.45" fill="#4a6ff0" opacity="0.6"/>
<circle cx="427.51" cy="458.72" r="0.45" fill="#4a6ff0" opacity="0.6"/>
<circle cx="425.81" cy="455.92" r="0.45" fill="#4a6ff0" opacity="0.6"/>
<circle cx="423.62" cy="457.99" r="0.45" fill="#4a6ff0" opacity="0.6"/>
<circle cx="424.97" cy="461.11" r="0.45" fill="#4a6ff0" opacity="0.6"/>
<circle cx="428.51" cy="452.86" r="0.45" fill="#4a6ff0" opacity="0.6"/>
<circle cx="428.80" cy="456.65" r="0.45" fill="#4a6ff0" opacity="0.6"/>
<circle cx="430.28" cy="460.93" r="0.45" fill="#4a6ff0" opacity="0.6"/>
<circle cx="428.32" cy="451.30" r="0.45" fill="#4a6ff0" opacity="0.6"/>
<circle cx="428.67" cy="451.85" r="0.45" fill="#4a6ff0" opacity="0.6"/>
<circle cx="431.91" cy="453.47" r="0.45" fill="#4a6ff0" opacity="0.6"/>
<circle cx="425.71" cy="463.74" r="0.45" fill="#4a6ff0" opacity="0.6"/>
<circle cx="420.15" cy="460.19" r="0.45" fill="#4a6ff0" opacity="0.6"/>
<circle cx="422.59" cy="457.51" r="0.45" fill="#4a6ff0" opacity="0.6"/>
<circle cx="423.56" cy="460.96" r="0.45" fill="#4a6ff0" opacity="0.6"/>
<circle cx="425.32" cy="459.21" r="0.45" fill="#4a6ff0" opacity="0.6"/>
<circle cx="428.65" cy="451.37" r="0.45" fill="#4a6ff0" opacity="0.6"/>
<circle cx="431.34" cy="455.01" r="0.45" fill="#4a6ff0" opacity="0.6"/>
<circle cx="420.52" cy="457.87" r="0.45" fill="#4a6ff0" opacity="0.6"/>
<circle cx="429.48" cy="459.71" r="0.45" fill="#4a6ff0" opacity="0.6"/>
<circle cx="423.95" cy="458.97" r="0.45" fill="#4a6ff0" opacity="0.6"/>
<circle cx="427.25" cy="460.68" r="0.45" fill="#4a6ff0" opacity="0.6"/>
<circle cx="425.92" cy="461.02" r="0.45" fill="#4a6ff0" opacity="0.6"/>
<circle cx="423.23" cy="456.62" r="0.45" fill="#4a6ff0" opacity="0.6"/>
<circle cx="428.77" cy="459.11" r="0.45" fill="#4a6ff0" opacity="0.6"/>
<circle cx="426.23" cy="459.71" r="0.45" fill="#4a6ff0" opacity="0.6"/>
<circle cx="427.14" cy="459.89" r="0.45" fill="#4a6ff0" opacity="0.6"/>
<circle cx="430.55" cy="457.78" r="0.45" fill="#4a6ff0" opacity="0.6"/>
<circle cx="429.33" cy="455.32" r="0.45" fill="#4a6ff0" opacity="0.6"/>
<circle cx="424.42" cy="450.93" r="0.45" fill="#4a6ff0" opacity="0.6"/>
<circle cx="427.86" cy="457.25" r="0.45" fill="#4a6ff0" opacity="0.6"/>
<circle cx="428.31" cy="450.97" r="0.45" fill="#4a6ff0" opacity="0.6"/>
<circle cx="424.67" cy="456.59" r="0.45" fill="#4a6ff0" opacity="0.6"/>
<circle cx="419.97" cy="463.11" r="0.45" fill="#4a6ff0" opacity="0.6"/>
<circle cx="430.76" cy="451.94" r="0.45" fill="#4a6ff0" opacity="0.6"/>
<circle cx="427.99" cy="462.64" r="0.45" fill="#4a6ff0" opacity="0.6"/>
<circle cx="422.08" cy="462.56" r="0.45" fill="#4a6ff0" opacity="0.6"/>
<circle cx="432.08" cy="461.52" r="0.45" fill="#4a6ff0" opacity="0.6"/>
<circle cx="421.54" cy="456.17" r="0.45" fill="#4a6ff0" opacity="0.6"/>
<circle cx="427.16" cy="461.29" r="0.45" fill="#4a6ff0" opacity="0.6"/>
<circle cx="421.91" cy="457.03" r="0.45" fill="#4a6ff0" opacity="0.6"/>
<circle cx="422.42" cy="462.81" r="0.45" fill="#4a6ff0" opacity="0.6"/>
<circle cx="424.41" cy="460.33" r="0.45" fill="#4a6ff0" opacity="0.6"/>
<circle cx="428.72" cy="460.56" r="0.45" fill="#4a6ff0" opacity="0.6"/>
<circle cx="427.91" cy="458.23" r="0.45" fill="#4a6ff0" opacity="0.6"/>
<circle cx="430.56" cy="457.65" r="0.45" fill="#4a6ff0" opacity="0.6"/>
<circle cx="421.89" cy="457.72" r="0.45" fill="#4a6ff0" opacity="0.6"/>
<circle cx="429.66" cy="456.91" r="0.45" fill="#4a6ff0" opacity="0.6"/>
<circle cx="425.15" cy="458.99" r="0.45" fill="#4a6ff0" opacity="0.6"/>
<circle cx="438.30" cy="452.96" r="0.45" fill="#4a6ff0" opacity="0.6"/>
<circle cx="428.14" cy="458.52" r="0.45" fill="#4a6ff0" opacity="0.6"/>
<circle cx="425.44" cy="461.93" r="0.45" fill="#4a6ff0" opacity="0.6"/>
<circle cx="429.49" cy="457.81" r="0.45" fill="#4a6ff0" opacity="0.6"/>
<circle cx="421.56" cy="463.65" r="0.45" fill="#4a6ff0" opacity="0.6"/>
<circle cx="429.16" cy="456.38" r="0.45" fill="#4a6ff0" opacity="0.6"/>
<circle cx="416.74" cy="461.25" r="0.45" fill="#4a6ff0" opacity="0.6"/>
<circle cx="422.05" cy="458.65" r="0.45" fill="#4a6ff0" opacity="0.6"/>
<circle cx="424.58" cy="455.74" r="0.45" fill="#4a6ff0" opacity="0.6"/>
<circle cx="430.05" cy="456.68" r="0.45" fill="#4a6ff0" opacity="0.6"/>
<circle cx="430.85" cy="452.88" r="0.45" fill="#4a6ff0" opacity="0.6"/>
<circle cx="425.72" cy="462.38" r="0.45" fill="#4a6ff0" opacity="0.6"/>
<circle cx="427.58" cy="454.91" r="0.45" fill="#4a6ff0" opacity="0.6"/>
<circle cx="423.21" cy="457.03" r="0.45" fill="#4a6ff0" opacity="0.6"/>
<circle cx="426.10" cy="460.05" r="0.45" fill="#4a6ff0" opacity="0.6"/>
<circle cx="426.93" cy="459.95" r="0.45" fill="#4a6ff0" opacity="0.6"/>
<circle cx="429.42" cy="456.93" r="0.45" fill="#4a6ff0" opacity="0.6"/>
<circle cx="431.04" cy="458.31" r="0.45" fill="#4a6ff0" opacity="0.6"/>
<circle cx="425.74" cy="457.43" r="0.45" fill="#4a6ff0" opacity="0.6"/>
<circle cx="426.34" cy="455.34" r="0.45" fill="#4a6ff0" opacity="0.6"/>
<circle cx="421.58" cy="459.69" r="0.45" fill="#4a6ff0" opacity="0.6"/>
<circle cx="424.56" cy="460.31" r="0.45" fill="#4a6ff0" opacity="0.6"/>
<circle cx="424.26" cy="458.85" r="0.45" fill="#4a6ff0" opacity="0.6"/>
<circle cx="427.12" cy="455.91" r="0.45" fill="#4a6ff0" opacity="0.6"/>
<circle cx="427.09" cy="455.10" r="0.45" fill="#4a6ff0" opacity="0.6"/>
<circle cx="424.86" cy="460.89" r="0.45" fill="#4a6ff0" opacity="0.6"/>
<circle cx="427.79" cy="457.15" r="0.45" fill="#4a6ff0" opacity="0.6"/>
<circle cx="423.57" cy="461.04" r="0.45" fill="#4a6ff0" opacity="0.6"/>
<circle cx="433.57" cy="447.89" r="0.45" fill="#4a6ff0" opacity="0.6"/>
<circle cx="430.17" cy="456.95" r="0.45" fill="#4a6ff0" opacity="0.6"/>
<circle cx="430.34" cy="459.95" r="0.45" fill="#4a6ff0" opacity="0.6"/>
<circle cx="422.74" cy="464.73" r="0.45" fill="#4a6ff0" opacity="0.6"/>
<circle cx="424.26" cy="457.71" r="0.45" fill="#4a6ff0" opacity="0.6"/>
<circle cx="428.64" cy="456.55" r="0.45" fill="#4a6ff0" opacity="0.6"/>
<circle cx="427.35" cy="455.66" r="0.45" fill="#4a6ff0" opacity="0.6"/>
<circle cx="422.66" cy="459.19" r="0.45" fill="#4a6ff0" opacity="0.6"/>
<circle cx="422.46" cy="463.55" r="0.45" fill="#4a6ff0" opacity="0.6"/>
<circle cx="427.26" cy="461.90" r="0.45" fill="#4a6ff0" opacity="0.6"/>
<circle cx="421.90" cy="452.70" r="0.45" fill="#4a6ff0" opacity="0.6"/>
<circle cx="418.19" cy="459.63" r="0.45" fill="#4a6ff0" opacity="0.6"/>
<circle cx="421.75" cy="460.64" r="0.45" fill="#4a6ff0" opacity="0.6"/>
<circle cx="421.14" cy="455.23" r="0.45" fill="#4a6ff0" opacity="0.6"/>
<circle cx="427.39" cy="456.03" r="0.45" fill="#4a6ff0" opacity="0.6"/>
<circle cx="428.82" cy="459.37" r="0.45" fill="#4a6ff0" opacity="0.6"/>
<circle cx="427.65" cy="453.27" r="0.45" fill="#4a6ff0" opacity="0.6"/>
<circle cx="423.26" cy="466.22" r="0.45" fill="#4a6ff0" opacity="0.6"/>
<circle cx="425.56" cy="458.95" r="0.45" fill="#4a6ff0" opacity="0.6"/>
<circle cx="426.82" cy="457.43" r="0.45" fill="#4a6ff0" opacity="0.6"/>
<circle cx="425.76" cy="456.11" r="0.45" fill="#4a6ff0" opacity="0.6"/>
<circle cx="424.52" cy="451.89" r="0.45" fill="#4a6ff0" opacity="0.6"/>
<circle cx="432.37" cy="455.03" r="0.45" fill="#4a6ff0" opacity="0.6"/>
<circle cx="421.66" cy="461.19" r="0.45" fill="#4a6ff0" opacity="0.6"/>
<circle cx="428.77" cy="452.10" r="0.45" fill="#4a6ff0" opacity="0.6"/>
<circle cx="424.51" cy="463.24" r="0.45" fill="#4a6ff0" opacity="0.6"/>
<circle cx="428.32" cy="458.32" r="0.45" fill="#4a6ff0" opacity="0.6"/>
<circle cx="429.95" cy="455.89" r="0.45" fill="#4a6ff0" opacity="0.6"/>
<circle cx="425.32" cy="463.25" r="0.45" fill="#4a6ff0" opacity="0.6"/>
<circle cx="425.71" cy="457.69" r="0.45" fill="#4a6ff0" opacity="0.6"/>
<circle cx="428.66" cy="456.92" r="0.45" fill="#4a6ff0" opacity="0.6"/>
<circle cx="421.94" cy="465.52" r="0.45" fill="#4a6ff0" opacity="0.6"/>
<circle cx="426.12" cy="463.59" r="0.45" fill="#4a6ff0" opacity="0.6"/>
<circle cx="428.20" cy="454.05" r="0.45" fill="#4a6ff0" opacity="0.6"/>
<circle cx="431.92" cy="454.99" r="0.45" fill="#4a6ff0" opacity="0.6"/>
<circle cx="423.29" cy="458.79" r="0.45" fill="#4a6ff0" opacity="0.6"/>
<circle cx="418.68" cy="461.97" r="0.45" fill="#4a6ff0" opacity="0.6"/>
<circle cx="423.76" cy="457.89" r="0.45" fill="#4a6ff0" opacity="0.6"/>
<circle cx="423.18" cy="461.11" r="0.45" fill="#4a6ff0" opacity="0.6"/>
<circle cx="427.66" cy="460.69" r="0.45" fill="#4a6ff0" opacity="0.6"/>
<circle cx="432.35" cy="456.30" r="0.45" fill="#4a6ff0" opacity="0.6"/>
<circle cx="426.71" cy="458.55" r="0.45" fill="#4a6ff0" opacity="0.6"/>
<circle cx="423.46" cy="457.05" r="0.45" fill="#4a6ff0" opacity="0.6"/>
<circle cx="429.08" cy="453.87" r="0.45" fill="#4a6ff0" opacity="0.6"/>
<circle cx="419.42" cy="459.24" r="0.45" fill="#4a6ff0" opacity="0.6"/>
<circle cx="427.29" cy="462.08" r="0.45" fill="#4a6ff0" opacity="0.6"/>
<circle cx="423.81" cy="455.66" r="0.45" fill="#4a6ff0" opacity="0.6"/>
<circle cx="426.71" cy="457.06" r="0.45" fill="#4a6ff0" opacity="0.6"/>
<circle cx="427.26" cy="455.68" r="0.45" fill="#4a6ff0" opacity="0.6"/>
<circle cx="427.08" cy="455.54" r="0.45" fill="#4a6ff0" opacity="0.6"/>
<circle cx="429.89" cy="457.22" r="0.45" fill="#4a6ff0" opacity="0.6"/>
<circle cx="428.41" cy="455.48" r="0.45" fill="#4a6ff0" opacity="0.6"/>
<circle cx="421.23" cy="459.71" r="0.45" fill="#4a6ff0" opacity="0.6"/>
<circle cx="426.17" cy="461.30" r="0.45" fill="#4a6ff0" opacity="0.6"/>
<circle cx="429.82" cy="456.24" r="0.45" fill="#4a6ff0" opacity="0.6"/>
<circle cx="426.20" cy="454.56" r="0.45" fill="#4a6ff0" opacity="0.6"/>
<circle cx="426.21" cy="458.42" r="0.45" fill="#4a6ff0" opacity="0.6"/>
<circle cx="424.87" cy="454.77" r="0.45" fill="#4a6ff0" opacity="0.6"/>
<circle cx="430.93" cy="452.94" r="0.45" fill="#4a6ff0" opacity="0.6"/>
<circle cx="432.26" cy="459.20" r="0.45" fill="#4a6ff0" opacity="0.6"/>
<circle cx="431.87" cy="452.83" r="0.45" fill="#4a6ff0" opacity="0.6"/>
<circle cx="428.59" cy="452.35" r="0.45" fill="#4a6ff0" opacity="0.6"/>
<circle cx="425.05" cy="453.27" r="0.45" fill="#4a6ff0" opacity="0.6"/>
<circle cx="423.73" cy="457.07" r="0.45" fill="#4a6ff0" opacity="0.6"/>
<circle cx="429.76" cy="459.82" r="0.45" fill="#4a6ff0" opacity="0.6"/>
<circle cx="425.02" cy="457.27" r="0.45" fill="#4a6ff0" opacity="0.6"/>
<circle cx="422.98" cy="455.31" r="0.45" fill="#4a6ff0" opacity="0.6"/>
<circle cx="419.97" cy="459.43" r="0.45" fill="#4a6ff0" opacity="0.6"/>
<circle cx="428.44" cy="454.39" r="0.45" fill="#4a6ff0" opacity="0.6"/>
<circle cx="427.63" cy="453.47" r="0.45" fill="#4a6ff0" opacity="0.6"/>
<circle cx="422.75" cy="457.33" r="0.45" fill="#4a6ff0" opacity="0.6"/>
<circle cx="429.46" cy="454.77" r="0.45" fill="#4a6ff0" opacity="0.6"/>
<circle cx="429.04" cy="455.48" r="0.45" fill="#4a6ff0" opacity="0.6"/>
<circle cx="422.38" cy="452.75" r="0.45" fill="#4a6ff0" opacity="0.6"/>
<circle cx="424.63" cy="455.24" r="0.45" fill="#4a6ff0" opacity="0.6"/>
<circle cx="429.53" cy="457.83" r="0.45" fill="#4a6ff0" opacity="0.6"/>
<circle cx="420.49" cy="462.59" r="0.45" fill="#4a6ff0" opacity="0.6"/>
<circle cx="428.19" cy="447.65" r="0.45" fill="#4a6ff0" opacity="0.6"/>
<circle cx="422.59" cy="459.86" r="0.45" fill="#4a6ff0" opacity="0.6"/>
<circle cx="420.64" cy="457.51" r="0.45" fill="#4a6ff0" opacity="0.6"/>
<circle cx="428.14" cy="457.73" r="0.45" fill="#4a6ff0" opacity="0.6"/>
<g transform="translate(425.80 457.50) rotate(20)">
<ellipse cx="0" cy="0" rx="5.20" ry="7.60" fill="url(#gq2b)"/>
</g>
<circle cx="410.35" cy="479.68" r="0.45" fill="#5a7ff5" opacity="0.55"/>
<circle cx="397.92" cy="484.39" r="0.45" fill="#5a7ff5" opacity="0.55"/>
<circle cx="404.01" cy="484.00" r="0.45" fill="#5a7ff5" opacity="0.55"/>
<circle cx="403.80" cy="480.83" r="0.45" fill="#5a7ff5" opacity="0.55"/>
<circle cx="402.12" cy="486.39" r="0.45" fill="#5a7ff5" opacity="0.55"/>
<circle cx="397.87" cy="488.91" r="0.45" fill="#5a7ff5" opacity="0.55"/>
<circle cx="407.01" cy="481.39" r="0.45" fill="#5a7ff5" opacity="0.55"/>
<circle cx="408.18" cy="479.00" r="0.45" fill="#5a7ff5" opacity="0.55"/>
<circle cx="403.93" cy="485.62" r="0.45" fill="#5a7ff5" opacity="0.55"/>
<circle cx="402.65" cy="483.22" r="0.45" fill="#5a7ff5" opacity="0.55"/>
<circle cx="397.78" cy="486.70" r="0.45" fill="#5a7ff5" opacity="0.55"/>
<circle cx="408.05" cy="481.79" r="0.45" fill="#5a7ff5" opacity="0.55"/>
<circle cx="407.62" cy="481.18" r="0.45" fill="#5a7ff5" opacity="0.55"/>
<circle cx="407.31" cy="480.96" r="0.45" fill="#5a7ff5" opacity="0.55"/>
<circle cx="409.33" cy="478.76" r="0.45" fill="#5a7ff5" opacity="0.55"/>
<circle cx="409.65" cy="478.65" r="0.45" fill="#5a7ff5" opacity="0.55"/>
<circle cx="396.90" cy="486.14" r="0.45" fill="#5a7ff5" opacity="0.55"/>
<circle cx="403.60" cy="482.48" r="0.45" fill="#5a7ff5" opacity="0.55"/>
<circle cx="398.74" cy="485.57" r="0.45" fill="#5a7ff5" opacity="0.55"/>
<circle cx="405.40" cy="482.45" r="0.45" fill="#5a7ff5" opacity="0.55"/>
<circle cx="408.57" cy="478.26" r="0.45" fill="#5a7ff5" opacity="0.55"/>
<circle cx="406.32" cy="482.72" r="0.45" fill="#5a7ff5" opacity="0.55"/>
<circle cx="406.21" cy="483.89" r="0.45" fill="#5a7ff5" opacity="0.55"/>
<circle cx="402.27" cy="484.13" r="0.45" fill="#5a7ff5" opacity="0.55"/>
<circle cx="405.36" cy="481.28" r="0.45" fill="#5a7ff5" opacity="0.55"/>
<circle cx="404.28" cy="483.01" r="0.45" fill="#5a7ff5" opacity="0.55"/>
<circle cx="404.36" cy="481.87" r="0.45" fill="#5a7ff5" opacity="0.55"/>
<circle cx="402.41" cy="483.92" r="0.45" fill="#5a7ff5" opacity="0.55"/>
<circle cx="397.26" cy="488.06" r="0.45" fill="#5a7ff5" opacity="0.55"/>
<circle cx="399.34" cy="485.91" r="0.45" fill="#5a7ff5" opacity="0.55"/>
<circle cx="399.38" cy="486.39" r="0.45" fill="#5a7ff5" opacity="0.55"/>
<circle cx="402.73" cy="483.41" r="0.45" fill="#5a7ff5" opacity="0.55"/>
<circle cx="401.02" cy="485.21" r="0.45" fill="#5a7ff5" opacity="0.55"/>
<circle cx="412.03" cy="474.35" r="0.45" fill="#5a7ff5" opacity="0.55"/>
<circle cx="406.94" cy="481.06" r="0.45" fill="#5a7ff5" opacity="0.55"/>
<circle cx="402.70" cy="481.94" r="0.45" fill="#5a7ff5" opacity="0.55"/>
<circle cx="411.95" cy="477.35" r="0.45" fill="#5a7ff5" opacity="0.55"/>
<circle cx="409.23" cy="478.51" r="0.45" fill="#5a7ff5" opacity="0.55"/>
<circle cx="400.92" cy="486.71" r="0.45" fill="#5a7ff5" opacity="0.55"/>
<circle cx="407.98" cy="479.52" r="0.45" fill="#5a7ff5" opacity="0.55"/>
<circle cx="403.50" cy="484.15" r="0.45" fill="#5a7ff5" opacity="0.55"/>
<circle cx="400.76" cy="484.01" r="0.45" fill="#5a7ff5" opacity="0.55"/>
<circle cx="404.32" cy="484.12" r="0.45" fill="#5a7ff5" opacity="0.55"/>
<circle cx="408.56" cy="479.82" r="0.45" fill="#5a7ff5" opacity="0.55"/>
<circle cx="410.84" cy="477.66" r="0.45" fill="#5a7ff5" opacity="0.55"/>
<circle cx="402.21" cy="487.61" r="0.45" fill="#5a7ff5" opacity="0.55"/>
<circle cx="402.20" cy="485.06" r="0.45" fill="#5a7ff5" opacity="0.55"/>
<circle cx="407.13" cy="480.76" r="0.45" fill="#5a7ff5" opacity="0.55"/>
<circle cx="405.59" cy="482.73" r="0.45" fill="#5a7ff5" opacity="0.55"/>
<circle cx="407.13" cy="479.74" r="0.45" fill="#5a7ff5" opacity="0.55"/>
<circle cx="404.56" cy="484.50" r="0.45" fill="#5a7ff5" opacity="0.55"/>
<circle cx="407.96" cy="479.36" r="0.45" fill="#5a7ff5" opacity="0.55"/>
<circle cx="404.83" cy="480.82" r="0.45" fill="#5a7ff5" opacity="0.55"/>
<circle cx="398.51" cy="486.11" r="0.45" fill="#5a7ff5" opacity="0.55"/>
<circle cx="412.05" cy="476.10" r="0.45" fill="#5a7ff5" opacity="0.55"/>
<circle cx="395.30" cy="489.06" r="0.45" fill="#5a7ff5" opacity="0.55"/>
<circle cx="401.34" cy="485.90" r="0.45" fill="#5a7ff5" opacity="0.55"/>
<circle cx="410.34" cy="477.77" r="0.45" fill="#5a7ff5" opacity="0.55"/>
<circle cx="405.11" cy="480.76" r="0.45" fill="#5a7ff5" opacity="0.55"/>
<circle cx="410.20" cy="477.30" r="0.45" fill="#5a7ff5" opacity="0.55"/>
<circle cx="404.69" cy="485.86" r="0.45" fill="#5a7ff5" opacity="0.55"/>
<circle cx="400.21" cy="485.89" r="0.45" fill="#5a7ff5" opacity="0.55"/>
<circle cx="404.32" cy="483.33" r="0.45" fill="#5a7ff5" opacity="0.55"/>
<circle cx="406.75" cy="483.05" r="0.45" fill="#5a7ff5" opacity="0.55"/>
<circle cx="406.86" cy="481.68" r="0.45" fill="#5a7ff5" opacity="0.55"/>
<circle cx="398.80" cy="487.26" r="0.45" fill="#5a7ff5" opacity="0.55"/>
<circle cx="398.35" cy="488.78" r="0.45" fill="#5a7ff5" opacity="0.55"/>
<circle cx="404.30" cy="484.08" r="0.45" fill="#5a7ff5" opacity="0.55"/>
<circle cx="402.25" cy="484.50" r="0.45" fill="#5a7ff5" opacity="0.55"/>
<circle cx="404.97" cy="482.99" r="0.45" fill="#5a7ff5" opacity="0.55"/>
<circle cx="404.08" cy="481.97" r="0.45" fill="#5a7ff5" opacity="0.55"/>
<circle cx="402.83" cy="482.80" r="0.45" fill="#5a7ff5" opacity="0.55"/>
<circle cx="400.27" cy="483.84" r="0.45" fill="#5a7ff5" opacity="0.55"/>
<circle cx="397.74" cy="490.20" r="0.45" fill="#5a7ff5" opacity="0.55"/>
<circle cx="401.11" cy="483.37" r="0.45" fill="#5a7ff5" opacity="0.55"/>
<circle cx="409.20" cy="479.51" r="0.45" fill="#5a7ff5" opacity="0.55"/>
<circle cx="403.96" cy="484.58" r="0.45" fill="#5a7ff5" opacity="0.55"/>
<circle cx="413.26" cy="474.89" r="0.45" fill="#5a7ff5" opacity="0.55"/>
<circle cx="411.21" cy="478.47" r="0.45" fill="#5a7ff5" opacity="0.55"/>
<circle cx="410.00" cy="477.74" r="0.45" fill="#5a7ff5" opacity="0.55"/>
<circle cx="412.41" cy="478.45" r="0.45" fill="#5a7ff5" opacity="0.55"/>
<circle cx="392.44" cy="493.17" r="0.45" fill="#5a7ff5" opacity="0.55"/>
<circle cx="410.86" cy="475.87" r="0.45" fill="#5a7ff5" opacity="0.55"/>
<circle cx="406.14" cy="481.07" r="0.45" fill="#5a7ff5" opacity="0.55"/>
<circle cx="405.61" cy="480.46" r="0.45" fill="#5a7ff5" opacity="0.55"/>
<circle cx="407.60" cy="481.34" r="0.45" fill="#5a7ff5" opacity="0.55"/>
<circle cx="404.10" cy="482.71" r="0.45" fill="#5a7ff5" opacity="0.55"/>
<circle cx="396.51" cy="489.14" r="0.45" fill="#5a7ff5" opacity="0.55"/>
<circle cx="398.62" cy="486.84" r="0.45" fill="#5a7ff5" opacity="0.55"/>
<circle cx="400.83" cy="489.01" r="0.45" fill="#5a7ff5" opacity="0.55"/>
<circle cx="404.58" cy="484.71" r="0.45" fill="#5a7ff5" opacity="0.55"/>
<circle cx="404.40" cy="482.53" r="0.45" fill="#5a7ff5" opacity="0.55"/>
<circle cx="408.02" cy="479.91" r="0.45" fill="#5a7ff5" opacity="0.55"/>
<circle cx="415.49" cy="474.24" r="0.45" fill="#5a7ff5" opacity="0.55"/>
<circle cx="412.17" cy="475.19" r="0.45" fill="#5a7ff5" opacity="0.55"/>
<circle cx="400.33" cy="486.52" r="0.45" fill="#5a7ff5" opacity="0.55"/>
<circle cx="398.13" cy="490.04" r="0.45" fill="#5a7ff5" opacity="0.55"/>
<circle cx="407.06" cy="480.78" r="0.45" fill="#5a7ff5" opacity="0.55"/>
<circle cx="412.87" cy="475.66" r="0.45" fill="#5a7ff5" opacity="0.55"/>
<circle cx="401.07" cy="481.22" r="0.45" fill="#5a7ff5" opacity="0.55"/>
<circle cx="395.48" cy="488.65" r="0.45" fill="#5a7ff5" opacity="0.55"/>
<circle cx="394.84" cy="490.68" r="0.45" fill="#5a7ff5" opacity="0.55"/>
<circle cx="409.17" cy="479.78" r="0.45" fill="#5a7ff5" opacity="0.55"/>
<circle cx="396.94" cy="486.77" r="0.45" fill="#5a7ff5" opacity="0.55"/>
<circle cx="398.09" cy="488.23" r="0.45" fill="#5a7ff5" opacity="0.55"/>
<circle cx="409.40" cy="478.61" r="0.45" fill="#5a7ff5" opacity="0.55"/>
<circle cx="404.87" cy="482.58" r="0.45" fill="#5a7ff5" opacity="0.55"/>
<circle cx="408.03" cy="478.63" r="0.45" fill="#5a7ff5" opacity="0.55"/>
<circle cx="400.07" cy="486.91" r="0.45" fill="#5a7ff5" opacity="0.55"/>
<circle cx="406.97" cy="481.43" r="0.45" fill="#5a7ff5" opacity="0.55"/>
<circle cx="404.83" cy="483.41" r="0.45" fill="#5a7ff5" opacity="0.55"/>
<circle cx="406.80" cy="479.95" r="0.45" fill="#5a7ff5" opacity="0.55"/>
<circle cx="412.62" cy="478.20" r="0.45" fill="#5a7ff5" opacity="0.55"/>
<circle cx="403.43" cy="483.15" r="0.45" fill="#5a7ff5" opacity="0.55"/>
<circle cx="401.19" cy="482.88" r="0.45" fill="#5a7ff5" opacity="0.55"/>
<circle cx="399.61" cy="483.97" r="0.45" fill="#5a7ff5" opacity="0.55"/>
<circle cx="401.46" cy="485.21" r="0.45" fill="#5a7ff5" opacity="0.55"/>
<circle cx="404.26" cy="480.58" r="0.45" fill="#5a7ff5" opacity="0.55"/>
<circle cx="403.62" cy="482.22" r="0.45" fill="#5a7ff5" opacity="0.55"/>
<circle cx="399.37" cy="487.89" r="0.45" fill="#5a7ff5" opacity="0.55"/>
<circle cx="399.62" cy="487.41" r="0.45" fill="#5a7ff5" opacity="0.55"/>
<circle cx="396.57" cy="488.71" r="0.45" fill="#5a7ff5" opacity="0.55"/>
<circle cx="401.23" cy="486.32" r="0.45" fill="#5a7ff5" opacity="0.55"/>
<circle cx="406.46" cy="479.93" r="0.45" fill="#5a7ff5" opacity="0.55"/>
<circle cx="407.57" cy="482.17" r="0.45" fill="#5a7ff5" opacity="0.55"/>
<circle cx="410.84" cy="480.07" r="0.45" fill="#5a7ff5" opacity="0.55"/>
<circle cx="402.88" cy="486.89" r="0.45" fill="#5a7ff5" opacity="0.55"/>
<circle cx="401.78" cy="484.30" r="0.45" fill="#5a7ff5" opacity="0.55"/>
<circle cx="397.29" cy="487.46" r="0.45" fill="#5a7ff5" opacity="0.55"/>
<circle cx="397.71" cy="487.64" r="0.45" fill="#5a7ff5" opacity="0.55"/>
<circle cx="396.24" cy="491.30" r="0.45" fill="#5a7ff5" opacity="0.55"/>
<circle cx="408.42" cy="482.03" r="0.45" fill="#5a7ff5" opacity="0.55"/>
<circle cx="410.15" cy="478.65" r="0.45" fill="#5a7ff5" opacity="0.55"/>
<circle cx="406.83" cy="481.12" r="0.45" fill="#5a7ff5" opacity="0.55"/>
<circle cx="395.67" cy="487.23" r="0.45" fill="#5a7ff5" opacity="0.55"/>
<circle cx="402.73" cy="485.21" r="0.45" fill="#5a7ff5" opacity="0.55"/>
<circle cx="398.03" cy="487.52" r="0.45" fill="#5a7ff5" opacity="0.55"/>
<circle cx="401.87" cy="485.55" r="0.45" fill="#5a7ff5" opacity="0.55"/>
<circle cx="408.20" cy="478.28" r="0.45" fill="#5a7ff5" opacity="0.55"/>
<circle cx="399.18" cy="488.59" r="0.45" fill="#5a7ff5" opacity="0.55"/>
<circle cx="409.61" cy="478.77" r="0.45" fill="#5a7ff5" opacity="0.55"/>
<circle cx="408.58" cy="479.65" r="0.45" fill="#5a7ff5" opacity="0.55"/>
<circle cx="406.86" cy="480.23" r="0.45" fill="#5a7ff5" opacity="0.55"/>
<circle cx="407.20" cy="483.06" r="0.45" fill="#5a7ff5" opacity="0.55"/>
<circle cx="411.53" cy="479.29" r="0.45" fill="#5a7ff5" opacity="0.55"/>
<circle cx="405.21" cy="483.45" r="0.45" fill="#5a7ff5" opacity="0.55"/>
<circle cx="402.56" cy="483.51" r="0.45" fill="#5a7ff5" opacity="0.55"/>
<circle cx="405.31" cy="480.32" r="0.45" fill="#5a7ff5" opacity="0.55"/>
<circle cx="405.54" cy="479.22" r="0.45" fill="#5a7ff5" opacity="0.55"/>
<circle cx="412.41" cy="478.03" r="0.45" fill="#5a7ff5" opacity="0.55"/>
<circle cx="406.04" cy="480.37" r="0.45" fill="#5a7ff5" opacity="0.55"/>
<circle cx="401.77" cy="483.94" r="0.45" fill="#5a7ff5" opacity="0.55"/>
<circle cx="396.72" cy="487.57" r="0.45" fill="#5a7ff5" opacity="0.55"/>
<circle cx="400.26" cy="486.88" r="0.45" fill="#5a7ff5" opacity="0.55"/>
<circle cx="410.99" cy="479.97" r="0.45" fill="#5a7ff5" opacity="0.55"/>
<circle cx="398.16" cy="485.11" r="0.45" fill="#5a7ff5" opacity="0.55"/>
<circle cx="411.44" cy="478.64" r="0.45" fill="#5a7ff5" opacity="0.55"/>
<circle cx="409.66" cy="479.77" r="0.45" fill="#5a7ff5" opacity="0.55"/>
<circle cx="405.75" cy="484.80" r="0.45" fill="#5a7ff5" opacity="0.55"/>
<circle cx="408.77" cy="480.44" r="0.45" fill="#5a7ff5" opacity="0.55"/>
<circle cx="399.84" cy="486.17" r="0.45" fill="#5a7ff5" opacity="0.55"/>
<circle cx="411.03" cy="478.61" r="0.45" fill="#5a7ff5" opacity="0.55"/>
<circle cx="408.97" cy="478.99" r="0.45" fill="#5a7ff5" opacity="0.55"/>
<circle cx="408.01" cy="479.13" r="0.45" fill="#5a7ff5" opacity="0.55"/>
<circle cx="403.73" cy="484.69" r="0.45" fill="#5a7ff5" opacity="0.55"/>
<circle cx="412.72" cy="476.06" r="0.45" fill="#5a7ff5" opacity="0.55"/>
<circle cx="403.58" cy="482.85" r="0.45" fill="#5a7ff5" opacity="0.55"/>
<circle cx="403.71" cy="483.16" r="0.45" fill="#5a7ff5" opacity="0.55"/>
<circle cx="408.81" cy="479.91" r="0.45" fill="#5a7ff5" opacity="0.55"/>
<circle cx="404.58" cy="483.14" r="0.45" fill="#5a7ff5" opacity="0.55"/>
<circle cx="396.14" cy="488.40" r="0.45" fill="#5a7ff5" opacity="0.55"/>
<circle cx="414.04" cy="474.04" r="0.45" fill="#5a7ff5" opacity="0.55"/>
<circle cx="401.81" cy="484.88" r="0.45" fill="#5a7ff5" opacity="0.55"/>
<circle cx="409.41" cy="478.57" r="0.45" fill="#5a7ff5" opacity="0.55"/>
<circle cx="399.56" cy="488.43" r="0.45" fill="#5a7ff5" opacity="0.55"/>
<circle cx="393.43" cy="489.25" r="0.45" fill="#5a7ff5" opacity="0.55"/>
<circle cx="401.00" cy="481.60" r="0.45" fill="#5a7ff5" opacity="0.55"/>
<circle cx="411.07" cy="480.66" r="0.45" fill="#5a7ff5" opacity="0.55"/>
<circle cx="397.34" cy="487.12" r="0.45" fill="#5a7ff5" opacity="0.55"/>
<circle cx="403.37" cy="484.39" r="0.45" fill="#5a7ff5" opacity="0.55"/>
<circle cx="403.65" cy="483.99" r="0.45" fill="#5a7ff5" opacity="0.55"/>
<circle cx="406.85" cy="480.60" r="0.45" fill="#5a7ff5" opacity="0.55"/>
<circle cx="404.81" cy="484.40" r="0.45" fill="#5a7ff5" opacity="0.55"/>
<circle cx="405.44" cy="482.82" r="0.45" fill="#5a7ff5" opacity="0.55"/>
<circle cx="404.43" cy="483.64" r="0.45" fill="#5a7ff5" opacity="0.55"/>
<circle cx="412.36" cy="476.93" r="0.45" fill="#5a7ff5" opacity="0.55"/>
<circle cx="402.27" cy="483.04" r="0.45" fill="#5a7ff5" opacity="0.55"/>
<circle cx="409.45" cy="477.75" r="0.45" fill="#5a7ff5" opacity="0.55"/>
<circle cx="406.83" cy="484.62" r="0.45" fill="#5a7ff5" opacity="0.55"/>
<circle cx="405.61" cy="484.40" r="0.45" fill="#5a7ff5" opacity="0.55"/>
<circle cx="404.65" cy="482.29" r="0.45" fill="#5a7ff5" opacity="0.55"/>
<circle cx="407.37" cy="479.12" r="0.45" fill="#5a7ff5" opacity="0.55"/>
<circle cx="392.91" cy="490.90" r="0.45" fill="#5a7ff5" opacity="0.55"/>
<circle cx="401.09" cy="485.32" r="0.45" fill="#5a7ff5" opacity="0.55"/>
<circle cx="414.01" cy="476.52" r="0.45" fill="#5a7ff5" opacity="0.55"/>
<circle cx="397.24" cy="488.46" r="0.45" fill="#5a7ff5" opacity="0.55"/>
<circle cx="396.00" cy="485.45" r="0.45" fill="#5a7ff5" opacity="0.55"/>
<circle cx="414.86" cy="473.58" r="0.45" fill="#5a7ff5" opacity="0.55"/>
<circle cx="393.96" cy="490.09" r="0.45" fill="#5a7ff5" opacity="0.55"/>
<circle cx="403.64" cy="483.85" r="0.45" fill="#5a7ff5" opacity="0.55"/>
<circle cx="403.76" cy="482.76" r="0.45" fill="#5a7ff5" opacity="0.55"/>
<circle cx="408.69" cy="479.21" r="0.45" fill="#5a7ff5" opacity="0.55"/>
<circle cx="400.96" cy="485.65" r="0.45" fill="#5a7ff5" opacity="0.55"/>
<circle cx="401.86" cy="486.09" r="0.45" fill="#5a7ff5" opacity="0.55"/>
<circle cx="404.76" cy="482.07" r="0.45" fill="#5a7ff5" opacity="0.55"/>
<circle cx="402.50" cy="484.90" r="0.45" fill="#5a7ff5" opacity="0.55"/>
<circle cx="409.49" cy="478.45" r="0.45" fill="#5a7ff5" opacity="0.55"/>
<circle cx="393.89" cy="491.45" r="0.45" fill="#5a7ff5" opacity="0.55"/>
<circle cx="400.91" cy="486.08" r="0.45" fill="#5a7ff5" opacity="0.55"/>
<circle cx="401.66" cy="485.23" r="0.45" fill="#5a7ff5" opacity="0.55"/>
<circle cx="403.37" cy="482.14" r="0.45" fill="#5a7ff5" opacity="0.55"/>
<circle cx="398.26" cy="486.93" r="0.45" fill="#5a7ff5" opacity="0.55"/>
<circle cx="405.32" cy="479.45" r="0.45" fill="#5a7ff5" opacity="0.55"/>
<circle cx="392.84" cy="491.44" r="0.45" fill="#5a7ff5" opacity="0.55"/>
<circle cx="415.16" cy="473.54" r="0.45" fill="#5a7ff5" opacity="0.55"/>
<circle cx="403.32" cy="481.75" r="0.45" fill="#5a7ff5" opacity="0.55"/>
<circle cx="398.43" cy="489.22" r="0.45" fill="#5a7ff5" opacity="0.55"/>
<circle cx="396.64" cy="488.64" r="0.45" fill="#5a7ff5" opacity="0.55"/>
<circle cx="401.02" cy="485.97" r="0.45" fill="#5a7ff5" opacity="0.55"/>
<circle cx="412.22" cy="477.14" r="0.45" fill="#5a7ff5" opacity="0.55"/>
<circle cx="403.11" cy="485.21" r="0.45" fill="#5a7ff5" opacity="0.55"/>
<circle cx="403.12" cy="480.70" r="0.45" fill="#5a7ff5" opacity="0.55"/>
<circle cx="411.16" cy="476.89" r="0.45" fill="#5a7ff5" opacity="0.55"/>
<circle cx="405.68" cy="485.06" r="0.45" fill="#5a7ff5" opacity="0.55"/>
<circle cx="409.16" cy="479.62" r="0.45" fill="#5a7ff5" opacity="0.55"/>
<circle cx="412.76" cy="475.16" r="0.45" fill="#5a7ff5" opacity="0.55"/>
<circle cx="396.49" cy="486.65" r="0.45" fill="#5a7ff5" opacity="0.55"/>
<circle cx="405.10" cy="482.44" r="0.45" fill="#5a7ff5" opacity="0.55"/>
<circle cx="401.29" cy="488.15" r="0.45" fill="#5a7ff5" opacity="0.55"/>
<circle cx="408.63" cy="479.82" r="0.45" fill="#5a7ff5" opacity="0.55"/>
<circle cx="401.24" cy="484.82" r="0.45" fill="#5a7ff5" opacity="0.55"/>
<circle cx="406.07" cy="480.84" r="0.45" fill="#5a7ff5" opacity="0.55"/>
<circle cx="418.76" cy="474.75" r="0.45" fill="#5a7ff5" opacity="0.55"/>
<circle cx="407.90" cy="480.10" r="0.45" fill="#5a7ff5" opacity="0.55"/>
<circle cx="396.20" cy="490.23" r="0.45" fill="#5a7ff5" opacity="0.55"/>
<circle cx="401.30" cy="486.51" r="0.45" fill="#5a7ff5" opacity="0.55"/>
<circle cx="406.74" cy="478.91" r="0.45" fill="#5a7ff5" opacity="0.55"/>
<circle cx="404.92" cy="481.95" r="0.45" fill="#5a7ff5" opacity="0.55"/>
<circle cx="403.55" cy="483.12" r="0.45" fill="#5a7ff5" opacity="0.55"/>
<circle cx="405.15" cy="481.75" r="0.45" fill="#5a7ff5" opacity="0.55"/>
<circle cx="408.71" cy="480.32" r="0.45" fill="#5a7ff5" opacity="0.55"/>
<circle cx="403.92" cy="482.75" r="0.45" fill="#5a7ff5" opacity="0.55"/>
<circle cx="403.07" cy="483.00" r="0.45" fill="#5a7ff5" opacity="0.55"/>
<circle cx="403.87" cy="483.35" r="0.45" fill="#5a7ff5" opacity="0.55"/>
<circle cx="403.20" cy="480.65" r="0.45" fill="#5a7ff5" opacity="0.55"/>
<circle cx="405.03" cy="480.80" r="0.45" fill="#5a7ff5" opacity="0.55"/>
<circle cx="404.51" cy="486.33" r="0.45" fill="#5a7ff5" opacity="0.55"/>
<circle cx="409.64" cy="475.15" r="0.45" fill="#5a7ff5" opacity="0.55"/>
<circle cx="396.00" cy="490.27" r="0.45" fill="#5a7ff5" opacity="0.55"/>
<circle cx="400.79" cy="482.84" r="0.45" fill="#5a7ff5" opacity="0.55"/>
<circle cx="396.12" cy="488.41" r="0.45" fill="#5a7ff5" opacity="0.55"/>
<circle cx="400.67" cy="485.30" r="0.45" fill="#5a7ff5" opacity="0.55"/>
<circle cx="403.12" cy="483.56" r="0.45" fill="#5a7ff5" opacity="0.55"/>
<circle cx="402.50" cy="482.76" r="0.45" fill="#5a7ff5" opacity="0.55"/>
<circle cx="408.10" cy="482.29" r="0.45" fill="#5a7ff5" opacity="0.55"/>
<circle cx="400.37" cy="485.30" r="0.45" fill="#5a7ff5" opacity="0.55"/>
<circle cx="414.51" cy="473.56" r="0.45" fill="#5a7ff5" opacity="0.55"/>
<circle cx="399.12" cy="487.28" r="0.45" fill="#5a7ff5" opacity="0.55"/>
<circle cx="409.01" cy="479.21" r="0.45" fill="#5a7ff5" opacity="0.55"/>
<circle cx="410.22" cy="478.19" r="0.45" fill="#5a7ff5" opacity="0.55"/>
<circle cx="405.66" cy="481.64" r="0.45" fill="#5a7ff5" opacity="0.55"/>
<circle cx="406.20" cy="481.32" r="0.45" fill="#5a7ff5" opacity="0.55"/>
<circle cx="411.67" cy="478.42" r="0.45" fill="#5a7ff5" opacity="0.55"/>
<circle cx="412.60" cy="476.40" r="0.45" fill="#5a7ff5" opacity="0.55"/>
<circle cx="400.78" cy="484.31" r="0.45" fill="#5a7ff5" opacity="0.55"/>
<circle cx="402.63" cy="484.40" r="0.45" fill="#5a7ff5" opacity="0.55"/>
<circle cx="402.55" cy="484.38" r="0.45" fill="#5a7ff5" opacity="0.55"/>
<circle cx="406.69" cy="479.17" r="0.45" fill="#5a7ff5" opacity="0.55"/>
<circle cx="397.76" cy="489.45" r="0.45" fill="#5a7ff5" opacity="0.55"/>
<circle cx="401.48" cy="487.59" r="0.45" fill="#5a7ff5" opacity="0.55"/>
<circle cx="403.13" cy="481.43" r="0.45" fill="#5a7ff5" opacity="0.55"/>
<circle cx="398.87" cy="485.41" r="0.45" fill="#5a7ff5" opacity="0.55"/>
<circle cx="417.42" cy="470.25" r="0.45" fill="#5a7ff5" opacity="0.55"/>
<circle cx="393.11" cy="489.43" r="0.45" fill="#5a7ff5" opacity="0.55"/>
<circle cx="404.85" cy="485.67" r="0.45" fill="#5a7ff5" opacity="0.55"/>
<circle cx="409.58" cy="477.37" r="0.45" fill="#5a7ff5" opacity="0.55"/>
<circle cx="412.23" cy="478.86" r="0.45" fill="#5a7ff5" opacity="0.55"/>
<circle cx="401.37" cy="485.71" r="0.45" fill="#5a7ff5" opacity="0.55"/>
<circle cx="406.46" cy="480.88" r="0.45" fill="#5a7ff5" opacity="0.55"/>
<circle cx="402.39" cy="483.19" r="0.45" fill="#5a7ff5" opacity="0.55"/>
<g transform="translate(402.50 484.50) rotate(-55)">
<ellipse cx="0" cy="0" rx="11.00" ry="6.40" fill="url(#gq4b)"/>
</g>
<text x="393.60" y="373.80" font-size="6.3">Q1</text>
<text x="393.60" y="380.00" font-size="6.3">0.2%</text>
<text x="434.80" y="373.80" font-size="6.3">Q2</text>
<text x="434.80" y="380.00" font-size="6.3">96.6%</text>
<text x="393.60" y="417.30" font-size="6.3">Q4</text>
<text x="393.60" y="423.50" font-size="6.3">3.22%</text>
<text x="434.80" y="417.30" font-size="6.3">Q3</text>
<text x="434.80" y="423.50" font-size="6.3">0.00%</text>
<text x="393.60" y="449.90" font-size="6.3">Q1</text>
<text x="393.60" y="456.10" font-size="6.3">0.012%</text>
<text x="433.60" y="449.90" font-size="6.3">Q2</text>
<text x="433.60" y="456.10" font-size="6.3">40.8%</text>
<text x="393.60" y="493.40" font-size="6.3">Q4</text>
<text x="393.60" y="499.60" font-size="6.3">59.2%</text>
<text x="429.90" y="493.40" font-size="6.3">Q3</text>
<text x="429.90" y="499.60" font-size="6.3">0.012%</text>
<text x="459.30" y="395.50" font-size="9.0" text-anchor="middle" textLength="26.50" lengthAdjust="spacingAndGlyphs" transform="rotate(90 459.30 395.50)">shCtrl</text>
<text x="459.30" y="472.20" font-size="9.0" text-anchor="middle" textLength="40.50" lengthAdjust="spacingAndGlyphs" transform="rotate(90 459.30 472.20)">shPRMT1</text>
<text x="8.00" y="554.00" font-size="11.5" fill="#000" font-weight="bold">I</text>
<text x="16.10" y="601.10" font-size="8.6" text-anchor="middle" textLength="64.00" lengthAdjust="spacingAndGlyphs" transform="rotate(-90 16.10 601.10)">% hCD45<tspan font-size="5.6" dy="-3.2">+</tspan><tspan dy="3.2"> hCD19</tspan><tspan font-size="5.6" dy="-3.2">+</tspan></text>
<path d="M40.4,576.5 V628.1 H100.5" stroke="#151515" stroke-width="1.45" fill="none" />
<line x1="38.00" y1="628.10" x2="40.40" y2="628.10" stroke="#1e1e1e" stroke-width="1.1" />
<text x="36.60" y="631.00" font-size="8.2" text-anchor="end" textLength="4.30" lengthAdjust="spacingAndGlyphs">0</text>
<line x1="38.00" y1="617.94" x2="40.40" y2="617.94" stroke="#1e1e1e" stroke-width="1.1" />
<text x="36.60" y="620.84" font-size="8.2" text-anchor="end" textLength="8.60" lengthAdjust="spacingAndGlyphs">20</text>
<line x1="38.00" y1="607.78" x2="40.40" y2="607.78" stroke="#1e1e1e" stroke-width="1.1" />
<text x="36.60" y="610.68" font-size="8.2" text-anchor="end" textLength="8.60" lengthAdjust="spacingAndGlyphs">40</text>
<line x1="38.00" y1="597.62" x2="40.40" y2="597.62" stroke="#1e1e1e" stroke-width="1.1" />
<text x="36.60" y="600.52" font-size="8.2" text-anchor="end" textLength="8.60" lengthAdjust="spacingAndGlyphs">60</text>
<line x1="38.00" y1="587.46" x2="40.40" y2="587.46" stroke="#1e1e1e" stroke-width="1.1" />
<text x="36.60" y="590.36" font-size="8.2" text-anchor="end" textLength="8.60" lengthAdjust="spacingAndGlyphs">80</text>
<line x1="38.00" y1="577.30" x2="40.40" y2="577.30" stroke="#1e1e1e" stroke-width="1.1" />
<text x="36.60" y="580.20" font-size="8.2" text-anchor="end" textLength="12.90" lengthAdjust="spacingAndGlyphs">100</text>
<line x1="57.50" y1="628.10" x2="57.50" y2="630.50" stroke="#1e1e1e" stroke-width="1.0" />
<line x1="83.60" y1="628.10" x2="83.60" y2="630.50" stroke="#1e1e1e" stroke-width="1.0" />
<text x="71.00" y="563.30" font-size="9.8" text-anchor="middle">BM</text>
<path d="M57.50,578.60 V575.60 H83.60 V578.60" stroke="#1e1e1e" stroke-width="0.9" fill="none" />
<circle cx="67.15" cy="572.40" r="1.2" fill="#1a1a1a" />
<circle cx="70.55" cy="572.40" r="1.2" fill="#1a1a1a" />
<circle cx="73.95" cy="572.40" r="1.2" fill="#1a1a1a" />
<text x="60.50" y="638.00" font-size="8.4" text-anchor="end" textLength="20.50" lengthAdjust="spacingAndGlyphs" transform="rotate(-45 60.50 638.00)">shCtrl</text>
<text x="85.10" y="638.00" font-size="8.4" text-anchor="end" textLength="32.00" lengthAdjust="spacingAndGlyphs" transform="rotate(-45 85.10 638.00)">shPRMT1</text>
<line x1="48.70" y1="580.60" x2="65.60" y2="580.60" stroke="#2d4a8a" stroke-width="1.6" />
<path d="M50.20,578.50 L51.60,581.02 L48.80,581.02 Z" stroke="#2d4a8a" stroke-width="0.3" fill="#2d4a8a" />
<path d="M53.50,579.20 L54.90,581.72 L52.10,581.72 Z" stroke="#2d4a8a" stroke-width="0.3" fill="#2d4a8a" />
<path d="M56.50,579.80 L57.90,582.32 L55.10,582.32 Z" stroke="#2d4a8a" stroke-width="0.3" fill="#2d4a8a" />
<path d="M59.50,579.00 L60.90,581.52 L58.10,581.52 Z" stroke="#2d4a8a" stroke-width="0.3" fill="#2d4a8a" />
<path d="M62.80,578.20 L64.20,580.72 L61.40,580.72 Z" stroke="#2d4a8a" stroke-width="0.3" fill="#2d4a8a" />
<line x1="75.10" y1="596.00" x2="92.10" y2="596.00" stroke="#b0062f" stroke-width="1.5" />
<line x1="83.50" y1="588.50" x2="83.50" y2="603.30" stroke="#b0062f" stroke-width="1.3" />
<line x1="79.60" y1="588.50" x2="87.60" y2="588.50" stroke="#b0062f" stroke-width="1.3" />
<line x1="79.60" y1="603.50" x2="87.60" y2="603.50" stroke="#b0062f" stroke-width="1.3" />
<circle cx="81.40" cy="590.00" r="1.3" fill="#b0062f" />
<circle cx="84.80" cy="587.60" r="1.3" fill="#b0062f" />
<circle cx="83.60" cy="598.50" r="1.3" fill="#b0062f" />
<circle cx="83.60" cy="607.00" r="1.3" fill="#b0062f" />
<circle cx="80.50" cy="596.00" r="1.3" fill="#b0062f" />
<text x="119.00" y="554.00" font-size="11.5" fill="#000" font-weight="bold">J</text>
<text x="125.60" y="600.60" font-size="8.6" text-anchor="middle" textLength="64.00" lengthAdjust="spacingAndGlyphs" transform="rotate(-90 125.60 600.60)">% hCD45<tspan font-size="5.6" dy="-3.2">+</tspan><tspan dy="3.2"> hCD19</tspan><tspan font-size="5.6" dy="-3.2">+</tspan></text>
<path d="M147.7,573.5 V628.1 H206.3" stroke="#151515" stroke-width="1.45" fill="none" />
<line x1="145.30" y1="628.10" x2="147.70" y2="628.10" stroke="#1e1e1e" stroke-width="1.1" />
<text x="141.30" y="631.00" font-size="8.2" text-anchor="end" textLength="4.30" lengthAdjust="spacingAndGlyphs">0</text>
<line x1="145.30" y1="614.60" x2="147.70" y2="614.60" stroke="#1e1e1e" stroke-width="1.1" />
<text x="141.30" y="617.50" font-size="8.2" text-anchor="end" textLength="8.60" lengthAdjust="spacingAndGlyphs">20</text>
<line x1="145.30" y1="601.10" x2="147.70" y2="601.10" stroke="#1e1e1e" stroke-width="1.1" />
<text x="141.30" y="604.00" font-size="8.2" text-anchor="end" textLength="8.60" lengthAdjust="spacingAndGlyphs">40</text>
<line x1="145.30" y1="587.60" x2="147.70" y2="587.60" stroke="#1e1e1e" stroke-width="1.1" />
<text x="141.30" y="590.50" font-size="8.2" text-anchor="end" textLength="8.60" lengthAdjust="spacingAndGlyphs">60</text>
<line x1="145.30" y1="574.10" x2="147.70" y2="574.10" stroke="#1e1e1e" stroke-width="1.1" />
<text x="141.30" y="577.00" font-size="8.2" text-anchor="end" textLength="8.60" lengthAdjust="spacingAndGlyphs">80</text>
<line x1="164.00" y1="628.10" x2="164.00" y2="630.50" stroke="#1e1e1e" stroke-width="1.0" />
<line x1="189.30" y1="628.10" x2="189.30" y2="630.50" stroke="#1e1e1e" stroke-width="1.0" />
<text x="176.70" y="563.30" font-size="9.8" text-anchor="middle">SP</text>
<path d="M164.00,585.00 V582.00 H189.30 V585.00" stroke="#1e1e1e" stroke-width="0.9" fill="none" />
<circle cx="174.95" cy="578.80" r="1.2" fill="#1a1a1a" />
<circle cx="178.35" cy="578.80" r="1.2" fill="#1a1a1a" />
<text x="167.00" y="638.00" font-size="8.4" text-anchor="end" textLength="20.50" lengthAdjust="spacingAndGlyphs" transform="rotate(-45 167.00 638.00)">shCtrl</text>
<text x="190.80" y="638.00" font-size="8.4" text-anchor="end" textLength="32.00" lengthAdjust="spacingAndGlyphs" transform="rotate(-45 190.80 638.00)">shPRMT1</text>
<line x1="155.20" y1="593.80" x2="172.80" y2="593.80" stroke="#3e5d9e" stroke-width="1.5" />
<line x1="164.50" y1="590.40" x2="164.50" y2="596.80" stroke="#3e5d9e" stroke-width="1.3" />
<line x1="159.80" y1="590.50" x2="168.20" y2="590.50" stroke="#3e5d9e" stroke-width="1.3" />
<line x1="159.80" y1="596.50" x2="168.20" y2="596.50" stroke="#3e5d9e" stroke-width="1.3" />
<path d="M161.50,589.70 L162.80,592.04 L160.20,592.04 Z" stroke="#2d4a8a" stroke-width="0.3" fill="#2d4a8a" />
<path d="M164.50,587.30 L165.80,589.64 L163.20,589.64 Z" stroke="#2d4a8a" stroke-width="0.3" fill="#2d4a8a" />
<path d="M167.00,591.20 L168.30,593.54 L165.70,593.54 Z" stroke="#2d4a8a" stroke-width="0.3" fill="#2d4a8a" />
<path d="M161.00,595.20 L162.30,597.54 L159.70,597.54 Z" stroke="#2d4a8a" stroke-width="0.3" fill="#2d4a8a" />
<path d="M166.00,595.50 L167.30,597.84 L164.70,597.84 Z" stroke="#2d4a8a" stroke-width="0.3" fill="#2d4a8a" />
<line x1="181.00" y1="611.20" x2="197.60" y2="611.20" stroke="#b0062f" stroke-width="1.5" />
<line x1="189.50" y1="603.80" x2="189.50" y2="618.60" stroke="#b0062f" stroke-width="1.3" />
<line x1="184.80" y1="603.50" x2="193.80" y2="603.50" stroke="#b0062f" stroke-width="1.3" />
<line x1="184.80" y1="618.50" x2="193.80" y2="618.50" stroke="#b0062f" stroke-width="1.3" />
<circle cx="188.30" cy="604.80" r="1.3" fill="#b0062f" />
<circle cx="190.60" cy="605.20" r="1.3" fill="#b0062f" />
<circle cx="188.70" cy="610.70" r="1.3" fill="#b0062f" />
<circle cx="188.90" cy="613.70" r="1.3" fill="#b0062f" />
<circle cx="188.90" cy="622.20" r="1.3" fill="#b0062f" />
<text x="223.50" y="554.00" font-size="11.5" fill="#000" font-weight="bold">K</text>
<text x="230.70" y="600.80" font-size="8.6" text-anchor="middle" textLength="64.00" lengthAdjust="spacingAndGlyphs" transform="rotate(-90 230.70 600.80)">% hCD45<tspan font-size="5.6" dy="-3.2">+</tspan><tspan dy="3.2"> hCD19</tspan><tspan font-size="5.6" dy="-3.2">+</tspan></text>
<path d="M248.8,574.6 V628.1 H315.5" stroke="#151515" stroke-width="1.45" fill="none" />
<line x1="246.40" y1="628.10" x2="248.80" y2="628.10" stroke="#1e1e1e" stroke-width="1.1" />
<text x="242.60" y="631.00" font-size="8.2" text-anchor="end" textLength="4.30" lengthAdjust="spacingAndGlyphs">0</text>
<line x1="246.40" y1="614.90" x2="248.80" y2="614.90" stroke="#1e1e1e" stroke-width="1.1" />
<text x="242.60" y="617.80" font-size="8.2" text-anchor="end" textLength="4.30" lengthAdjust="spacingAndGlyphs">2</text>
<line x1="246.40" y1="601.70" x2="248.80" y2="601.70" stroke="#1e1e1e" stroke-width="1.1" />
<text x="242.60" y="604.60" font-size="8.2" text-anchor="end" textLength="4.30" lengthAdjust="spacingAndGlyphs">4</text>
<line x1="246.40" y1="588.50" x2="248.80" y2="588.50" stroke="#1e1e1e" stroke-width="1.1" />
<text x="242.60" y="591.40" font-size="8.2" text-anchor="end" textLength="4.30" lengthAdjust="spacingAndGlyphs">6</text>
<line x1="246.40" y1="575.30" x2="248.80" y2="575.30" stroke="#1e1e1e" stroke-width="1.1" />
<text x="242.60" y="578.20" font-size="8.2" text-anchor="end" textLength="4.30" lengthAdjust="spacingAndGlyphs">8</text>
<line x1="267.50" y1="628.10" x2="267.50" y2="630.50" stroke="#1e1e1e" stroke-width="1.0" />
<line x1="295.80" y1="628.10" x2="295.80" y2="630.50" stroke="#1e1e1e" stroke-width="1.0" />
<text x="282.20" y="563.30" font-size="9.8" text-anchor="middle">PB</text>
<path d="M267.50,579.30 V576.30 H295.80 V579.30" stroke="#1e1e1e" stroke-width="0.9" fill="none" />
<circle cx="279.95" cy="573.10" r="1.2" fill="#1a1a1a" />
<circle cx="283.35" cy="573.10" r="1.2" fill="#1a1a1a" />
<text x="270.50" y="638.00" font-size="8.4" text-anchor="end" textLength="20.50" lengthAdjust="spacingAndGlyphs" transform="rotate(-45 270.50 638.00)">shCtrl</text>
<text x="297.30" y="638.00" font-size="8.4" text-anchor="end" textLength="32.00" lengthAdjust="spacingAndGlyphs" transform="rotate(-45 297.30 638.00)">shPRMT1</text>
<line x1="258.20" y1="597.60" x2="276.80" y2="597.60" stroke="#3e5d9e" stroke-width="1.5" />
<line x1="267.50" y1="586.80" x2="267.50" y2="608.40" stroke="#3e5d9e" stroke-width="1.3" />
<line x1="263.10" y1="586.50" x2="271.90" y2="586.50" stroke="#3e5d9e" stroke-width="1.3" />
<line x1="263.10" y1="608.50" x2="271.90" y2="608.50" stroke="#3e5d9e" stroke-width="1.3" />
<circle cx="267.50" cy="581.10" r="1.1" fill="#2d4a8a" />
<circle cx="267.50" cy="593.80" r="1.1" fill="#2d4a8a" />
<circle cx="267.50" cy="599.00" r="1.1" fill="#2d4a8a" />
<circle cx="269.50" cy="605.90" r="1.1" fill="#2d4a8a" />
<line x1="286.50" y1="617.50" x2="305.10" y2="617.50" stroke="#b0062f" stroke-width="1.5" />
<line x1="295.50" y1="612.90" x2="295.50" y2="621.70" stroke="#b0062f" stroke-width="1.3" />
<line x1="291.60" y1="612.50" x2="300.00" y2="612.50" stroke="#b0062f" stroke-width="1.3" />
<line x1="291.60" y1="621.50" x2="300.00" y2="621.50" stroke="#b0062f" stroke-width="1.3" />
<circle cx="292.00" cy="613.60" r="1.3" fill="#b0062f" />
<circle cx="297.50" cy="612.60" r="1.3" fill="#b0062f" />
<circle cx="295.80" cy="616.80" r="1.3" fill="#b0062f" />
<circle cx="293.50" cy="619.40" r="1.3" fill="#b0062f" />
<circle cx="295.50" cy="622.60" r="1.3" fill="#b0062f" />
<text x="333.00" y="554.50" font-size="11.5" fill="#000" font-weight="bold">L</text>
<path d="M363.6,553.6 V627.8 H469.4" stroke="#151515" stroke-width="1.45" fill="none" />
<line x1="361.20" y1="627.80" x2="363.60" y2="627.80" stroke="#1e1e1e" stroke-width="1.1" />
<text x="359.80" y="630.80" font-size="8.4" text-anchor="end" textLength="4.70" lengthAdjust="spacingAndGlyphs">0</text>
<line x1="361.20" y1="594.40" x2="363.60" y2="594.40" stroke="#1e1e1e" stroke-width="1.1" />
<text x="359.80" y="597.40" font-size="8.4" text-anchor="end" textLength="9.40" lengthAdjust="spacingAndGlyphs">50</text>
<line x1="361.20" y1="561.00" x2="363.60" y2="561.00" stroke="#1e1e1e" stroke-width="1.1" />
<text x="359.80" y="564.00" font-size="8.4" text-anchor="end" textLength="14.10" lengthAdjust="spacingAndGlyphs">100</text>
<line x1="363.60" y1="627.80" x2="363.60" y2="630.20" stroke="#1e1e1e" stroke-width="1.0" />
<text x="363.60" y="641.00" font-size="8.4" text-anchor="middle" textLength="4.70" lengthAdjust="spacingAndGlyphs">0</text>
<line x1="389.13" y1="627.80" x2="389.13" y2="630.20" stroke="#1e1e1e" stroke-width="1.0" />
<text x="389.13" y="641.00" font-size="8.4" text-anchor="middle" textLength="9.40" lengthAdjust="spacingAndGlyphs">20</text>
<line x1="414.65" y1="627.80" x2="414.65" y2="630.20" stroke="#1e1e1e" stroke-width="1.0" />
<text x="414.65" y="641.00" font-size="8.4" text-anchor="middle" textLength="9.40" lengthAdjust="spacingAndGlyphs">40</text>
<line x1="440.18" y1="627.80" x2="440.18" y2="630.20" stroke="#1e1e1e" stroke-width="1.0" />
<text x="440.18" y="641.00" font-size="8.4" text-anchor="middle" textLength="9.40" lengthAdjust="spacingAndGlyphs">60</text>
<line x1="465.70" y1="627.80" x2="465.70" y2="630.20" stroke="#1e1e1e" stroke-width="1.0" />
<text x="465.70" y="641.00" font-size="8.4" text-anchor="middle" textLength="9.40" lengthAdjust="spacingAndGlyphs">80</text>
<text x="339.60" y="590.30" font-size="8.6" text-anchor="middle" textLength="54.50" lengthAdjust="spacingAndGlyphs" transform="rotate(-90 339.60 590.30)">Percent survival</text>
<text x="416.90" y="653.80" font-size="8.6" text-anchor="middle" textLength="15.00" lengthAdjust="spacingAndGlyphs">Days</text>
<path d="M363.6,561.00 H411.2 V583.24 H412.4 V594.40 H416.5 V616.64 H418.1 V627.80" stroke="#2f4f96" stroke-width="1.3" fill="none" />
<path d="M411.2,561.00 H439.6 V583.24 H441.9 V605.56 H444.5 V616.64 H447.3 V627.80" stroke="#c0163c" stroke-width="1.3" fill="none" />
<line x1="410.30" y1="583.24" x2="412.10" y2="583.24" stroke="#111" stroke-width="1.0" />
<line x1="411.50" y1="594.40" x2="413.30" y2="594.40" stroke="#111" stroke-width="1.0" />
<line x1="415.60" y1="616.64" x2="417.40" y2="616.64" stroke="#111" stroke-width="1.0" />
<line x1="438.70" y1="583.24" x2="440.50" y2="583.24" stroke="#111" stroke-width="1.0" />
<line x1="441.00" y1="594.40" x2="442.80" y2="594.40" stroke="#111" stroke-width="1.0" />
<line x1="441.00" y1="605.56" x2="442.80" y2="605.56" stroke="#111" stroke-width="1.0" />
<line x1="443.60" y1="616.64" x2="445.40" y2="616.64" stroke="#111" stroke-width="1.0" />
<line x1="411.20" y1="578.50" x2="439.60" y2="578.50" stroke="#222" stroke-width="1.0" />
<circle cx="422.70" cy="567.80" r="1.2" fill="#1a1a1a" />
<circle cx="425.80" cy="567.80" r="1.2" fill="#1a1a1a" />
<circle cx="428.90" cy="567.80" r="1.2" fill="#1a1a1a" />
<text x="425.40" y="576.00" font-size="5.8" text-anchor="middle" textLength="22.00" lengthAdjust="spacingAndGlyphs"><tspan font-style="italic">p</tspan>=0.0006</text>
<line x1="453.50" y1="606.50" x2="460.40" y2="606.50" stroke="#2f4f96" stroke-width="1.2" />
<line x1="453.50" y1="617.50" x2="460.40" y2="617.50" stroke="#c0163c" stroke-width="1.2" />
<path d="M457.00,606.00 L457.90,607.62 L456.10,607.62 Z" stroke="#222" stroke-width="0.3" fill="#222" />
<path d="M457.00,616.80 L457.90,618.42 L456.10,618.42 Z" stroke="#222" stroke-width="0.3" fill="#222" />
<text x="463.80" y="610.00" font-size="8.4" textLength="39.30" lengthAdjust="spacingAndGlyphs">shCtrl (n=6)</text>
<text x="463.80" y="620.00" font-size="8.4" textLength="48.50" lengthAdjust="spacingAndGlyphs">shPRMT1(n=6)</text>
<rect x="0.5" y="0.5" width="519" height="669" fill="none" stroke="#000" stroke-width="1"/>
</svg>
</body></html>
